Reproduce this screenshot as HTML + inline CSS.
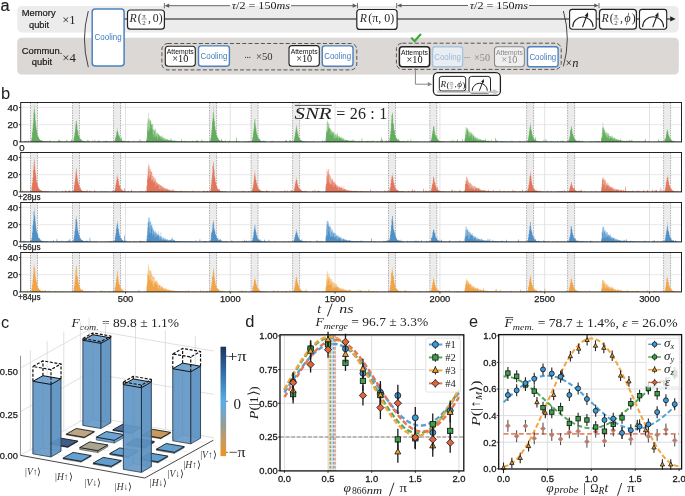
<!DOCTYPE html>
<html><head><meta charset="utf-8"><title>Figure</title>
<style>html,body{margin:0;padding:0;background:#fff;}svg{display:block;will-change:transform;}</style>
</head><body>
<svg width="685" height="496" viewBox="0 0 685 496">
<rect width="685" height="496" fill="#fff"/>
<text x="0.4" y="10.5" font-family="Liberation Sans" font-size="16.3" fill="#222" stroke="#1a1a1a" stroke-width="0.2">a</text>
<rect x="17.2" y="6" width="661.6" height="26.4" rx="4.5" fill="#ececec"/>
<rect x="17.2" y="37.7" width="661.6" height="36.8" rx="4.5" fill="#dbd8d6"/>
<text x="21.8" y="16.4" font-family="Liberation Sans" font-size="9.2" textLength="33.8" lengthAdjust="spacingAndGlyphs" fill="#1a1a1a" stroke="#1a1a1a" stroke-width="0.2">Memory</text>
<text x="29.0" y="27.6" font-family="Liberation Sans" font-size="9.2" textLength="20.2" lengthAdjust="spacingAndGlyphs" fill="#1a1a1a" stroke="#1a1a1a" stroke-width="0.2">qubit</text>
<text x="62.2" y="23.6" font-family="Liberation Serif" font-size="12.5" textLength="13.4" lengthAdjust="spacingAndGlyphs" fill="#222">×1</text>
<text x="21.8" y="53.7" font-family="Liberation Sans" font-size="9.3" textLength="40.6" lengthAdjust="spacingAndGlyphs" fill="#1a1a1a" stroke="#1a1a1a" stroke-width="0.2">Commun.</text>
<text x="31.8" y="64.8" font-family="Liberation Sans" font-size="9.2" textLength="20.3" lengthAdjust="spacingAndGlyphs" fill="#1a1a1a" stroke="#1a1a1a" stroke-width="0.2">qubit</text>
<text x="62.2" y="61.6" font-family="Liberation Serif" font-size="12.5" textLength="13.6" lengthAdjust="spacingAndGlyphs" fill="#222">×4</text>
<path d="M88.3 11 Q80.6 39 88.3 67.2" fill="none" stroke="#333" stroke-width="0.9"/>
<path d="M563.4 11 Q571.2 38.6 563.4 66.4" fill="none" stroke="#333" stroke-width="0.9"/>
<text x="565.6" y="66.6" font-family="Liberation Serif" font-size="11.5" fill="#222">×</text>
<text x="572.2" y="66.6" font-family="Liberation Serif" font-size="12.5" font-style="italic" fill="#222">n</text>
<line x1="124" y1="19.0" x2="670.5" y2="19.0" stroke="#151515" stroke-width="1.15"/>
<path d="M675.6 18.9 l-5.4 -2.6 v5.2z" fill="#222"/>
<rect x="92.2" y="9.1" width="31.90" height="56.80" rx="2.8" fill="#fff" stroke="#4c82bd" stroke-width="1.5"/>
<text x="108.1" y="40.2" font-family="Liberation Sans" font-size="9.3" text-anchor="middle" textLength="27.0" lengthAdjust="spacingAndGlyphs" fill="#3f7bbd">Cooling</text>
<rect x="127.5" y="10.0" width="36.90" height="19.20" rx="3" fill="#fff" stroke="#222" stroke-width="1.2"/><text x="129.40" y="21.80" font-family="Liberation Serif" font-size="11.8" font-style="italic" fill="#2a2a2a">R</text><text x="137.80" y="22.20" font-family="Liberation Serif" font-size="11.8" fill="#2a2a2a">(</text><text x="144.10" y="17.95" font-family="Liberation Serif" font-size="7.0" text-anchor="middle" fill="#3a3a3a">π</text><line x1="141.44" y1="19.00" x2="146.76" y2="19.00" stroke="#3a3a3a" stroke-width="0.5"/><text x="144.10" y="24.60" font-family="Liberation Serif" font-size="7.0" text-anchor="middle" fill="#3a3a3a">2</text><text x="148.10" y="21.80" font-family="Liberation Serif" font-size="11.8" fill="#2a2a2a">,</text><text x="152.70" y="21.80" font-family="Liberation Serif" font-size="11.8" fill="#2a2a2a">0</text><text x="158.70" y="22.20" font-family="Liberation Serif" font-size="11.8" fill="#2a2a2a">)</text>
<rect x="356.8" y="9.5" width="40.30" height="19.90" rx="3" fill="#fff" stroke="#222" stroke-width="1.2"/><text x="359.80" y="22.00" font-family="Liberation Serif" font-size="11.8" font-style="italic" fill="#2a2a2a">R</text><text x="368.20" y="22.40" font-family="Liberation Serif" font-size="11.8" textLength="26.0" lengthAdjust="spacingAndGlyphs" fill="#2a2a2a">(π, 0)</text>
<rect x="569.6" y="9.4" width="26.60" height="19.80" rx="2.6" fill="#fff" stroke="#222" stroke-width="1.1"/><path d="M572.80 26.60 A10.10 9.60 0 0 1 593.00 26.60" fill="none" stroke="#222" stroke-width="1.15" stroke-linecap="round"/><line x1="582.70" y1="26.60" x2="586.45" y2="16.46" stroke="#222" stroke-width="1.15" stroke-linecap="round"/><path d="M587.95 12.37 L588.21 17.11 L584.68 15.80Z" fill="#222"/>
<rect x="599.5" y="9.4" width="36.90" height="19.80" rx="3" fill="#fff" stroke="#222" stroke-width="1.2"/><text x="601.40" y="21.80" font-family="Liberation Serif" font-size="11.8" font-style="italic" fill="#2a2a2a">R</text><text x="609.80" y="22.20" font-family="Liberation Serif" font-size="11.8" fill="#2a2a2a">(</text><text x="616.10" y="17.95" font-family="Liberation Serif" font-size="7.0" text-anchor="middle" fill="#3a3a3a">π</text><line x1="613.44" y1="19.00" x2="618.76" y2="19.00" stroke="#3a3a3a" stroke-width="0.5"/><text x="616.10" y="24.60" font-family="Liberation Serif" font-size="7.0" text-anchor="middle" fill="#3a3a3a">2</text><text x="620.10" y="21.80" font-family="Liberation Serif" font-size="11.8" fill="#2a2a2a">,</text><text x="624.50" y="21.80" font-family="Liberation Serif" font-size="11.8" font-style="italic" fill="#2a2a2a">ϕ</text><text x="631.70" y="22.20" font-family="Liberation Serif" font-size="11.8" fill="#2a2a2a">)</text>
<rect x="639.5" y="9.4" width="27.20" height="19.80" rx="2.6" fill="#fff" stroke="#222" stroke-width="1.1"/><path d="M642.70 26.60 A10.40 9.88 0 0 1 663.50 26.60" fill="none" stroke="#222" stroke-width="1.15" stroke-linecap="round"/><line x1="652.90" y1="26.60" x2="656.73" y2="16.45" stroke="#222" stroke-width="1.15" stroke-linecap="round"/><path d="M658.27 12.37 L658.49 17.11 L654.97 15.78Z" fill="#222"/>
<line x1="164.4" y1="3.1" x2="164.4" y2="8.4" stroke="#5a5a5a" stroke-width="0.9"/><line x1="357.5" y1="3.1" x2="357.5" y2="8.4" stroke="#5a5a5a" stroke-width="0.9"/><line x1="166.4" y1="5.7" x2="230.0" y2="5.7" stroke="#555" stroke-width="0.9"/><line x1="291.0" y1="5.7" x2="355.5" y2="5.7" stroke="#555" stroke-width="0.9"/><path d="M164.8 5.7 l4.4 -2.1 v4.2z" fill="#5a5a5a"/><path d="M357.1 5.7 l-4.4 -2.1 v4.2z" fill="#5a5a5a"/><text x="231.7" y="8.9" font-family="Liberation Serif" font-size="10.6" fill="#222" textLength="58.3" lengthAdjust="spacingAndGlyphs"><tspan font-style="italic">τ</tspan>/2 = 150<tspan font-style="italic">ms</tspan></text>
<line x1="396.7" y1="2.9" x2="396.7" y2="8.2" stroke="#5a5a5a" stroke-width="0.9"/><line x1="599.0" y1="2.9" x2="599.0" y2="8.2" stroke="#5a5a5a" stroke-width="0.9"/><line x1="398.7" y1="5.5" x2="468.0" y2="5.5" stroke="#555" stroke-width="0.9"/><line x1="529.0" y1="5.5" x2="597.0" y2="5.5" stroke="#555" stroke-width="0.9"/><path d="M397.09999999999997 5.5 l4.4 -2.1 v4.2z" fill="#5a5a5a"/><path d="M598.6 5.5 l-4.4 -2.1 v4.2z" fill="#5a5a5a"/><text x="469.7" y="8.7" font-family="Liberation Serif" font-size="10.6" fill="#222" textLength="58.3" lengthAdjust="spacingAndGlyphs"><tspan font-style="italic">τ</tspan>/2 = 150<tspan font-style="italic">ms</tspan></text>
<rect x="161.9" y="43.5" width="194.9" height="26.4" rx="6" fill="none" stroke="#555" stroke-width="1" stroke-dasharray="4 2.2"/>
<rect x="396.4" y="43.2" width="164.8" height="26.2" rx="6" fill="none" stroke="#555" stroke-width="1" stroke-dasharray="4 2.2"/>
<rect x="165.3" y="46.3" width="30.00" height="19.90" rx="3" fill="#fff" stroke="#222" stroke-width="1.1"/><text x="180.30" y="54.30" font-family="Liberation Sans" font-size="6.6" text-anchor="middle" textLength="27.0" lengthAdjust="spacingAndGlyphs" fill="#111">Attempts</text><text x="180.30" y="62.40" font-family="Liberation Serif" font-size="10" text-anchor="middle" textLength="16" lengthAdjust="spacingAndGlyphs" fill="#111">×10</text>
<rect x="198.5" y="45.9" width="30.90" height="20.30" rx="2.6" fill="#fff" stroke="#4c82bd" stroke-width="1.4"/><text x="213.95" y="59.15" font-family="Liberation Sans" font-size="9.1" text-anchor="middle" textLength="26.8" lengthAdjust="spacingAndGlyphs" fill="#3f7bbd">Cooling</text>
<circle cx="245.6" cy="57.3" r="0.65" fill="#333"/><circle cx="247.7" cy="57.3" r="0.65" fill="#333"/><circle cx="249.8" cy="57.3" r="0.65" fill="#333"/>
<text x="256.0" y="60.2" font-family="Liberation Serif" font-size="10" textLength="16.6" lengthAdjust="spacingAndGlyphs" fill="#333">×50</text>
<rect x="289.0" y="45.6" width="30.30" height="20.60" rx="3" fill="#fff" stroke="#222" stroke-width="1.1"/><text x="304.15" y="53.60" font-family="Liberation Sans" font-size="6.6" text-anchor="middle" textLength="27.0" lengthAdjust="spacingAndGlyphs" fill="#111">Attempts</text><text x="304.15" y="61.70" font-family="Liberation Serif" font-size="10" text-anchor="middle" textLength="16" lengthAdjust="spacingAndGlyphs" fill="#111">×10</text>
<rect x="322.3" y="45.9" width="30.70" height="20.30" rx="2.6" fill="#fff" stroke="#4c82bd" stroke-width="1.4"/><text x="337.65" y="59.15" font-family="Liberation Sans" font-size="9.1" text-anchor="middle" textLength="26.8" lengthAdjust="spacingAndGlyphs" fill="#3f7bbd">Cooling</text>
<rect x="399.4" y="46.7" width="30.20" height="20.10" rx="3" fill="#fff" stroke="#222" stroke-width="1.5"/><text x="414.50" y="54.70" font-family="Liberation Sans" font-size="6.6" text-anchor="middle" textLength="27.0" lengthAdjust="spacingAndGlyphs" fill="#111">Attempts</text><text x="414.50" y="62.80" font-family="Liberation Serif" font-size="10" text-anchor="middle" textLength="16" lengthAdjust="spacingAndGlyphs" fill="#111">×10</text>
<rect x="432.6" y="46.7" width="30.00" height="20.10" rx="2.6" fill="#e9eef3" stroke="#a9c3dc" stroke-width="1.4"/><text x="447.60" y="59.85" font-family="Liberation Sans" font-size="9.1" text-anchor="middle" textLength="26.8" lengthAdjust="spacingAndGlyphs" fill="#9db9d6">Cooling</text>
<circle cx="465.0" cy="57.6" r="0.65" fill="#888"/><circle cx="467.1" cy="57.6" r="0.65" fill="#888"/><circle cx="469.2" cy="57.6" r="0.65" fill="#888"/>
<text x="474.0" y="60.6" font-family="Liberation Serif" font-size="10" textLength="16.0" lengthAdjust="spacingAndGlyphs" fill="#888">×50</text>
<rect x="494.5" y="46.7" width="29.90" height="20.10" rx="3" fill="#efefef" stroke="#8a8a8a" stroke-width="1.1"/><text x="509.45" y="54.70" font-family="Liberation Sans" font-size="6.6" text-anchor="middle" textLength="27.0" lengthAdjust="spacingAndGlyphs" fill="#8a8a8a">Attempts</text><text x="509.45" y="62.80" font-family="Liberation Serif" font-size="10" text-anchor="middle" textLength="16" lengthAdjust="spacingAndGlyphs" fill="#8a8a8a">×10</text>
<rect x="527.5" y="46.7" width="30.60" height="20.10" rx="2.6" fill="#fff" stroke="#4c82bd" stroke-width="1.4"/><text x="542.80" y="59.85" font-family="Liberation Sans" font-size="9.1" text-anchor="middle" textLength="26.8" lengthAdjust="spacingAndGlyphs" fill="#3f7bbd">Cooling</text>
<path d="M411.2 37.6 L414.6 41.2 L420.9 34.0" fill="none" stroke="#3aaa35" stroke-width="2.1"/>
<path d="M415.4 67 V84.2 H429.4" fill="none" stroke="#888" stroke-width="1"/>
<path d="M432.2 84.2 l-4.4 -2.3 v4.6z" fill="#888"/>
<rect x="433.4" y="72.7" width="67.00" height="22.70" rx="4.5" fill="#fff" stroke="#222" stroke-width="1.3"/>
<line x1="437.4" y1="91.6" x2="494" y2="91.6" stroke="#c9c9c9" stroke-width="2.6"/>
<path d="M499.4 91.9 l-6 -2.9 v5.8z" fill="#c9c9c9"/>
<rect x="439.3" y="76.4" width="26.40" height="14.60" rx="2.4" fill="#fff" stroke="#222" stroke-width="1.0"/><text x="440.5" y="87.4" font-family="Liberation Serif" font-size="9.2" font-style="italic" fill="#222">R</text><text x="446.6" y="87.6" font-family="Liberation Serif" font-size="9.2" fill="#222">(</text><text x="451.60" y="84.05" font-family="Liberation Serif" font-size="5.0" text-anchor="middle" fill="#555">π</text><line x1="449.70" y1="84.80" x2="453.50" y2="84.80" stroke="#555" stroke-width="0.5"/><text x="451.60" y="88.80" font-family="Liberation Serif" font-size="5.0" text-anchor="middle" fill="#555">2</text><text x="454.4" y="87.4" font-family="Liberation Serif" font-size="9.2" fill="#222">,</text><text x="457.2" y="87.4" font-family="Liberation Serif" font-size="9.2" font-style="italic" fill="#222">ϕ</text><text x="462.2" y="87.6" font-family="Liberation Serif" font-size="9.2" fill="#222">)</text>
<rect x="469.0" y="76.4" width="21.50" height="16.60" rx="2.6" fill="#fff" stroke="#222" stroke-width="1.0"/><path d="M472.20 90.40 A7.55 7.17 0 0 1 487.30 90.40" fill="none" stroke="#222" stroke-width="1.0" stroke-linecap="round"/><line x1="479.55" y1="90.40" x2="482.56" y2="82.31" stroke="#222" stroke-width="1.0" stroke-linecap="round"/><path d="M483.83 78.89 L484.04 82.86 L481.08 81.76Z" fill="#222"/>
<line x1="437.4" y1="92.2" x2="494" y2="92.2" stroke="#c9c9c9" stroke-width="1.6"/>
<text x="1.0" y="99.0" font-family="Liberation Sans" font-size="16.5" fill="#222">b</text>
<rect x="30.50" y="102.50" width="7" height="39.40" fill="#ececec"/>
<rect x="72.50" y="102.50" width="7" height="39.40" fill="#ececec"/>
<rect x="113.55" y="102.50" width="7" height="39.40" fill="#ececec"/>
<rect x="209.55" y="102.50" width="7" height="39.40" fill="#ececec"/>
<rect x="251.05" y="102.50" width="7" height="39.40" fill="#ececec"/>
<rect x="292.60" y="102.50" width="7" height="39.40" fill="#ececec"/>
<rect x="388.50" y="102.50" width="7" height="39.40" fill="#ececec"/>
<rect x="429.85" y="102.50" width="7" height="39.40" fill="#ececec"/>
<rect x="526.60" y="102.50" width="7" height="39.40" fill="#ececec"/>
<rect x="567.60" y="102.50" width="7" height="39.40" fill="#ececec"/>
<rect x="663.60" y="102.50" width="7" height="39.40" fill="#ececec"/>
<line x1="20.70" y1="124.66" x2="681.50" y2="124.66" stroke="#e3e3e3" stroke-width="0.8"/>
<line x1="20.70" y1="107.42" x2="681.50" y2="107.42" stroke="#e3e3e3" stroke-width="0.8"/>
<line x1="125.50" y1="102.50" x2="125.50" y2="141.90" stroke="#dcdcdc" stroke-width="0.8"/>
<line x1="230.30" y1="102.50" x2="230.30" y2="141.90" stroke="#dcdcdc" stroke-width="0.8"/>
<line x1="335.10" y1="102.50" x2="335.10" y2="141.90" stroke="#dcdcdc" stroke-width="0.8"/>
<line x1="439.90" y1="102.50" x2="439.90" y2="141.90" stroke="#dcdcdc" stroke-width="0.8"/>
<line x1="544.70" y1="102.50" x2="544.70" y2="141.90" stroke="#dcdcdc" stroke-width="0.8"/>
<line x1="649.50" y1="102.50" x2="649.50" y2="141.90" stroke="#dcdcdc" stroke-width="0.8"/>
<line x1="30.50" y1="102.50" x2="30.50" y2="141.90" stroke="#7a7a7a" stroke-width="0.6" stroke-dasharray="1.4 1.1"/>
<line x1="37.50" y1="102.50" x2="37.50" y2="141.90" stroke="#7a7a7a" stroke-width="0.6" stroke-dasharray="1.4 1.1"/>
<line x1="72.50" y1="102.50" x2="72.50" y2="141.90" stroke="#7a7a7a" stroke-width="0.6" stroke-dasharray="1.4 1.1"/>
<line x1="79.50" y1="102.50" x2="79.50" y2="141.90" stroke="#7a7a7a" stroke-width="0.6" stroke-dasharray="1.4 1.1"/>
<line x1="113.55" y1="102.50" x2="113.55" y2="141.90" stroke="#7a7a7a" stroke-width="0.6" stroke-dasharray="1.4 1.1"/>
<line x1="120.55" y1="102.50" x2="120.55" y2="141.90" stroke="#7a7a7a" stroke-width="0.6" stroke-dasharray="1.4 1.1"/>
<line x1="209.55" y1="102.50" x2="209.55" y2="141.90" stroke="#7a7a7a" stroke-width="0.6" stroke-dasharray="1.4 1.1"/>
<line x1="216.55" y1="102.50" x2="216.55" y2="141.90" stroke="#7a7a7a" stroke-width="0.6" stroke-dasharray="1.4 1.1"/>
<line x1="251.05" y1="102.50" x2="251.05" y2="141.90" stroke="#7a7a7a" stroke-width="0.6" stroke-dasharray="1.4 1.1"/>
<line x1="258.05" y1="102.50" x2="258.05" y2="141.90" stroke="#7a7a7a" stroke-width="0.6" stroke-dasharray="1.4 1.1"/>
<line x1="292.60" y1="102.50" x2="292.60" y2="141.90" stroke="#7a7a7a" stroke-width="0.6" stroke-dasharray="1.4 1.1"/>
<line x1="299.60" y1="102.50" x2="299.60" y2="141.90" stroke="#7a7a7a" stroke-width="0.6" stroke-dasharray="1.4 1.1"/>
<line x1="388.50" y1="102.50" x2="388.50" y2="141.90" stroke="#7a7a7a" stroke-width="0.6" stroke-dasharray="1.4 1.1"/>
<line x1="395.50" y1="102.50" x2="395.50" y2="141.90" stroke="#7a7a7a" stroke-width="0.6" stroke-dasharray="1.4 1.1"/>
<line x1="429.85" y1="102.50" x2="429.85" y2="141.90" stroke="#7a7a7a" stroke-width="0.6" stroke-dasharray="1.4 1.1"/>
<line x1="436.85" y1="102.50" x2="436.85" y2="141.90" stroke="#7a7a7a" stroke-width="0.6" stroke-dasharray="1.4 1.1"/>
<line x1="526.60" y1="102.50" x2="526.60" y2="141.90" stroke="#7a7a7a" stroke-width="0.6" stroke-dasharray="1.4 1.1"/>
<line x1="533.60" y1="102.50" x2="533.60" y2="141.90" stroke="#7a7a7a" stroke-width="0.6" stroke-dasharray="1.4 1.1"/>
<line x1="567.60" y1="102.50" x2="567.60" y2="141.90" stroke="#7a7a7a" stroke-width="0.6" stroke-dasharray="1.4 1.1"/>
<line x1="574.60" y1="102.50" x2="574.60" y2="141.90" stroke="#7a7a7a" stroke-width="0.6" stroke-dasharray="1.4 1.1"/>
<line x1="663.60" y1="102.50" x2="663.60" y2="141.90" stroke="#7a7a7a" stroke-width="0.6" stroke-dasharray="1.4 1.1"/>
<line x1="670.60" y1="102.50" x2="670.60" y2="141.90" stroke="#7a7a7a" stroke-width="0.6" stroke-dasharray="1.4 1.1"/>
<path d="M21.20 141.90V141.9H21.70V141.9H22.20V141.9H22.70V141.9H23.20V141.9H23.70V141.9H24.20V141.9H24.70V140.8H25.20V141.1H25.70V141.9H26.20V141.9H26.70V141.4H27.20V141.9H27.70V141.9H28.20V140.2H28.70V141.9H29.20V141.9H29.70V141.9H30.20V141.9H30.70V141.9H31.20V140.5H31.70V137.2H32.20V132.1H32.70V124.8H33.20V118.0H33.70V109.3H34.20V105.3H34.70V113.7H35.20V119.9H35.70V124.7H36.20V128.6H36.70V131.5H37.20V133.8H37.70V135.4H38.20V137.0H38.70V138.1H39.20V138.9H39.70V139.6H40.20V140.1H40.70V140.5H41.20V140.8H41.70V140.1H42.20V140.8H42.70V141.0H43.20V141.5H43.70V141.2H44.20V141.6H44.70V141.7H45.20V141.8H45.70V141.8H46.20V141.1H46.70V140.7H47.20V141.7H47.70V141.9H48.20V141.4H48.70V141.9H49.20V141.9H49.70V140.1H50.20V141.9H50.70V141.1H51.20V141.9H51.70V141.9H52.20V141.9H52.70V141.9H53.20V141.9H53.70V141.5H54.20V141.5H54.70V141.9H55.20V141.9H55.70V141.9H56.20V141.9H56.70V141.2H57.20V141.9H57.70V141.7H58.20V141.9H58.70V139.3H59.20V140.5H59.70V140.4H60.20V141.5H60.70V141.9H61.20V141.7H61.70V141.3H62.20V141.9H62.70V141.9H63.20V141.6H63.70V141.9H64.20V141.7H64.70V141.2H65.20V141.9H65.70V141.3H66.20V141.9H66.70V139.6H67.20V141.9H67.70V141.9H68.20V141.9H68.70V141.9H69.20V141.7H69.70V141.5H70.20V141.4H70.70V141.9H71.20V139.2H71.70V140.8H72.20V141.9H72.70V141.9H73.20V141.2H73.70V138.3H74.20V135.9H74.70V132.3H75.20V127.1H75.70V121.8H76.20V120.5H76.70V124.6H77.20V128.9H77.70V130.3H78.20V134.0H78.70V135.8H79.20V137.1H79.70V138.2H80.20V138.4H80.70V139.6H81.20V140.1H81.70V139.7H82.20V140.8H82.70V141.1H83.20V141.3H83.70V141.4H84.20V141.5H84.70V141.6H85.20V141.7H85.70V141.7H86.20V141.8H86.70V141.8H87.20V141.6H87.70V139.2H88.20V141.8H88.70V141.7H89.20V140.8H89.70V141.9H90.20V141.9H90.70V141.9H91.20V141.9H91.70V141.9H92.20V140.3H92.70V141.9H93.20V141.8H93.70V141.8H94.20V141.9H94.70V139.7H95.20V141.9H95.70V141.9H96.20V141.9H96.70V141.6H97.20V141.2H97.70V141.9H98.20V140.6H98.70V140.3H99.20V141.9H99.70V141.2H100.20V141.9H100.70V141.9H101.20V141.9H101.70V141.9H102.20V141.9H102.70V141.6H103.20V141.9H103.70V140.9H104.20V141.7H104.70V141.3H105.20V141.7H105.70V141.8H106.20V140.3H106.70V141.9H107.20V141.6H107.70V141.5H108.20V141.9H108.70V141.7H109.20V141.9H109.70V141.8H110.20V141.9H110.70V140.9H111.20V141.9H111.70V141.9H112.20V141.8H112.70V141.9H113.20V141.9H113.70V141.8H114.20V141.1H114.70V140.4H115.20V137.6H115.70V136.2H116.20V133.5H116.70V130.4H117.20V127.9H117.70V131.4H118.20V133.7H118.70V135.5H119.20V135.2H119.70V138.0H120.20V138.9H120.70V139.6H121.20V136.7H121.70V140.5H122.20V140.8H122.70V141.0H123.20V140.4H123.70V141.4H124.20V141.2H124.70V141.6H125.20V141.7H125.70V141.7H126.20V141.3H126.70V141.8H127.20V141.6H127.70V141.5H128.20V140.7H128.70V140.9H129.20V141.9H129.70V141.9H130.20V141.9H130.70V141.9H131.20V141.8H131.70V141.9H132.20V141.9H132.70V141.6H133.20V141.9H133.70V140.5H134.20V141.9H134.70V141.9H135.20V141.9H135.70V141.9H136.20V141.9H136.70V141.9H137.20V141.4H137.70V141.9H138.20V141.8H138.70V141.9H139.20V141.9H139.70V138.8H140.20V141.9H140.70V141.9H141.20V140.7H141.70V141.9H142.20V141.9H142.70V141.4H143.20V141.9H143.70V141.9H144.20V141.9H144.70V141.9H145.20V141.9H145.70V141.7H146.20V140.1H146.70V136.2H147.20V126.7H147.70V119.0H148.20V112.7H148.70V119.8H149.20V117.9H149.70V120.5H150.20V120.6H150.70V120.4H151.20V124.8H151.70V122.9H152.20V124.0H152.70V124.7H153.20V128.9H153.70V129.4H154.20V130.6H154.70V129.8H155.20V128.2H155.70V130.6H156.20V132.9H156.70V133.5H157.20V132.6H157.70V133.4H158.20V134.2H158.70V134.5H159.20V134.9H159.70V135.9H160.20V135.9H160.70V135.6H161.20V136.7H161.70V136.8H162.20V135.3H162.70V137.7H163.20V137.6H163.70V137.8H164.20V137.9H164.70V137.9H165.20V138.9H165.70V139.0H166.20V139.2H166.70V139.0H167.20V139.1H167.70V139.4H168.20V139.7H168.70V139.8H169.20V140.0H169.70V140.3H170.20V140.1H170.70V137.9H171.20V140.2H171.70V140.6H172.20V140.6H172.70V140.6H173.20V140.6H173.70V140.5H174.20V140.9H174.70V139.7H175.20V141.1H175.70V141.1H176.20V140.8H176.70V141.1H177.20V141.2H177.70V140.7H178.20V141.3H178.70V141.3H179.20V141.4H179.70V141.4H180.20V141.4H180.70V141.4H181.20V139.1H181.70V141.4H182.20V140.8H182.70V141.6H183.20V141.5H183.70V141.6H184.20V140.6H184.70V141.6H185.20V141.6H185.70V141.4H186.20V141.4H186.70V141.7H187.20V141.7H187.70V141.7H188.20V141.1H188.70V141.7H189.20V141.6H189.70V141.7H190.20V141.8H190.70V141.3H191.20V141.8H191.70V141.8H192.20V140.5H192.70V141.2H193.20V141.8H193.70V141.2H194.20V141.8H194.70V141.8H195.20V141.8H195.70V141.8H196.20V140.6H196.70V139.9H197.20V140.7H197.70V141.7H198.20V141.5H198.70V141.9H199.20V141.9H199.70V141.9H200.20V141.5H200.70V141.9H201.20V141.9H201.70V139.3H202.20V141.7H202.70V141.5H203.20V141.9H203.70V141.9H204.20V140.7H204.70V141.9H205.20V141.9H205.70V141.9H206.20V141.5H206.70V141.9H207.20V141.1H207.70V141.9H208.20V141.9H208.70V141.9H209.20V141.9H209.70V141.8H210.20V140.3H210.70V137.9H211.20V132.9H211.70V127.7H212.20V121.0H212.70V112.4H213.20V106.5H213.70V115.6H214.20V121.4H214.70V125.9H215.20V129.5H215.70V131.8H216.20V134.4H216.70V135.5H217.20V137.3H217.70V137.7H218.20V138.8H218.70V139.7H219.20V140.2H219.70V140.6H220.20V140.9H220.70V141.1H221.20V138.7H221.70V139.9H222.20V141.1H222.70V141.6H223.20V141.2H223.70V141.0H224.20V141.8H224.70V141.8H225.20V139.8H225.70V141.8H226.20V141.8H226.70V141.7H227.20V141.9H227.70V140.8H228.20V141.8H228.70V141.8H229.20V140.4H229.70V141.6H230.20V141.8H230.70V141.9H231.20V141.7H231.70V141.9H232.20V141.9H232.70V141.1H233.20V141.9H233.70V141.9H234.20V141.1H234.70V141.9H235.20V141.9H235.70V141.7H236.20V137.1H236.70V141.1H237.20V141.9H237.70V140.7H238.20V141.9H238.70V141.9H239.20V141.0H239.70V141.8H240.20V141.9H240.70V141.9H241.20V141.9H241.70V141.9H242.20V141.9H242.70V141.9H243.20V141.9H243.70V141.9H244.20V141.5H244.70V141.9H245.20V141.9H245.70V141.9H246.20V141.8H246.70V140.9H247.20V141.8H247.70V141.9H248.20V140.7H248.70V141.8H249.20V141.6H249.70V141.7H250.20V141.9H250.70V141.9H251.20V141.9H251.70V140.9H252.20V139.0H252.70V136.2H253.20V132.1H253.70V127.6H254.20V122.5H254.70V118.5H255.20V123.7H255.70V128.1H256.20V131.1H256.70V133.0H257.20V135.4H257.70V136.8H258.20V137.9H258.70V138.7H259.20V138.5H259.70V140.0H260.20V140.4H260.70V140.8H261.20V141.0H261.70V141.2H262.20V141.4H262.70V140.9H263.20V141.6H263.70V139.9H264.20V141.6H264.70V141.3H265.20V141.8H265.70V141.7H266.20V141.8H266.70V141.8H267.20V141.9H267.70V141.9H268.20V141.9H268.70V141.9H269.20V141.9H269.70V141.9H270.20V141.7H270.70V141.6H271.20V141.0H271.70V141.9H272.20V140.7H272.70V141.9H273.20V141.4H273.70V141.9H274.20V141.2H274.70V141.9H275.20V141.9H275.70V141.8H276.20V141.9H276.70V141.4H277.20V141.7H277.70V141.9H278.20V141.6H278.70V141.9H279.20V141.7H279.70V141.8H280.20V141.9H280.70V141.9H281.20V141.9H281.70V141.6H282.20V141.9H282.70V141.9H283.20V141.9H283.70V141.4H284.20V141.9H284.70V141.9H285.20V140.7H285.70V140.0H286.20V140.0H286.70V141.9H287.20V141.9H287.70V141.9H288.20V141.9H288.70V141.9H289.20V141.9H289.70V139.5H290.20V140.2H290.70V140.9H291.20V141.9H291.70V141.9H292.20V141.9H292.70V141.9H293.20V141.6H293.70V140.2H294.20V138.0H294.70V135.1H295.20V131.8H295.70V128.0H296.20V124.6H296.70V128.4H297.20V131.4H297.70V131.7H298.20V135.5H298.70V136.9H299.20V138.0H299.70V138.9H300.20V139.6H300.70V140.1H301.20V140.5H301.70V140.8H302.20V141.0H302.70V141.2H303.20V141.4H303.70V141.5H304.20V141.6H304.70V141.7H305.20V141.7H305.70V141.8H306.20V141.8H306.70V141.8H307.20V141.8H307.70V141.8H308.20V141.9H308.70V141.9H309.20V141.9H309.70V141.0H310.20V141.9H310.70V141.9H311.20V141.7H311.70V141.9H312.20V141.9H312.70V141.9H313.20V140.5H313.70V141.9H314.20V141.9H314.70V141.9H315.20V141.9H315.70V141.9H316.20V141.9H316.70V141.9H317.20V141.9H317.70V141.9H318.20V141.9H318.70V141.6H319.20V141.9H319.70V141.9H320.20V141.9H320.70V141.9H321.20V141.9H321.70V141.9H322.20V140.0H322.70V141.9H323.20V141.9H323.70V141.7H324.20V141.9H324.70V140.5H325.20V141.9H325.70V136.6H326.20V130.4H326.70V122.7H327.20V120.6H327.70V121.5H328.20V123.4H328.70V123.6H329.20V127.8H329.70V128.2H330.20V128.7H330.70V129.7H331.20V130.1H331.70V130.7H332.20V131.6H332.70V133.1H333.20V131.5H333.70V131.9H334.20V133.3H334.70V134.5H335.20V134.6H335.70V134.2H336.20V135.2H336.70V133.6H337.20V133.1H337.70V135.8H338.20V136.6H338.70V136.6H339.20V135.6H339.70V136.9H340.20V137.5H340.70V137.6H341.20V136.5H341.70V138.8H342.20V138.6H342.70V137.3H343.20V138.6H343.70V138.4H344.20V139.5H344.70V139.7H345.20V139.6H345.70V140.1H346.20V140.0H346.70V139.8H347.20V140.2H347.70V140.2H348.20V140.4H348.70V140.5H349.20V140.7H349.70V140.7H350.20V140.4H350.70V140.4H351.20V140.5H351.70V141.0H352.20V141.0H352.70V139.0H353.20V140.6H353.70V141.2H354.20V140.6H354.70V140.9H355.20V141.3H355.70V141.3H356.20V141.4H356.70V141.4H357.20V141.5H357.70V141.4H358.20V141.3H358.70V140.5H359.20V141.6H359.70V141.5H360.20V140.9H360.70V141.6H361.20V141.6H361.70V138.1H362.20V141.6H362.70V141.6H363.20V141.5H363.70V141.7H364.20V141.4H364.70V141.7H365.20V141.3H365.70V141.7H366.20V140.9H366.70V141.4H367.20V140.8H367.70V141.8H368.20V141.8H368.70V140.5H369.20V141.8H369.70V141.8H370.20V141.8H370.70V141.0H371.20V141.8H371.70V141.8H372.20V141.8H372.70V140.1H373.20V141.8H373.70V141.8H374.20V141.8H374.70V141.8H375.20V141.9H375.70V141.7H376.20V141.4H376.70V141.9H377.20V140.4H377.70V141.9H378.20V141.5H378.70V141.9H379.20V141.9H379.70V141.9H380.20V140.2H380.70V141.3H381.20V137.3H381.70V141.2H382.20V139.4H382.70V141.8H383.20V141.9H383.70V141.5H384.20V141.9H384.70V141.0H385.20V140.5H385.70V141.9H386.20V140.2H386.70V141.8H387.20V141.9H387.70V140.8H388.20V141.0H388.70V141.9H389.20V140.8H389.70V138.1H390.20V133.8H390.70V128.6H391.20V120.1H391.70V115.2H392.20V112.2H392.70V118.8H393.20V123.3H393.70V127.9H394.20V130.2H394.70V133.3H395.20V135.2H395.70V136.7H396.20V137.9H396.70V138.8H397.20V139.5H397.70V140.0H398.20V139.3H398.70V138.9H399.20V141.0H399.70V141.2H400.20V141.4H400.70V141.5H401.20V141.6H401.70V141.6H402.20V141.7H402.70V141.7H403.20V140.6H403.70V141.8H404.20V141.8H404.70V141.8H405.20V141.8H405.70V141.9H406.20V141.2H406.70V141.9H407.20V141.9H407.70V140.1H408.20V141.9H408.70V141.9H409.20V141.9H409.70V141.9H410.20V141.5H410.70V139.6H411.20V141.9H411.70V141.9H412.20V141.9H412.70V141.9H413.20V141.5H413.70V141.5H414.20V141.9H414.70V141.9H415.20V141.7H415.70V141.9H416.20V141.5H416.70V141.9H417.20V141.3H417.70V141.9H418.20V141.9H418.70V141.7H419.20V141.9H419.70V141.9H420.20V141.9H420.70V141.9H421.20V141.9H421.70V141.9H422.20V141.9H422.70V141.9H423.20V141.9H423.70V141.9H424.20V141.7H424.70V141.9H425.20V141.9H425.70V141.9H426.20V141.9H426.70V141.9H427.20V141.9H427.70V141.9H428.20V141.9H428.70V141.9H429.20V141.9H429.70V141.9H430.20V141.9H430.70V140.4H431.20V139.0H431.70V136.2H432.20V133.5H432.70V129.9H433.20V125.9H433.70V126.5H434.20V129.2H434.70V132.6H435.20V134.7H435.70V135.4H436.20V137.5H436.70V135.0H437.20V139.2H437.70V138.8H438.20V140.3H438.70V140.6H439.20V140.9H439.70V141.1H440.20V141.3H440.70V141.2H441.20V141.5H441.70V141.6H442.20V141.7H442.70V141.7H443.20V141.8H443.70V141.6H444.20V141.0H444.70V141.8H445.20V141.9H445.70V141.9H446.20V141.9H446.70V141.9H447.20V141.3H447.70V141.9H448.20V141.6H448.70V141.9H449.20V141.9H449.70V141.2H450.20V141.9H450.70V140.5H451.20V141.3H451.70V141.9H452.20V141.9H452.70V139.5H453.20V141.9H453.70V141.4H454.20V141.9H454.70V141.7H455.20V141.9H455.70V140.7H456.20V141.4H456.70V141.4H457.20V139.0H457.70V141.9H458.20V141.9H458.70V141.9H459.20V141.9H459.70V140.8H460.20V141.9H460.70V141.8H461.20V141.9H461.70V141.9H462.20V138.7H462.70V141.7H463.20V141.9H463.70V141.9H464.20V141.9H464.70V138.2H465.20V132.0H465.70V127.1H466.20V128.4H466.70V127.8H467.20V127.9H467.70V131.0H468.20V129.3H468.70V132.0H469.20V130.8H469.70V132.9H470.20V131.7H470.70V132.2H471.20V132.6H471.70V134.6H472.20V135.6H472.70V132.8H473.20V135.2H473.70V136.4H474.20V136.7H474.70V135.6H475.20V137.1H475.70V137.8H476.20V137.6H476.70V138.0H477.20V137.6H477.70V138.5H478.20V139.1H478.70V139.1H479.20V139.3H479.70V138.7H480.20V139.5H480.70V139.6H481.20V139.4H481.70V140.0H482.20V139.9H482.70V139.8H483.20V140.0H483.70V140.4H484.20V140.1H484.70V140.5H485.20V138.3H485.70V140.7H486.20V140.8H486.70V140.8H487.20V141.0H487.70V140.5H488.20V140.7H488.70V140.7H489.20V141.1H489.70V141.2H490.20V141.2H490.70V141.2H491.20V139.7H491.70V141.4H492.20V141.3H492.70V141.4H493.20V141.1H493.70V141.5H494.20V141.4H494.70V141.5H495.20V137.6H495.70V141.5H496.20V140.6H496.70V139.8H497.20V141.2H497.70V141.6H498.20V141.7H498.70V141.6H499.20V141.7H499.70V141.4H500.20V141.7H500.70V141.7H501.20V140.8H501.70V141.7H502.20V141.7H502.70V141.6H503.20V141.8H503.70V141.4H504.20V141.6H504.70V141.8H505.20V141.8H505.70V141.8H506.20V141.8H506.70V141.8H507.20V141.8H507.70V141.8H508.20V141.8H508.70V141.7H509.20V141.8H509.70V141.8H510.20V141.8H510.70V141.9H511.20V141.8H511.70V140.2H512.20V141.6H512.70V141.6H513.20V141.9H513.70V141.9H514.20V141.9H514.70V141.9H515.20V141.5H515.70V141.9H516.20V141.9H516.70V141.9H517.20V141.9H517.70V141.9H518.20V141.1H518.70V141.9H519.20V141.1H519.70V141.9H520.20V140.9H520.70V141.9H521.20V141.9H521.70V141.9H522.20V141.9H522.70V141.9H523.20V141.9H523.70V140.6H524.20V141.9H524.70V141.9H525.20V141.9H525.70V141.9H526.20V141.8H526.70V141.9H527.20V141.6H527.70V140.0H528.20V137.6H528.70V134.5H529.20V130.8H529.70V126.6H530.20V122.8H530.70V127.1H531.20V130.0H531.70V132.5H532.20V134.9H532.70V136.4H533.20V137.6H533.70V138.6H534.20V139.3H534.70V139.9H535.20V136.9H535.70V140.2H536.20V141.0H536.70V141.2H537.20V140.8H537.70V141.5H538.20V141.2H538.70V141.6H539.20V141.7H539.70V141.2H540.20V141.8H540.70V141.8H541.20V141.8H541.70V141.8H542.20V141.5H542.70V141.9H543.20V141.9H543.70V139.4H544.20V141.9H544.70V141.9H545.20V141.8H545.70V138.7H546.20V141.7H546.70V141.9H547.20V140.8H547.70V141.9H548.20V141.9H548.70V141.9H549.20V141.9H549.70V141.9H550.20V141.9H550.70V140.5H551.20V141.9H551.70V141.3H552.20V141.9H552.70V141.9H553.20V140.9H553.70V141.9H554.20V141.9H554.70V141.9H555.20V141.5H555.70V141.9H556.20V141.9H556.70V141.9H557.20V140.6H557.70V141.9H558.20V141.9H558.70V141.9H559.20V141.9H559.70V141.9H560.20V141.9H560.70V140.6H561.20V141.9H561.70V141.7H562.20V141.0H562.70V140.2H563.20V141.8H563.70V141.9H564.20V141.9H564.70V141.9H565.20V141.9H565.70V141.9H566.20V141.9H566.70V141.9H567.20V141.9H567.70V140.5H568.20V141.6H568.70V139.6H569.20V137.8H569.70V135.8H570.20V129.5H570.70V129.2H571.20V126.3H571.70V128.1H572.20V132.4H572.70V134.5H573.20V135.8H573.70V137.4H574.20V138.4H574.70V138.6H575.20V139.8H575.70V140.3H576.20V140.5H576.70V140.9H577.20V141.1H577.70V141.0H578.20V140.4H578.70V140.4H579.20V140.9H579.70V141.4H580.20V141.3H580.70V141.5H581.20V141.8H581.70V140.6H582.20V141.8H582.70V141.1H583.20V141.8H583.70V141.7H584.20V141.9H584.70V141.9H585.20V141.9H585.70V141.9H586.20V141.9H586.70V141.9H587.20V141.9H587.70V141.9H588.20V141.9H588.70V141.9H589.20V141.9H589.70V141.9H590.20V141.9H590.70V140.9H591.20V141.9H591.70V141.2H592.20V141.9H592.70V141.9H593.20V141.9H593.70V141.6H594.20V141.9H594.70V141.5H595.20V141.6H595.70V141.5H596.20V141.9H596.70V141.6H597.20V141.9H597.70V141.4H598.20V141.4H598.70V141.1H599.20V141.5H599.70V141.9H600.20V141.9H600.70V141.9H601.20V137.6H601.70V132.6H602.20V128.2H602.70V122.4H603.20V127.9H603.70V127.5H604.20V130.0H604.70V130.0H605.20V132.1H605.70V133.0H606.20V132.7H606.70V131.6H607.20V133.5H607.70V133.4H608.20V133.2H608.70V134.0H609.20V135.9H609.70V136.1H610.20V135.6H610.70V136.3H611.20V136.6H611.70V136.7H612.20V135.5H612.70V138.0H613.20V137.5H613.70V138.2H614.20V137.4H614.70V137.7H615.20V139.0H615.70V138.7H616.20V139.5H616.70V139.2H617.20V139.6H617.70V139.6H618.20V139.7H618.70V139.4H619.20V140.1H619.70V140.1H620.20V138.6H620.70V139.8H621.20V140.4H621.70V140.6H622.20V140.6H622.70V140.8H623.20V140.7H623.70V140.7H624.20V140.8H624.70V140.9H625.20V140.9H625.70V141.0H626.20V140.5H626.70V141.1H627.20V141.2H627.70V140.8H628.20V141.3H628.70V140.2H629.20V141.4H629.70V140.0H630.20V141.4H630.70V141.5H631.20V140.6H631.70V139.4H632.20V141.5H632.70V141.5H633.20V141.6H633.70V141.6H634.20V141.6H634.70V141.7H635.20V141.6H635.70V141.4H636.20V141.4H636.70V141.7H637.20V141.7H637.70V141.7H638.20V141.7H638.70V141.7H639.20V140.9H639.70V141.6H640.20V141.8H640.70V141.8H641.20V141.8H641.70V141.8H642.20V141.5H642.70V141.4H643.20V141.7H643.70V141.8H644.20V140.6H644.70V141.8H645.20V138.8H645.70V141.8H646.20V141.8H646.70V141.8H647.20V141.8H647.70V141.8H648.20V141.7H648.70V141.1H649.20V141.9H649.70V141.9H650.20V141.9H650.70V141.9H651.20V141.9H651.70V141.8H652.20V141.9H652.70V141.9H653.20V141.9H653.70V141.9H654.20V141.8H654.70V141.9H655.20V141.9H655.70V141.9H656.20V141.7H656.70V141.9H657.20V141.9H657.70V141.9H658.20V139.0H658.70V141.9H659.20V141.2H659.70V141.2H660.20V141.9H660.70V141.9H661.20V140.8H661.70V141.9H662.20V141.9H662.70V141.3H663.20V141.6H663.70V141.9H664.20V141.7H664.70V138.5H665.20V138.9H665.70V136.8H666.20V133.8H666.70V130.8H667.20V128.9H667.70V131.8H668.20V134.0H668.70V135.7H669.20V137.1H669.70V138.2H670.20V138.6H670.70V139.3H671.20V139.8H671.70V140.5H672.20V140.8H672.70V141.0H673.20V141.3H673.70V141.4H674.20V141.5H674.70V141.6H675.20V141.7H675.70V141.7H676.20V141.8H676.70V141.8H677.20V141.8H677.70V141.8H678.20V141.8H678.70V141.9H679.20V141.5H679.70V141.9H680.20V141.6H680.70V141.9H681.20V141.90Z" fill="#9fcd98" opacity="1.0"/>
<path d="M21.20 141.90V141.9H21.70V141.9H22.20V141.9H22.70V141.9H23.20V141.9H23.70V141.9H24.20V141.9H24.70V141.1H25.20V141.3H25.70V141.9H26.20V141.9H26.70V141.6H27.20V141.9H27.70V141.9H28.20V140.7H28.70V141.9H29.20V141.9H29.70V141.9H30.20V141.9H30.70V141.9H31.20V140.8H31.70V138.1H32.20V132.8H32.70V128.5H33.20V123.1H33.70V112.6H34.20V109.4H34.70V113.7H35.20V121.5H35.70V126.4H36.20V129.9H36.70V133.2H37.20V135.6H37.70V136.6H38.20V137.3H38.70V138.7H39.20V139.3H39.70V140.1H40.20V140.1H40.70V140.8H41.20V141.0H41.70V140.3H42.20V141.0H42.70V141.1H43.20V141.5H43.70V141.3H44.20V141.7H44.70V141.7H45.20V141.8H45.70V141.8H46.20V141.3H46.70V141.0H47.20V141.8H47.70V141.9H48.20V141.5H48.70V141.9H49.20V141.9H49.70V140.6H50.20V141.9H50.70V141.3H51.20V141.9H51.70V141.9H52.20V141.9H52.70V141.9H53.20V141.9H53.70V141.6H54.20V141.6H54.70V141.9H55.20V141.9H55.70V141.9H56.20V141.9H56.70V141.4H57.20V141.9H57.70V141.7H58.20V141.9H58.70V140.1H59.20V140.9H59.70V140.9H60.20V141.6H60.70V141.9H61.20V141.8H61.70V141.5H62.20V141.9H62.70V141.9H63.20V141.7H63.70V141.9H64.20V141.7H64.70V141.4H65.20V141.9H65.70V141.5H66.20V141.9H66.70V140.3H67.20V141.9H67.70V141.9H68.20V141.9H68.70V141.9H69.20V141.8H69.70V141.6H70.20V141.6H70.70V141.9H71.20V139.9H71.70V141.1H72.20V141.9H72.70V141.9H73.20V141.2H73.70V138.9H74.20V136.4H74.70V132.8H75.20V129.3H75.70V124.0H76.20V121.3H76.70V124.8H77.20V131.3H77.70V130.7H78.20V135.8H78.70V136.0H79.20V137.2H79.70V138.9H80.20V139.0H80.70V139.7H81.20V140.5H81.70V140.1H82.20V140.9H82.70V141.2H83.20V141.3H83.70V141.5H84.20V141.6H84.70V141.6H85.20V141.7H85.70V141.7H86.20V141.8H86.70V141.8H87.20V141.7H87.70V139.9H88.20V141.8H88.70V141.8H89.20V141.1H89.70V141.9H90.20V141.9H90.70V141.9H91.20V141.9H91.70V141.9H92.20V140.8H92.70V141.9H93.20V141.8H93.70V141.8H94.20V141.9H94.70V140.3H95.20V141.9H95.70V141.9H96.20V141.9H96.70V141.7H97.20V141.4H97.70V141.9H98.20V141.0H98.70V140.8H99.20V141.9H99.70V141.4H100.20V141.9H100.70V141.9H101.20V141.9H101.70V141.9H102.20V141.9H102.70V141.7H103.20V141.9H103.70V141.2H104.20V141.7H104.70V141.5H105.20V141.7H105.70V141.8H106.20V140.7H106.70V141.9H107.20V141.7H107.70V141.6H108.20V141.9H108.70V141.8H109.20V141.9H109.70V141.8H110.20V141.9H110.70V141.2H111.20V141.9H111.70V141.9H112.20V141.9H112.70V141.9H113.20V141.9H113.70V141.8H114.20V141.3H114.70V140.7H115.20V138.4H115.70V137.2H116.20V135.0H116.70V131.4H117.20V130.9H117.70V132.2H118.20V135.2H118.70V135.9H119.20V136.8H119.70V138.6H120.20V138.9H120.70V139.8H121.20V137.7H121.70V140.6H122.20V140.9H122.70V141.2H123.20V140.7H123.70V141.5H124.20V141.3H124.70V141.6H125.20V141.7H125.70V141.7H126.20V141.4H126.70V141.8H127.20V141.7H127.70V141.6H128.20V141.1H128.70V141.1H129.20V141.9H129.70V141.9H130.20V141.9H130.70V141.9H131.20V141.9H131.70V141.9H132.20V141.9H132.70V141.7H133.20V141.9H133.70V140.9H134.20V141.9H134.70V141.9H135.20V141.9H135.70V141.9H136.20V141.9H136.70V141.9H137.20V141.5H137.70V141.9H138.20V141.8H138.70V141.9H139.20V141.9H139.70V139.7H140.20V141.9H140.70V141.9H141.20V141.1H141.70V141.9H142.20V141.9H142.70V141.6H143.20V141.9H143.70V141.9H144.20V141.9H144.70V141.9H145.20V141.9H145.70V141.7H146.20V140.6H146.70V138.7H147.20V130.2H147.70V122.3H148.20V131.2H148.70V131.5H149.20V128.8H149.70V128.5H150.20V121.4H150.70V124.1H151.20V124.9H151.70V128.3H152.20V129.8H152.70V134.6H153.20V134.1H153.70V137.6H154.20V131.3H154.70V135.6H155.20V137.0H155.70V136.3H156.20V136.8H156.70V134.8H157.20V139.2H157.70V138.2H158.20V134.4H158.70V135.7H159.20V136.6H159.70V137.7H160.20V138.7H160.70V137.0H161.20V137.7H161.70V138.7H162.20V138.4H162.70V139.9H163.20V139.6H163.70V139.9H164.20V140.6H164.70V139.4H165.20V140.0H165.70V140.4H166.20V140.3H166.70V140.5H167.20V140.2H167.70V140.1H168.20V140.5H168.70V141.0H169.20V140.3H169.70V140.7H170.20V140.9H170.70V138.9H171.20V140.7H171.70V140.7H172.20V140.8H172.70V141.0H173.20V141.0H173.70V141.2H174.20V141.1H174.70V140.6H175.20V141.5H175.70V141.6H176.20V141.3H176.70V141.7H177.20V141.3H177.70V141.1H178.20V141.4H178.70V141.7H179.20V141.5H179.70V141.5H180.20V141.7H180.70V141.7H181.20V140.0H181.70V141.6H182.20V141.2H182.70V141.7H183.20V141.7H183.70V141.7H184.20V141.0H184.70V141.7H185.20V141.8H185.70V141.5H186.20V141.5H186.70V141.7H187.20V141.8H187.70V141.7H188.20V141.4H188.70V141.8H189.20V141.7H189.70V141.8H190.20V141.8H190.70V141.5H191.20V141.8H191.70V141.8H192.20V140.9H192.70V141.4H193.20V141.9H193.70V141.4H194.20V141.9H194.70V141.9H195.20V141.8H195.70V141.9H196.20V141.0H196.70V140.5H197.20V141.1H197.70V141.8H198.20V141.6H198.70V141.9H199.20V141.9H199.70V141.9H200.20V141.6H200.70V141.9H201.20V141.9H201.70V140.0H202.20V141.8H202.70V141.6H203.20V141.9H203.70V141.9H204.20V141.0H204.70V141.9H205.20V141.9H205.70V141.9H206.20V141.6H206.70V141.9H207.20V141.3H207.70V141.9H208.20V141.9H208.70V141.9H209.20V141.9H209.70V141.8H210.20V140.6H210.70V137.9H211.20V134.9H211.70V129.8H212.20V122.6H212.70V118.6H213.20V112.6H213.70V118.5H214.20V121.6H214.70V126.6H215.20V129.7H215.70V132.3H216.20V134.8H216.70V135.7H217.20V137.6H217.70V138.0H218.20V139.3H218.70V140.1H219.20V140.3H219.70V140.8H220.20V140.9H220.70V141.2H221.20V139.5H221.70V140.3H222.20V141.3H222.70V141.6H223.20V141.4H223.70V141.2H224.20V141.8H224.70V141.8H225.20V140.4H225.70V141.8H226.20V141.9H226.70V141.8H227.20V141.9H227.70V141.1H228.20V141.8H228.70V141.8H229.20V140.8H229.70V141.7H230.20V141.8H230.70V141.9H231.20V141.7H231.70V141.9H232.20V141.9H232.70V141.3H233.20V141.9H233.70V141.9H234.20V141.3H234.70V141.9H235.20V141.9H235.70V141.7H236.20V138.5H236.70V141.3H237.20V141.9H237.70V141.1H238.20V141.9H238.70V141.9H239.20V141.3H239.70V141.9H240.20V141.9H240.70V141.9H241.20V141.9H241.70V141.9H242.20V141.9H242.70V141.9H243.20V141.9H243.70V141.9H244.20V141.6H244.70V141.9H245.20V141.9H245.70V141.9H246.20V141.8H246.70V141.2H247.20V141.9H247.70V141.9H248.20V141.1H248.70V141.9H249.20V141.7H249.70V141.8H250.20V141.9H250.70V141.9H251.20V141.9H251.70V141.1H252.20V139.4H252.70V137.0H253.20V132.4H253.70V129.5H254.20V122.9H254.70V119.4H255.20V125.9H255.70V128.8H256.20V133.4H256.70V134.2H257.20V135.5H257.70V137.2H258.20V138.3H258.70V138.9H259.20V138.9H259.70V140.2H260.20V140.6H260.70V141.0H261.20V141.2H261.70V141.3H262.20V141.4H262.70V141.1H263.20V141.6H263.70V140.4H264.20V141.6H264.70V141.4H265.20V141.8H265.70V141.7H266.20V141.8H266.70V141.9H267.20V141.9H267.70V141.9H268.20V141.9H268.70V141.9H269.20V141.9H269.70V141.9H270.20V141.7H270.70V141.7H271.20V141.3H271.70V141.9H272.20V141.0H272.70V141.9H273.20V141.6H273.70V141.9H274.20V141.4H274.70V141.9H275.20V141.9H275.70V141.9H276.20V141.9H276.70V141.5H277.20V141.7H277.70V141.9H278.20V141.7H278.70V141.9H279.20V141.7H279.70V141.8H280.20V141.9H280.70V141.9H281.20V141.9H281.70V141.7H282.20V141.9H282.70V141.9H283.20V141.9H283.70V141.6H284.20V141.9H284.70V141.9H285.20V141.0H285.70V140.5H286.20V140.5H286.70V141.9H287.20V141.9H287.70V141.9H288.20V141.9H288.70V141.9H289.20V141.9H289.70V140.2H290.20V140.7H290.70V141.2H291.20V141.9H291.70V141.9H292.20V141.9H292.70V141.9H293.20V141.6H293.70V140.4H294.20V138.6H294.70V135.9H295.20V132.8H295.70V130.6H296.20V126.6H296.70V129.3H297.20V133.4H297.70V133.8H298.20V136.7H298.70V137.7H299.20V138.0H299.70V139.5H300.20V140.0H300.70V140.4H301.20V140.6H301.70V141.0H302.20V141.1H302.70V141.4H303.20V141.5H303.70V141.5H304.20V141.6H304.70V141.7H305.20V141.7H305.70V141.8H306.20V141.8H306.70V141.8H307.20V141.8H307.70V141.8H308.20V141.9H308.70V141.9H309.20V141.9H309.70V141.2H310.20V141.9H310.70V141.9H311.20V141.8H311.70V141.9H312.20V141.9H312.70V141.9H313.20V140.9H313.70V141.9H314.20V141.9H314.70V141.9H315.20V141.9H315.70V141.9H316.20V141.9H316.70V141.9H317.20V141.9H317.70V141.9H318.20V141.9H318.70V141.7H319.20V141.9H319.70V141.9H320.20V141.9H320.70V141.9H321.20V141.9H321.70V141.9H322.20V140.6H322.70V141.9H323.20V141.9H323.70V141.7H324.20V141.9H324.70V140.9H325.20V141.9H325.70V139.1H326.20V131.5H326.70V133.1H327.20V131.8H327.70V129.1H328.20V129.1H328.70V126.8H329.20V128.0H329.70V135.0H330.20V131.1H330.70V132.7H331.20V135.2H331.70V132.7H332.20V132.4H332.70V135.7H333.20V133.4H333.70V138.4H334.20V138.4H334.70V135.6H335.20V138.2H335.70V137.2H336.20V137.8H336.70V138.1H337.20V135.4H337.70V137.7H338.20V139.9H338.70V139.0H339.20V137.0H339.70V137.9H340.20V137.9H340.70V138.8H341.20V138.4H341.70V139.8H342.20V140.2H342.70V139.0H343.20V140.3H343.70V140.3H344.20V140.6H344.70V141.1H345.20V140.6H345.70V140.4H346.20V140.5H346.70V140.0H347.20V140.5H347.70V140.8H348.20V140.6H348.70V141.1H349.20V140.9H349.70V141.3H350.20V141.0H350.70V140.6H351.20V141.0H351.70V141.3H352.20V141.2H352.70V140.0H353.20V140.8H353.70V141.7H354.20V141.1H354.70V141.4H355.20V141.6H355.70V141.4H356.20V141.7H356.70V141.6H357.20V141.6H357.70V141.6H358.20V141.4H358.70V141.0H359.20V141.7H359.70V141.6H360.20V141.3H360.70V141.8H361.20V141.8H361.70V139.2H362.20V141.7H362.70V141.7H363.20V141.6H363.70V141.8H364.20V141.5H364.70V141.8H365.20V141.5H365.70V141.8H366.20V141.2H366.70V141.5H367.20V141.1H367.70V141.8H368.20V141.9H368.70V140.9H369.20V141.8H369.70V141.8H370.20V141.8H370.70V141.2H371.20V141.8H371.70V141.8H372.20V141.8H372.70V140.6H373.20V141.9H373.70V141.9H374.20V141.9H374.70V141.9H375.20V141.9H375.70V141.8H376.20V141.6H376.70V141.9H377.20V140.9H377.70V141.9H378.20V141.6H378.70V141.9H379.20V141.9H379.70V141.9H380.20V140.7H380.70V141.5H381.20V138.6H381.70V141.4H382.20V140.1H382.70V141.8H383.20V141.9H383.70V141.6H384.20V141.9H384.70V141.2H385.20V140.9H385.70V141.9H386.20V140.7H386.70V141.8H387.20V141.9H387.70V141.1H388.20V141.3H388.70V141.9H389.20V140.9H389.70V138.2H390.20V134.8H390.70V131.1H391.20V123.4H391.70V114.9H392.20V113.5H392.70V123.3H393.20V124.0H393.70V130.0H394.20V130.8H394.70V135.2H395.20V135.3H395.70V137.7H396.20V138.3H396.70V139.0H397.20V139.7H397.70V140.4H398.20V139.9H398.70V139.6H399.20V141.2H399.70V141.3H400.20V141.5H400.70V141.5H401.20V141.6H401.70V141.7H402.20V141.7H402.70V141.8H403.20V141.0H403.70V141.8H404.20V141.8H404.70V141.8H405.20V141.8H405.70V141.9H406.20V141.4H406.70V141.9H407.20V141.9H407.70V140.6H408.20V141.9H408.70V141.9H409.20V141.9H409.70V141.9H410.20V141.6H410.70V140.2H411.20V141.9H411.70V141.9H412.20V141.9H412.70V141.9H413.20V141.6H413.70V141.6H414.20V141.9H414.70V141.9H415.20V141.8H415.70V141.9H416.20V141.6H416.70V141.9H417.20V141.5H417.70V141.9H418.20V141.9H418.70V141.7H419.20V141.9H419.70V141.9H420.20V141.9H420.70V141.9H421.20V141.9H421.70V141.9H422.20V141.9H422.70V141.9H423.20V141.9H423.70V141.9H424.20V141.8H424.70V141.9H425.20V141.9H425.70V141.9H426.20V141.9H426.70V141.9H427.20V141.9H427.70V141.9H428.20V141.9H428.70V141.9H429.20V141.9H429.70V141.9H430.20V141.9H430.70V140.7H431.20V139.6H431.70V137.4H432.20V133.9H432.70V131.0H433.20V126.8H433.70V127.0H434.20V131.4H434.70V134.2H435.20V135.8H435.70V136.5H436.20V137.7H436.70V136.4H437.20V139.6H437.70V139.2H438.20V140.6H438.70V140.9H439.20V141.0H439.70V141.1H440.20V141.4H440.70V141.3H441.20V141.6H441.70V141.7H442.20V141.7H442.70V141.8H443.20V141.8H443.70V141.7H444.20V141.2H444.70V141.8H445.20V141.9H445.70V141.9H446.20V141.9H446.70V141.9H447.20V141.4H447.70V141.9H448.20V141.7H448.70V141.9H449.20V141.9H449.70V141.4H450.20V141.9H450.70V140.9H451.20V141.5H451.70V141.9H452.20V141.9H452.70V140.2H453.20V141.9H453.70V141.5H454.20V141.9H454.70V141.7H455.20V141.9H455.70V141.1H456.20V141.6H456.70V141.5H457.20V139.8H457.70V141.9H458.20V141.9H458.70V141.9H459.20V141.9H459.70V141.1H460.20V141.9H460.70V141.8H461.20V141.9H461.70V141.9H462.20V139.6H462.70V141.7H463.20V141.9H463.70V141.9H464.20V141.9H464.70V139.3H465.20V134.9H465.70V137.2H466.20V134.7H466.70V129.9H467.20V129.5H467.70V131.7H468.20V137.0H468.70V133.5H469.20V136.0H469.70V138.0H470.20V135.7H470.70V134.2H471.20V134.6H471.70V137.8H472.20V139.5H472.70V134.4H473.20V135.9H473.70V138.0H474.20V139.5H474.70V138.1H475.20V138.3H475.70V139.2H476.20V139.7H476.70V140.1H477.20V139.9H477.70V140.7H478.20V140.4H478.70V139.1H479.20V141.0H479.70V139.7H480.20V139.9H480.70V140.6H481.20V140.4H481.70V141.0H482.20V140.5H482.70V140.5H483.20V140.6H483.70V140.9H484.20V140.3H484.70V140.6H485.20V139.4H485.70V141.0H486.20V141.3H486.70V140.9H487.20V141.1H487.70V140.8H488.20V141.2H488.70V140.8H489.20V141.6H489.70V141.4H490.20V141.6H490.70V141.6H491.20V140.3H491.70V141.7H492.20V141.6H492.70V141.7H493.20V141.2H493.70V141.7H494.20V141.7H494.70V141.5H495.20V138.8H495.70V141.6H496.20V140.9H496.70V140.5H497.20V141.4H497.70V141.7H498.20V141.7H498.70V141.7H499.20V141.8H499.70V141.7H500.20V141.7H500.70V141.8H501.20V141.2H501.70V141.8H502.20V141.8H502.70V141.7H503.20V141.8H503.70V141.6H504.20V141.7H504.70V141.9H505.20V141.8H505.70V141.8H506.20V141.8H506.70V141.8H507.20V141.9H507.70V141.8H508.20V141.8H508.70V141.8H509.20V141.8H509.70V141.9H510.20V141.8H510.70V141.9H511.20V141.9H511.70V140.7H512.20V141.7H512.70V141.7H513.20V141.9H513.70V141.9H514.20V141.9H514.70V141.9H515.20V141.7H515.70V141.9H516.20V141.9H516.70V141.9H517.20V141.9H517.70V141.9H518.20V141.4H518.70V141.9H519.20V141.4H519.70V141.9H520.20V141.2H520.70V141.9H521.20V141.9H521.70V141.9H522.20V141.9H522.70V141.9H523.20V141.9H523.70V140.9H524.20V141.9H524.70V141.9H525.20V141.9H525.70V141.9H526.20V141.8H526.70V141.9H527.20V141.6H527.70V140.3H528.20V138.4H528.70V135.8H529.20V131.7H529.70V128.4H530.20V125.1H530.70V129.6H531.20V130.8H531.70V134.0H532.20V135.8H532.70V137.0H533.20V137.7H533.70V139.1H534.20V139.4H534.70V140.2H535.20V137.9H535.70V140.5H536.20V141.0H536.70V141.2H537.20V141.0H537.70V141.5H538.20V141.4H538.70V141.6H539.20V141.7H539.70V141.4H540.20V141.8H540.70V141.8H541.20V141.8H541.70V141.8H542.20V141.6H542.70V141.9H543.20V141.9H543.70V140.1H544.20V141.9H544.70V141.9H545.20V141.8H545.70V139.6H546.20V141.8H546.70V141.9H547.20V141.1H547.70V141.9H548.20V141.9H548.70V141.9H549.20V141.9H549.70V141.9H550.20V141.9H550.70V140.9H551.20V141.9H551.70V141.5H552.20V141.9H552.70V141.9H553.20V141.2H553.70V141.9H554.20V141.9H554.70V141.9H555.20V141.6H555.70V141.9H556.20V141.9H556.70V141.9H557.20V141.0H557.70V141.9H558.20V141.9H558.70V141.9H559.20V141.9H559.70V141.9H560.20V141.9H560.70V141.0H561.20V141.9H561.70V141.7H562.20V141.3H562.70V140.7H563.20V141.8H563.70V141.9H564.20V141.9H564.70V141.9H565.20V141.9H565.70V141.9H566.20V141.9H566.70V141.9H567.20V141.9H567.70V140.9H568.20V141.7H568.70V140.0H569.20V138.7H569.70V136.6H570.20V130.3H570.70V131.7H571.20V126.5H571.70V129.4H572.20V133.9H572.70V134.8H573.20V136.8H573.70V137.5H574.20V139.1H574.70V139.3H575.20V139.9H575.70V140.4H576.20V140.8H576.70V141.0H577.20V141.2H577.70V141.2H578.20V140.7H578.70V140.8H579.20V141.1H579.70V141.5H580.20V141.4H580.70V141.6H581.20V141.8H581.70V141.0H582.20V141.8H582.70V141.3H583.20V141.8H583.70V141.8H584.20V141.9H584.70V141.9H585.20V141.9H585.70V141.9H586.20V141.9H586.70V141.9H587.20V141.9H587.70V141.9H588.20V141.9H588.70V141.9H589.20V141.9H589.70V141.9H590.20V141.9H590.70V141.2H591.20V141.9H591.70V141.4H592.20V141.9H592.70V141.9H593.20V141.9H593.70V141.7H594.20V141.9H594.70V141.6H595.20V141.7H595.70V141.6H596.20V141.9H596.70V141.7H597.20V141.9H597.70V141.6H598.20V141.6H598.70V141.3H599.20V141.6H599.70V141.9H600.20V141.9H600.70V141.9H601.20V138.5H601.70V137.7H602.20V136.2H602.70V127.0H603.20V129.6H603.70V132.7H604.20V130.5H604.70V133.4H605.20V134.6H605.70V136.2H606.20V136.9H606.70V135.3H607.20V138.2H607.70V136.8H608.20V135.9H608.70V139.1H609.20V138.3H609.70V138.9H610.20V137.7H610.70V137.5H611.20V138.4H611.70V138.5H612.20V137.7H612.70V139.9H613.20V139.8H613.70V138.8H614.20V138.1H614.70V139.7H615.20V140.9H615.70V139.1H616.20V139.6H616.70V140.2H617.20V139.9H617.70V140.4H618.20V140.1H618.70V140.7H619.20V140.7H619.70V140.6H620.20V139.9H620.70V140.4H621.20V141.2H621.70V140.9H622.20V140.9H622.70V141.2H623.20V140.9H623.70V141.2H624.20V141.1H624.70V141.6H625.20V141.4H625.70V141.3H626.20V140.8H626.70V141.3H627.20V141.3H627.70V141.4H628.20V141.4H628.70V140.6H629.20V141.5H629.70V140.6H630.20V141.5H630.70V141.7H631.20V141.0H631.70V140.1H632.20V141.7H632.70V141.7H633.20V141.8H633.70V141.8H634.20V141.7H634.70V141.8H635.20V141.8H635.70V141.6H636.20V141.5H636.70V141.8H637.20V141.7H637.70V141.7H638.20V141.7H638.70V141.8H639.20V141.2H639.70V141.7H640.20V141.8H640.70V141.8H641.20V141.8H641.70V141.8H642.20V141.6H642.70V141.5H643.20V141.8H643.70V141.9H644.20V141.0H644.70V141.8H645.20V139.7H645.70V141.9H646.20V141.9H646.70V141.8H647.20V141.9H647.70V141.9H648.20V141.8H648.70V141.3H649.20V141.9H649.70V141.9H650.20V141.9H650.70V141.9H651.20V141.9H651.70V141.8H652.20V141.9H652.70V141.9H653.20V141.9H653.70V141.9H654.20V141.8H654.70V141.9H655.20V141.9H655.70V141.9H656.20V141.8H656.70V141.9H657.20V141.9H657.70V141.9H658.20V139.8H658.70V141.9H659.20V141.4H659.70V141.4H660.20V141.9H660.70V141.9H661.20V141.1H661.70V141.9H662.20V141.9H662.70V141.5H663.20V141.7H663.70V141.9H664.20V141.7H664.70V139.2H665.20V139.0H665.70V137.5H666.20V134.6H666.70V132.2H667.20V129.8H667.70V131.7H668.20V135.5H668.70V135.7H669.20V137.4H669.70V138.3H670.20V138.9H670.70V139.4H671.20V140.2H671.70V140.6H672.20V141.0H672.70V141.1H673.20V141.3H673.70V141.5H674.20V141.6H674.70V141.6H675.20V141.7H675.70V141.7H676.20V141.8H676.70V141.8H677.20V141.8H677.70V141.8H678.20V141.9H678.70V141.9H679.20V141.6H679.70V141.9H680.20V141.7H680.70V141.9H681.20V141.90Z" fill="#63ad5f" opacity="1.0"/>
<rect x="20.70" y="102.50" width="660.80" height="39.40" fill="none" stroke="#222" stroke-width="1"/>
<line x1="18.90" y1="141.90" x2="20.70" y2="141.90" stroke="#222" stroke-width="0.8"/>
<text x="18.20" y="145.50" font-family="Liberation Sans" font-size="9.6" text-anchor="end" fill="#1a1a1a" stroke="#1a1a1a" stroke-width="0.25">0</text>
<line x1="18.90" y1="124.66" x2="20.70" y2="124.66" stroke="#222" stroke-width="0.8"/>
<text x="18.20" y="128.26" font-family="Liberation Sans" font-size="9.6" text-anchor="end" fill="#1a1a1a" stroke="#1a1a1a" stroke-width="0.25">20</text>
<line x1="18.90" y1="107.42" x2="20.70" y2="107.42" stroke="#222" stroke-width="0.8"/>
<text x="18.20" y="111.02" font-family="Liberation Sans" font-size="9.6" text-anchor="end" fill="#1a1a1a" stroke="#1a1a1a" stroke-width="0.25">40</text>
<text x="19.2" y="151.0" font-family="Liberation Sans" font-size="9.6" fill="#1a1a1a" stroke="#1a1a1a" stroke-width="0.25">0</text>
<rect x="30.50" y="152.50" width="7" height="39.40" fill="#ececec"/>
<rect x="72.50" y="152.50" width="7" height="39.40" fill="#ececec"/>
<rect x="113.55" y="152.50" width="7" height="39.40" fill="#ececec"/>
<rect x="209.55" y="152.50" width="7" height="39.40" fill="#ececec"/>
<rect x="251.05" y="152.50" width="7" height="39.40" fill="#ececec"/>
<rect x="292.60" y="152.50" width="7" height="39.40" fill="#ececec"/>
<rect x="388.50" y="152.50" width="7" height="39.40" fill="#ececec"/>
<rect x="429.85" y="152.50" width="7" height="39.40" fill="#ececec"/>
<rect x="526.60" y="152.50" width="7" height="39.40" fill="#ececec"/>
<rect x="567.60" y="152.50" width="7" height="39.40" fill="#ececec"/>
<rect x="663.60" y="152.50" width="7" height="39.40" fill="#ececec"/>
<line x1="20.70" y1="174.66" x2="681.50" y2="174.66" stroke="#e3e3e3" stroke-width="0.8"/>
<line x1="20.70" y1="157.42" x2="681.50" y2="157.42" stroke="#e3e3e3" stroke-width="0.8"/>
<line x1="125.50" y1="152.50" x2="125.50" y2="191.90" stroke="#dcdcdc" stroke-width="0.8"/>
<line x1="230.30" y1="152.50" x2="230.30" y2="191.90" stroke="#dcdcdc" stroke-width="0.8"/>
<line x1="335.10" y1="152.50" x2="335.10" y2="191.90" stroke="#dcdcdc" stroke-width="0.8"/>
<line x1="439.90" y1="152.50" x2="439.90" y2="191.90" stroke="#dcdcdc" stroke-width="0.8"/>
<line x1="544.70" y1="152.50" x2="544.70" y2="191.90" stroke="#dcdcdc" stroke-width="0.8"/>
<line x1="649.50" y1="152.50" x2="649.50" y2="191.90" stroke="#dcdcdc" stroke-width="0.8"/>
<line x1="30.50" y1="152.50" x2="30.50" y2="191.90" stroke="#7a7a7a" stroke-width="0.6" stroke-dasharray="1.4 1.1"/>
<line x1="37.50" y1="152.50" x2="37.50" y2="191.90" stroke="#7a7a7a" stroke-width="0.6" stroke-dasharray="1.4 1.1"/>
<line x1="72.50" y1="152.50" x2="72.50" y2="191.90" stroke="#7a7a7a" stroke-width="0.6" stroke-dasharray="1.4 1.1"/>
<line x1="79.50" y1="152.50" x2="79.50" y2="191.90" stroke="#7a7a7a" stroke-width="0.6" stroke-dasharray="1.4 1.1"/>
<line x1="113.55" y1="152.50" x2="113.55" y2="191.90" stroke="#7a7a7a" stroke-width="0.6" stroke-dasharray="1.4 1.1"/>
<line x1="120.55" y1="152.50" x2="120.55" y2="191.90" stroke="#7a7a7a" stroke-width="0.6" stroke-dasharray="1.4 1.1"/>
<line x1="209.55" y1="152.50" x2="209.55" y2="191.90" stroke="#7a7a7a" stroke-width="0.6" stroke-dasharray="1.4 1.1"/>
<line x1="216.55" y1="152.50" x2="216.55" y2="191.90" stroke="#7a7a7a" stroke-width="0.6" stroke-dasharray="1.4 1.1"/>
<line x1="251.05" y1="152.50" x2="251.05" y2="191.90" stroke="#7a7a7a" stroke-width="0.6" stroke-dasharray="1.4 1.1"/>
<line x1="258.05" y1="152.50" x2="258.05" y2="191.90" stroke="#7a7a7a" stroke-width="0.6" stroke-dasharray="1.4 1.1"/>
<line x1="292.60" y1="152.50" x2="292.60" y2="191.90" stroke="#7a7a7a" stroke-width="0.6" stroke-dasharray="1.4 1.1"/>
<line x1="299.60" y1="152.50" x2="299.60" y2="191.90" stroke="#7a7a7a" stroke-width="0.6" stroke-dasharray="1.4 1.1"/>
<line x1="388.50" y1="152.50" x2="388.50" y2="191.90" stroke="#7a7a7a" stroke-width="0.6" stroke-dasharray="1.4 1.1"/>
<line x1="395.50" y1="152.50" x2="395.50" y2="191.90" stroke="#7a7a7a" stroke-width="0.6" stroke-dasharray="1.4 1.1"/>
<line x1="429.85" y1="152.50" x2="429.85" y2="191.90" stroke="#7a7a7a" stroke-width="0.6" stroke-dasharray="1.4 1.1"/>
<line x1="436.85" y1="152.50" x2="436.85" y2="191.90" stroke="#7a7a7a" stroke-width="0.6" stroke-dasharray="1.4 1.1"/>
<line x1="526.60" y1="152.50" x2="526.60" y2="191.90" stroke="#7a7a7a" stroke-width="0.6" stroke-dasharray="1.4 1.1"/>
<line x1="533.60" y1="152.50" x2="533.60" y2="191.90" stroke="#7a7a7a" stroke-width="0.6" stroke-dasharray="1.4 1.1"/>
<line x1="567.60" y1="152.50" x2="567.60" y2="191.90" stroke="#7a7a7a" stroke-width="0.6" stroke-dasharray="1.4 1.1"/>
<line x1="574.60" y1="152.50" x2="574.60" y2="191.90" stroke="#7a7a7a" stroke-width="0.6" stroke-dasharray="1.4 1.1"/>
<line x1="663.60" y1="152.50" x2="663.60" y2="191.90" stroke="#7a7a7a" stroke-width="0.6" stroke-dasharray="1.4 1.1"/>
<line x1="670.60" y1="152.50" x2="670.60" y2="191.90" stroke="#7a7a7a" stroke-width="0.6" stroke-dasharray="1.4 1.1"/>
<path d="M21.20 191.90V191.9H21.70V191.9H22.20V190.3H22.70V191.9H23.20V191.9H23.70V191.9H24.20V191.9H24.70V191.8H25.20V191.9H25.70V191.9H26.20V191.6H26.70V191.9H27.20V191.9H27.70V191.9H28.20V191.9H28.70V191.9H29.20V191.8H29.70V191.6H30.20V191.9H30.70V191.1H31.20V190.9H31.70V186.1H32.20V182.9H32.70V176.9H33.20V170.0H33.70V162.0H34.20V158.3H34.70V165.7H35.20V171.4H35.70V174.8H36.20V179.6H36.70V182.3H37.20V184.5H37.70V186.0H38.20V187.4H38.70V188.4H39.20V189.2H39.70V189.8H40.20V190.0H40.70V189.7H41.20V190.9H41.70V190.6H42.20V190.9H42.70V191.4H43.20V191.5H43.70V191.6H44.20V191.1H44.70V191.7H45.20V191.8H45.70V190.5H46.20V191.6H46.70V191.8H47.20V191.8H47.70V191.0H48.20V191.3H48.70V191.7H49.20V191.9H49.70V191.9H50.20V191.9H50.70V191.3H51.20V191.9H51.70V191.9H52.20V191.8H52.70V191.3H53.20V191.9H53.70V191.9H54.20V191.9H54.70V191.9H55.20V191.4H55.70V191.9H56.20V190.7H56.70V191.9H57.20V191.9H57.70V191.9H58.20V191.9H58.70V191.9H59.20V191.9H59.70V191.9H60.20V191.9H60.70V191.9H61.20V191.9H61.70V191.9H62.20V190.8H62.70V191.9H63.20V191.9H63.70V191.9H64.20V191.9H64.70V191.9H65.20V190.1H65.70V191.3H66.20V191.2H66.70V191.9H67.20V191.9H67.70V191.9H68.20V191.7H68.70V190.5H69.20V191.4H69.70V189.8H70.20V191.6H70.70V191.9H71.20V191.9H71.70V191.9H72.20V191.9H72.70V191.9H73.20V190.9H73.70V188.9H74.20V184.9H74.70V181.6H75.20V176.7H75.70V171.2H76.20V168.1H76.70V173.9H77.20V177.9H77.70V181.0H78.20V183.4H78.70V185.3H79.20V186.0H79.70V187.9H80.20V187.3H80.70V189.5H81.20V190.0H81.70V190.4H82.20V190.8H82.70V191.0H83.20V191.2H83.70V191.4H84.20V190.9H84.70V191.6H85.20V191.4H85.70V191.6H86.20V191.2H86.70V189.6H87.20V191.8H87.70V191.5H88.20V191.8H88.70V191.9H89.20V191.9H89.70V190.2H90.20V191.5H90.70V191.8H91.20V191.8H91.70V191.8H92.20V191.9H92.70V191.9H93.20V191.9H93.70V191.9H94.20V189.9H94.70V191.9H95.20V191.9H95.70V190.8H96.20V191.9H96.70V191.9H97.20V191.9H97.70V191.9H98.20V191.9H98.70V191.8H99.20V191.9H99.70V191.9H100.20V191.9H100.70V191.9H101.20V190.8H101.70V191.9H102.20V191.9H102.70V191.9H103.20V191.9H103.70V191.1H104.20V191.9H104.70V191.6H105.20V191.9H105.70V191.8H106.20V191.7H106.70V191.9H107.20V191.3H107.70V191.9H108.20V191.9H108.70V191.9H109.20V191.9H109.70V191.9H110.20V191.9H110.70V191.9H111.20V191.9H111.70V191.9H112.20V190.6H112.70V191.8H113.20V191.4H113.70V191.9H114.20V191.5H114.70V189.8H115.20V187.4H115.70V183.9H116.20V180.6H116.70V176.2H117.20V173.7H117.70V177.8H118.20V180.9H118.70V183.3H119.20V185.2H119.70V184.8H120.20V187.6H120.70V188.7H121.20V189.4H121.70V189.8H122.20V190.4H122.70V190.7H123.20V191.0H123.70V191.1H124.20V187.9H124.70V191.5H125.20V191.6H125.70V191.5H126.20V191.7H126.70V191.7H127.20V191.8H127.70V191.8H128.20V190.6H128.70V191.8H129.20V191.9H129.70V191.9H130.20V191.8H130.70V191.3H131.20V189.3H131.70V191.0H132.20V191.9H132.70V191.9H133.20V191.9H133.70V191.9H134.20V191.9H134.70V191.4H135.20V191.9H135.70V191.7H136.20V191.9H136.70V191.9H137.20V191.9H137.70V191.9H138.20V191.9H138.70V191.7H139.20V191.9H139.70V191.9H140.20V191.5H140.70V191.4H141.20V191.9H141.70V191.9H142.20V191.2H142.70V191.8H143.20V191.9H143.70V191.9H144.20V191.9H144.70V191.9H145.20V190.4H145.70V191.9H146.20V191.9H146.70V184.9H147.20V175.2H147.70V167.6H148.20V163.7H148.70V166.5H149.20V165.6H149.70V169.2H150.20V168.8H150.70V170.9H151.20V171.8H151.70V171.9H152.20V175.5H152.70V175.8H153.20V176.4H153.70V177.9H154.20V177.5H154.70V180.2H155.20V178.5H155.70V179.2H156.20V182.0H156.70V181.7H157.20V182.8H157.70V183.4H158.20V184.2H158.70V184.0H159.20V184.0H159.70V184.7H160.20V184.9H160.70V185.2H161.20V186.0H161.70V186.0H162.20V186.3H162.70V186.8H163.20V186.9H163.70V187.3H164.20V187.9H164.70V188.4H165.20V187.9H165.70V188.3H166.20V188.7H166.70V189.1H167.20V188.6H167.70V189.5H168.20V189.4H168.70V189.4H169.20V189.6H169.70V190.0H170.20V190.0H170.70V190.4H171.20V190.1H171.70V190.4H172.20V190.4H172.70V188.9H173.20V190.7H173.70V190.7H174.20V190.6H174.70V190.7H175.20V190.9H175.70V190.9H176.20V191.0H176.70V191.1H177.20V191.2H177.70V191.1H178.20V191.3H178.70V191.3H179.20V191.3H179.70V191.4H180.20V191.4H180.70V190.2H181.20V191.4H181.70V191.5H182.20V191.5H182.70V191.1H183.20V191.6H183.70V191.6H184.20V191.6H184.70V191.6H185.20V191.6H185.70V191.6H186.20V191.6H186.70V191.1H187.20V191.7H187.70V191.7H188.20V191.7H188.70V191.7H189.20V191.7H189.70V191.8H190.20V191.7H190.70V191.5H191.20V191.8H191.70V191.8H192.20V191.7H192.70V190.3H193.20V191.8H193.70V191.8H194.20V191.8H194.70V191.6H195.20V191.8H195.70V191.8H196.20V191.8H196.70V191.8H197.20V191.7H197.70V191.8H198.20V191.3H198.70V191.2H199.20V191.8H199.70V191.9H200.20V191.9H200.70V191.9H201.20V191.9H201.70V191.9H202.20V191.9H202.70V191.5H203.20V190.5H203.70V191.5H204.20V190.8H204.70V191.9H205.20V191.9H205.70V191.7H206.20V191.4H206.70V191.3H207.20V190.8H207.70V190.9H208.20V191.9H208.70V191.9H209.20V191.9H209.70V191.4H210.20V191.2H210.70V188.4H211.20V183.5H211.70V177.7H212.20V173.1H212.70V166.1H213.20V161.3H213.70V168.2H214.20V171.8H214.70V177.5H215.20V180.7H215.70V182.4H216.20V185.0H216.70V186.6H217.20V187.8H217.70V188.7H218.20V189.4H218.70V189.3H219.20V189.1H219.70V190.7H220.20V190.7H220.70V191.2H221.20V191.3H221.70V191.2H222.20V191.6H222.70V191.6H223.20V191.7H223.70V191.6H224.20V191.8H224.70V191.8H225.20V191.2H225.70V191.4H226.20V191.9H226.70V191.9H227.20V191.9H227.70V191.9H228.20V191.9H228.70V191.9H229.20V191.9H229.70V191.9H230.20V191.9H230.70V191.9H231.20V191.9H231.70V191.9H232.20V191.8H232.70V191.1H233.20V191.7H233.70V191.9H234.20V191.8H234.70V191.9H235.20V191.9H235.70V191.9H236.20V191.9H236.70V191.1H237.20V191.9H237.70V191.9H238.20V191.9H238.70V191.9H239.20V191.8H239.70V191.8H240.20V191.9H240.70V191.9H241.20V191.9H241.70V190.7H242.20V191.9H242.70V191.8H243.20V191.9H243.70V190.6H244.20V191.9H244.70V191.6H245.20V191.9H245.70V191.9H246.20V191.9H246.70V191.9H247.20V191.9H247.70V191.7H248.20V190.9H248.70V191.3H249.20V191.9H249.70V191.6H250.20V191.9H250.70V191.9H251.20V191.9H251.70V191.4H252.20V189.1H252.70V186.9H253.20V183.4H253.70V179.3H254.20V174.7H254.70V170.6H255.20V176.1H255.70V179.6H256.20V182.3H256.70V183.9H257.20V186.1H257.70V186.3H258.20V188.2H258.70V189.2H259.20V189.8H259.70V189.1H260.20V190.6H260.70V190.9H261.20V191.1H261.70V190.4H262.20V191.4H262.70V191.5H263.20V191.6H263.70V191.4H264.20V191.5H264.70V191.8H265.20V191.6H265.70V191.8H266.20V190.1H266.70V190.9H267.20V190.6H267.70V191.9H268.20V191.2H268.70V191.9H269.20V190.9H269.70V191.9H270.20V191.9H270.70V191.9H271.20V191.9H271.70V191.3H272.20V191.9H272.70V190.6H273.20V191.9H273.70V191.9H274.20V191.9H274.70V191.3H275.20V191.9H275.70V191.9H276.20V191.9H276.70V191.9H277.20V191.8H277.70V191.9H278.20V191.4H278.70V191.9H279.20V191.9H279.70V191.7H280.20V191.3H280.70V191.9H281.20V191.5H281.70V191.9H282.20V191.9H282.70V191.6H283.20V191.4H283.70V191.9H284.20V191.9H284.70V189.9H285.20V191.6H285.70V191.5H286.20V191.9H286.70V191.9H287.20V190.4H287.70V191.9H288.20V191.9H288.70V191.6H289.20V191.7H289.70V191.9H290.20V191.9H290.70V189.8H291.20V190.2H291.70V191.9H292.20V190.5H292.70V191.9H293.20V191.6H293.70V190.4H294.20V188.5H294.70V186.2H295.20V183.3H295.70V179.8H296.20V177.0H296.70V180.4H297.20V183.0H297.70V184.9H298.20V186.5H298.70V187.7H299.20V188.6H299.70V189.3H300.20V189.1H300.70V189.8H301.20V190.3H301.70V191.0H302.20V190.9H302.70V191.3H303.20V191.5H303.70V191.6H304.20V191.6H304.70V191.7H305.20V190.4H305.70V191.8H306.20V191.8H306.70V191.8H307.20V191.8H307.70V191.9H308.20V191.9H308.70V191.8H309.20V191.9H309.70V191.9H310.20V191.9H310.70V191.9H311.20V191.9H311.70V191.9H312.20V191.2H312.70V190.4H313.20V191.9H313.70V191.9H314.20V191.9H314.70V189.6H315.20V191.9H315.70V191.9H316.20V191.9H316.70V191.3H317.20V191.5H317.70V191.9H318.20V190.4H318.70V190.8H319.20V191.4H319.70V191.9H320.20V191.9H320.70V191.9H321.20V191.9H321.70V191.9H322.20V191.9H322.70V191.9H323.20V191.9H323.70V191.9H324.20V191.9H324.70V191.6H325.20V191.5H325.70V184.6H326.20V176.5H326.70V168.7H327.20V171.1H327.70V172.6H328.20V169.0H328.70V169.4H329.20V174.3H329.70V174.9H330.20V175.9H330.70V177.5H331.20V179.3H331.70V178.9H332.20V177.9H332.70V180.3H333.20V181.7H333.70V182.7H334.20V181.2H334.70V182.0H335.20V183.9H335.70V183.3H336.20V185.1H336.70V185.4H337.20V185.0H337.70V186.3H338.20V186.1H338.70V186.4H339.20V187.3H339.70V186.6H340.20V187.0H340.70V187.3H341.20V187.7H341.70V185.8H342.20V188.1H342.70V188.5H343.20V188.6H343.70V186.2H344.20V189.1H344.70V189.0H345.20V189.3H345.70V189.7H346.20V189.7H346.70V189.6H347.20V189.9H347.70V190.3H348.20V190.3H348.70V190.2H349.20V190.2H349.70V190.5H350.20V190.6H350.70V190.8H351.20V190.5H351.70V190.7H352.20V190.9H352.70V190.8H353.20V191.0H353.70V191.0H354.20V190.9H354.70V190.3H355.20V191.2H355.70V191.2H356.20V190.7H356.70V190.7H357.20V191.3H357.70V191.3H358.20V191.4H358.70V191.4H359.20V191.5H359.70V191.5H360.20V190.8H360.70V191.6H361.20V191.5H361.70V191.5H362.20V191.5H362.70V191.2H363.20V191.6H363.70V191.6H364.20V191.7H364.70V191.5H365.20V191.7H365.70V191.4H366.20V191.7H366.70V191.7H367.20V191.7H367.70V191.4H368.20V191.8H368.70V191.8H369.20V191.8H369.70V191.8H370.20V189.1H370.70V191.8H371.20V191.8H371.70V191.8H372.20V191.8H372.70V191.3H373.20V191.7H373.70V191.8H374.20V191.8H374.70V191.8H375.20V191.8H375.70V191.8H376.20V191.4H376.70V191.9H377.20V191.8H377.70V191.3H378.20V191.9H378.70V191.9H379.20V191.9H379.70V191.5H380.20V191.9H380.70V191.8H381.20V191.9H381.70V191.4H382.20V191.9H382.70V191.9H383.20V191.9H383.70V191.9H384.20V191.9H384.70V190.0H385.20V191.9H385.70V191.2H386.20V191.9H386.70V191.9H387.20V190.5H387.70V191.9H388.20V191.3H388.70V191.9H389.20V191.3H389.70V187.6H390.20V186.8H390.70V183.4H391.20V179.4H391.70V174.9H392.20V173.0H392.70V177.1H393.20V180.4H393.70V183.0H394.20V184.9H394.70V186.2H395.20V187.7H395.70V188.6H396.20V189.3H396.70V189.9H397.20V190.3H397.70V189.8H398.20V190.8H398.70V191.2H399.20V191.3H399.70V191.5H400.20V191.6H400.70V191.6H401.20V190.8H401.70V191.7H402.20V191.0H402.70V191.8H403.20V191.5H403.70V191.8H404.20V191.8H404.70V191.9H405.20V191.9H405.70V191.7H406.20V191.9H406.70V191.9H407.20V191.9H407.70V191.4H408.20V190.4H408.70V191.9H409.20V191.9H409.70V191.9H410.20V191.6H410.70V191.9H411.20V190.6H411.70V191.9H412.20V188.8H412.70V191.9H413.20V191.9H413.70V191.1H414.20V189.7H414.70V191.5H415.20V191.8H415.70V191.9H416.20V191.9H416.70V191.9H417.20V191.5H417.70V191.5H418.20V191.9H418.70V191.9H419.20V191.3H419.70V191.9H420.20V191.9H420.70V191.9H421.20V191.9H421.70V191.7H422.20V191.9H422.70V191.9H423.20V188.3H423.70V191.9H424.20V191.9H424.70V191.9H425.20V191.9H425.70V190.0H426.20V190.9H426.70V191.9H427.20V191.9H427.70V191.8H428.20V191.9H428.70V190.3H429.20V191.9H429.70V191.9H430.20V191.9H430.70V190.9H431.20V189.3H431.70V186.3H432.20V184.1H432.70V180.8H433.20V176.9H433.70V177.7H434.20V180.8H434.70V182.5H435.20V185.2H435.70V186.0H436.20V187.2H436.70V188.7H437.20V186.5H437.70V190.0H438.20V190.4H438.70V189.9H439.20V191.0H439.70V191.2H440.20V191.3H440.70V191.5H441.20V191.6H441.70V191.6H442.20V191.7H442.70V191.7H443.20V191.8H443.70V190.7H444.20V191.8H444.70V191.8H445.20V191.9H445.70V191.9H446.20V191.3H446.70V191.8H447.20V191.9H447.70V191.9H448.20V191.9H448.70V191.5H449.20V191.5H449.70V191.9H450.20V191.9H450.70V191.9H451.20V191.9H451.70V189.2H452.20V189.9H452.70V191.9H453.20V191.9H453.70V191.9H454.20V191.9H454.70V190.2H455.20V191.9H455.70V191.9H456.20V191.2H456.70V191.9H457.20V191.9H457.70V191.8H458.20V191.5H458.70V191.9H459.20V191.0H459.70V189.5H460.20V191.7H460.70V191.9H461.20V191.9H461.70V191.9H462.20V191.9H462.70V191.7H463.20V191.9H463.70V191.9H464.20V191.0H464.70V188.2H465.20V184.0H465.70V179.7H466.20V176.6H466.70V176.9H467.20V178.6H467.70V179.2H468.20V181.5H468.70V182.5H469.20V183.3H469.70V182.3H470.20V183.3H470.70V183.2H471.20V184.1H471.70V185.4H472.20V185.3H472.70V185.8H473.20V186.0H473.70V186.9H474.20V186.4H474.70V186.1H475.20V186.1H475.70V187.7H476.20V188.1H476.70V187.0H477.20V188.1H477.70V188.6H478.20V188.6H478.70V187.2H479.20V189.1H479.70V189.1H480.20V189.5H480.70V189.6H481.20V190.0H481.70V190.1H482.20V189.9H482.70V190.3H483.20V190.4H483.70V190.3H484.20V190.3H484.70V190.2H485.20V190.5H485.70V190.7H486.20V190.8H486.70V190.8H487.20V191.0H487.70V190.6H488.20V189.6H488.70V191.0H489.20V190.9H489.70V191.2H490.20V191.2H490.70V191.2H491.20V191.3H491.70V191.4H492.20V190.7H492.70V191.3H493.20V189.7H493.70V191.5H494.20V191.4H494.70V191.5H495.20V191.5H495.70V191.5H496.20V191.5H496.70V190.9H497.20V191.0H497.70V191.6H498.20V191.2H498.70V191.7H499.20V190.9H499.70V189.6H500.20V191.7H500.70V191.7H501.20V191.7H501.70V191.7H502.20V191.8H502.70V191.8H503.20V191.8H503.70V190.6H504.20V191.8H504.70V191.8H505.20V191.3H505.70V191.8H506.20V191.8H506.70V191.8H507.20V191.8H507.70V191.1H508.20V191.6H508.70V191.7H509.20V191.2H509.70V191.8H510.20V191.8H510.70V191.9H511.20V191.5H511.70V191.3H512.20V191.9H512.70V189.5H513.20V191.5H513.70V191.9H514.20V190.8H514.70V191.3H515.20V191.7H515.70V191.9H516.20V190.9H516.70V191.9H517.20V191.9H517.70V191.9H518.20V191.9H518.70V191.9H519.20V191.7H519.70V190.9H520.20V191.8H520.70V191.9H521.20V191.8H521.70V191.9H522.20V189.2H522.70V191.9H523.20V191.9H523.70V191.9H524.20V191.9H524.70V191.9H525.20V191.0H525.70V190.2H526.20V191.9H526.70V191.9H527.20V191.1H527.70V188.9H528.20V187.6H528.70V183.8H529.20V180.3H529.70V176.6H530.20V171.6H530.70V175.8H531.20V178.9H531.70V182.8H532.20V184.9H532.70V186.4H533.20V187.6H533.70V188.5H534.20V189.3H534.70V189.9H535.20V190.3H535.70V190.7H536.20V190.5H536.70V190.6H537.20V190.8H537.70V191.5H538.20V191.6H538.70V191.5H539.20V191.3H539.70V190.3H540.20V191.8H540.70V191.8H541.20V191.8H541.70V191.2H542.20V191.9H542.70V191.9H543.20V191.4H543.70V191.9H544.20V191.9H544.70V191.9H545.20V191.9H545.70V191.9H546.20V191.6H546.70V191.9H547.20V191.9H547.70V190.4H548.20V191.9H548.70V191.9H549.20V191.9H549.70V191.9H550.20V191.9H550.70V191.7H551.20V190.9H551.70V191.9H552.20V191.9H552.70V191.9H553.20V191.9H553.70V191.9H554.20V191.9H554.70V191.9H555.20V191.9H555.70V191.3H556.20V191.9H556.70V191.9H557.20V191.8H557.70V191.2H558.20V191.3H558.70V191.9H559.20V191.9H559.70V191.0H560.20V191.9H560.70V191.8H561.20V191.0H561.70V190.7H562.20V191.9H562.70V190.9H563.20V191.9H563.70V191.9H564.20V189.9H564.70V191.9H565.20V191.6H565.70V191.9H566.20V191.9H566.70V191.9H567.20V191.9H567.70V191.9H568.20V191.7H568.70V190.9H569.20V189.7H569.70V187.8H570.20V186.3H570.70V184.2H571.20V182.0H571.70V184.5H572.20V186.1H572.70V187.4H573.20V188.3H573.70V188.4H574.20V186.4H574.70V190.2H575.20V190.6H575.70V190.1H576.20V191.0H576.70V191.2H577.20V191.4H577.70V191.5H578.20V190.6H578.70V191.7H579.20V191.0H579.70V189.9H580.20V190.7H580.70V190.8H581.20V189.6H581.70V191.9H582.20V191.9H582.70V191.9H583.20V191.7H583.70V191.9H584.20V191.2H584.70V191.8H585.20V191.9H585.70V191.9H586.20V191.9H586.70V191.9H587.20V191.9H587.70V191.9H588.20V191.9H588.70V191.9H589.20V191.9H589.70V191.9H590.20V191.9H590.70V191.9H591.20V191.6H591.70V191.3H592.20V191.9H592.70V191.9H593.20V191.9H593.70V191.9H594.20V191.9H594.70V191.9H595.20V190.6H595.70V191.9H596.20V191.9H596.70V191.9H597.20V191.6H597.70V191.9H598.20V191.9H598.70V191.8H599.20V191.9H599.70V191.9H600.20V191.9H600.70V191.9H601.20V187.2H601.70V183.7H602.20V177.6H602.70V178.7H603.20V177.3H603.70V179.4H604.20V179.0H604.70V179.9H605.20V180.6H605.70V181.2H606.20V183.7H606.70V183.3H607.20V182.9H607.70V185.1H608.20V183.2H608.70V185.2H609.20V185.8H609.70V185.5H610.20V186.7H610.70V187.1H611.20V187.3H611.70V187.9H612.20V187.3H612.70V186.9H613.20V188.4H613.70V188.7H614.20V188.7H614.70V189.1H615.20V188.6H615.70V189.3H616.20V189.2H616.70V189.3H617.20V189.3H617.70V189.6H618.20V189.3H618.70V189.8H619.20V190.2H619.70V190.4H620.20V189.2H620.70V190.4H621.20V189.4H621.70V190.5H622.20V190.8H622.70V190.7H623.20V189.5H623.70V190.9H624.20V190.9H624.70V190.7H625.20V186.1H625.70V191.0H626.20V190.8H626.70V191.3H627.20V191.2H627.70V191.3H628.20V191.3H628.70V191.4H629.20V191.3H629.70V190.8H630.20V191.3H630.70V191.4H631.20V191.5H631.70V191.5H632.20V191.5H632.70V190.1H633.20V191.6H633.70V191.6H634.20V191.6H634.70V191.7H635.20V191.6H635.70V191.7H636.20V191.7H636.70V191.2H637.20V191.7H637.70V190.0H638.20V191.8H638.70V191.7H639.20V190.8H639.70V191.7H640.20V191.8H640.70V191.8H641.20V191.8H641.70V191.8H642.20V191.8H642.70V191.8H643.20V190.4H643.70V189.8H644.20V191.8H644.70V191.8H645.20V191.8H645.70V191.8H646.20V191.8H646.70V191.8H647.20V190.0H647.70V190.1H648.20V191.9H648.70V191.9H649.20V191.9H649.70V191.9H650.20V191.9H650.70V191.9H651.20V191.5H651.70V191.9H652.20V189.3H652.70V191.9H653.20V191.7H653.70V191.9H654.20V191.6H654.70V190.0H655.20V191.9H655.70V189.9H656.20V189.7H656.70V191.1H657.20V191.9H657.70V191.9H658.20V191.9H658.70V191.9H659.20V190.4H659.70V191.7H660.20V191.9H660.70V187.5H661.20V191.9H661.70V191.9H662.20V190.3H662.70V191.9H663.20V191.9H663.70V191.9H664.20V191.6H664.70V190.1H665.20V188.0H665.70V185.1H666.20V181.8H666.70V178.0H667.20V174.6H667.70V176.9H668.20V181.4H668.70V183.5H669.20V185.5H669.70V186.9H670.20V188.0H670.70V187.5H671.20V189.1H671.70V190.1H672.20V190.2H672.70V190.6H673.20V191.0H673.70V191.1H674.20V191.4H674.70V191.5H675.20V191.6H675.70V191.4H676.20V191.7H676.70V191.8H677.20V191.8H677.70V190.6H678.20V191.8H678.70V191.7H679.20V191.9H679.70V191.7H680.20V191.9H680.70V190.7H681.20V191.90Z" fill="#eeaa98" opacity="1.0"/>
<path d="M21.20 191.90V191.9H21.70V191.9H22.20V190.8H22.70V191.9H23.20V191.9H23.70V191.9H24.20V191.9H24.70V191.8H25.20V191.9H25.70V191.9H26.20V191.7H26.70V191.9H27.20V191.9H27.70V191.9H28.20V191.9H28.70V191.9H29.20V191.8H29.70V191.7H30.20V191.9H30.70V191.3H31.20V190.9H31.70V187.0H32.20V182.9H32.70V178.3H33.20V170.3H33.70V165.5H34.20V160.4H34.70V169.8H35.20V173.1H35.70V176.2H36.20V181.8H36.70V183.2H37.20V184.5H37.70V187.1H38.20V187.9H38.70V188.5H39.20V189.5H39.70V190.2H40.20V190.2H40.70V190.1H41.20V190.9H41.70V190.8H42.20V191.1H42.70V191.5H43.20V191.5H43.70V191.6H44.20V191.3H44.70V191.7H45.20V191.8H45.70V190.9H46.20V191.7H46.70V191.8H47.20V191.8H47.70V191.2H48.20V191.5H48.70V191.7H49.20V191.9H49.70V191.9H50.20V191.9H50.70V191.5H51.20V191.9H51.70V191.9H52.20V191.9H52.70V191.5H53.20V191.9H53.70V191.9H54.20V191.9H54.70V191.9H55.20V191.5H55.70V191.9H56.20V191.1H56.70V191.9H57.20V191.9H57.70V191.9H58.20V191.9H58.70V191.9H59.20V191.9H59.70V191.9H60.20V191.9H60.70V191.9H61.20V191.9H61.70V191.9H62.20V191.1H62.70V191.9H63.20V191.9H63.70V191.9H64.20V191.9H64.70V191.9H65.20V190.6H65.70V191.5H66.20V191.4H66.70V191.9H67.20V191.9H67.70V191.9H68.20V191.8H68.70V190.9H69.20V191.6H69.70V190.4H70.20V191.7H70.70V191.9H71.20V191.9H71.70V191.9H72.20V191.9H72.70V191.9H73.20V191.1H73.70V189.4H74.20V185.5H74.70V181.7H75.20V178.7H75.70V173.2H76.20V169.5H76.70V175.4H77.20V179.5H77.70V181.8H78.20V183.8H78.70V185.5H79.20V186.7H79.70V188.1H80.20V188.3H80.70V189.9H81.20V190.1H81.70V190.7H82.20V190.9H82.70V191.0H83.20V191.3H83.70V191.4H84.20V191.2H84.70V191.6H85.20V191.5H85.70V191.7H86.20V191.4H86.70V190.2H87.20V191.8H87.70V191.6H88.20V191.8H88.70V191.9H89.20V191.9H89.70V190.7H90.20V191.6H90.70V191.9H91.20V191.8H91.70V191.8H92.20V191.9H92.70V191.9H93.20V191.9H93.70V191.9H94.20V190.4H94.70V191.9H95.20V191.9H95.70V191.1H96.20V191.9H96.70V191.9H97.20V191.9H97.70V191.9H98.20V191.9H98.70V191.8H99.20V191.9H99.70V191.9H100.20V191.9H100.70V191.9H101.20V191.1H101.70V191.9H102.20V191.9H102.70V191.9H103.20V191.9H103.70V191.3H104.20V191.9H104.70V191.7H105.20V191.9H105.70V191.8H106.20V191.7H106.70V191.9H107.20V191.5H107.70V191.9H108.20V191.9H108.70V191.9H109.20V191.9H109.70V191.9H110.20V191.9H110.70V191.9H111.20V191.9H111.70V191.9H112.20V191.0H112.70V191.8H113.20V191.6H113.70V191.9H114.20V191.5H114.70V189.8H115.20V187.9H115.70V184.9H116.20V182.8H116.70V179.7H117.20V177.2H117.70V178.9H118.20V180.8H118.70V185.0H119.20V186.5H119.70V185.6H120.20V188.3H120.70V189.4H121.20V189.5H121.70V190.2H122.20V190.6H122.70V190.8H123.20V191.0H123.70V191.2H124.20V188.9H124.70V191.6H125.20V191.6H125.70V191.5H126.20V191.7H126.70V191.7H127.20V191.8H127.70V191.8H128.20V190.9H128.70V191.9H129.20V191.9H129.70V191.9H130.20V191.8H130.70V191.4H131.20V190.0H131.70V191.3H132.20V191.9H132.70V191.9H133.20V191.9H133.70V191.9H134.20V191.9H134.70V191.5H135.20V191.9H135.70V191.7H136.20V191.9H136.70V191.9H137.20V191.9H137.70V191.9H138.20V191.9H138.70V191.8H139.20V191.9H139.70V191.9H140.20V191.6H140.70V191.6H141.20V191.9H141.70V191.9H142.20V191.4H142.70V191.8H143.20V191.9H143.70V191.9H144.20V191.9H144.70V191.9H145.20V190.8H145.70V191.9H146.20V191.9H146.70V186.2H147.20V178.7H147.70V179.9H148.20V171.0H148.70V175.4H149.20V177.6H149.70V177.6H150.20V175.1H150.70V171.7H151.20V179.7H151.70V181.7H152.20V179.4H152.70V179.9H153.20V183.1H153.70V181.4H154.20V181.9H154.70V181.8H155.20V186.9H155.70V183.7H156.20V185.6H156.70V183.0H157.20V185.3H157.70V184.6H158.20V185.0H158.70V188.4H159.20V189.3H159.70V185.9H160.20V189.7H160.70V186.2H161.20V187.6H161.70V188.8H162.20V187.9H162.70V190.0H163.20V188.7H163.70V188.2H164.20V190.7H164.70V188.6H165.20V189.8H165.70V190.0H166.20V189.1H166.70V189.6H167.20V190.1H167.70V189.5H168.20V190.9H168.70V190.3H169.20V190.6H169.70V190.2H170.20V191.3H170.70V191.0H171.20V190.9H171.70V191.4H172.20V190.9H172.70V189.5H173.20V190.7H173.70V191.4H174.20V191.1H174.70V190.9H175.20V191.5H175.70V191.2H176.20V191.5H176.70V191.2H177.20V191.4H177.70V191.2H178.20V191.7H178.70V191.5H179.20V191.6H179.70V191.7H180.20V191.6H180.70V190.6H181.20V191.6H181.70V191.6H182.20V191.7H182.70V191.4H183.20V191.7H183.70V191.6H184.20V191.6H184.70V191.7H185.20V191.7H185.70V191.8H186.20V191.7H186.70V191.4H187.20V191.7H187.70V191.8H188.20V191.8H188.70V191.8H189.20V191.7H189.70V191.8H190.20V191.8H190.70V191.6H191.20V191.8H191.70V191.8H192.20V191.8H192.70V190.8H193.20V191.8H193.70V191.8H194.20V191.8H194.70V191.7H195.20V191.8H195.70V191.8H196.20V191.9H196.70V191.9H197.20V191.8H197.70V191.9H198.20V191.5H198.70V191.4H199.20V191.9H199.70V191.9H200.20V191.9H200.70V191.9H201.20V191.9H201.70V191.9H202.20V191.9H202.70V191.6H203.20V190.9H203.70V191.6H204.20V191.1H204.70V191.9H205.20V191.9H205.70V191.8H206.20V191.6H206.70V191.5H207.20V191.1H207.70V191.2H208.20V191.9H208.70V191.9H209.20V191.9H209.70V191.5H210.20V191.3H210.70V188.5H211.20V184.7H211.70V179.9H212.20V174.8H212.70V165.7H213.20V162.7H213.70V169.6H214.20V175.8H214.70V177.9H215.20V182.1H215.70V183.3H216.20V185.6H216.70V186.8H217.20V188.7H217.70V189.3H218.20V189.8H218.70V189.9H219.20V189.5H219.70V191.0H220.20V191.0H220.70V191.3H221.20V191.5H221.70V191.3H222.20V191.6H222.70V191.7H223.20V191.7H223.70V191.6H224.20V191.8H224.70V191.8H225.20V191.4H225.70V191.5H226.20V191.9H226.70V191.9H227.20V191.9H227.70V191.9H228.20V191.9H228.70V191.9H229.20V191.9H229.70V191.9H230.20V191.9H230.70V191.9H231.20V191.9H231.70V191.9H232.20V191.8H232.70V191.4H233.20V191.8H233.70V191.9H234.20V191.8H234.70V191.9H235.20V191.9H235.70V191.9H236.20V191.9H236.70V191.3H237.20V191.9H237.70V191.9H238.20V191.9H238.70V191.9H239.20V191.8H239.70V191.8H240.20V191.9H240.70V191.9H241.20V191.9H241.70V191.1H242.20V191.9H242.70V191.8H243.20V191.9H243.70V191.0H244.20V191.9H244.70V191.7H245.20V191.9H245.70V191.9H246.20V191.9H246.70V191.9H247.20V191.9H247.70V191.7H248.20V191.2H248.70V191.5H249.20V191.9H249.70V191.7H250.20V191.9H250.70V191.9H251.20V191.9H251.70V191.5H252.20V189.5H252.70V187.9H253.20V185.1H253.70V181.8H254.20V176.4H254.70V173.8H255.20V179.0H255.70V180.1H256.20V183.0H256.70V184.2H257.20V187.2H257.70V187.0H258.20V188.8H258.70V189.4H259.20V190.0H259.70V189.5H260.20V190.7H260.70V190.9H261.20V191.2H261.70V190.8H262.20V191.4H262.70V191.6H263.20V191.6H263.70V191.5H264.20V191.6H264.70V191.8H265.20V191.7H265.70V191.8H266.20V190.6H266.70V191.2H267.20V191.0H267.70V191.9H268.20V191.4H268.70V191.9H269.20V191.2H269.70V191.9H270.20V191.9H270.70V191.9H271.20V191.9H271.70V191.5H272.20V191.9H272.70V191.0H273.20V191.9H273.70V191.9H274.20V191.9H274.70V191.5H275.20V191.9H275.70V191.9H276.20V191.9H276.70V191.9H277.20V191.8H277.70V191.9H278.20V191.6H278.70V191.9H279.20V191.9H279.70V191.8H280.20V191.5H280.70V191.9H281.20V191.6H281.70V191.9H282.20V191.9H282.70V191.7H283.20V191.5H283.70V191.9H284.20V191.9H284.70V190.5H285.20V191.7H285.70V191.6H286.20V191.9H286.70V191.9H287.20V190.8H287.70V191.9H288.20V191.9H288.70V191.7H289.20V191.8H289.70V191.9H290.20V191.9H290.70V190.4H291.20V190.7H291.70V191.9H292.20V190.9H292.70V191.9H293.20V191.7H293.70V190.7H294.20V189.3H294.70V186.5H295.20V183.7H295.70V181.6H296.20V179.8H296.70V180.3H297.20V184.4H297.70V186.1H298.20V187.2H298.70V188.4H299.20V189.2H299.70V189.3H300.20V189.8H300.70V190.0H301.20V190.5H301.70V191.2H302.20V191.1H302.70V191.4H303.20V191.5H303.70V191.6H304.20V191.7H304.70V191.7H305.20V190.8H305.70V191.8H306.20V191.8H306.70V191.8H307.20V191.8H307.70V191.9H308.20V191.9H308.70V191.8H309.20V191.9H309.70V191.9H310.20V191.9H310.70V191.9H311.20V191.9H311.70V191.9H312.20V191.4H312.70V190.8H313.20V191.9H313.70V191.9H314.20V191.9H314.70V190.2H315.20V191.9H315.70V191.9H316.20V191.9H316.70V191.5H317.20V191.6H317.70V191.9H318.20V190.8H318.70V191.1H319.20V191.5H319.70V191.9H320.20V191.9H320.70V191.9H321.20V191.9H321.70V191.9H322.20V191.9H322.70V191.9H323.20V191.9H323.70V191.9H324.20V191.9H324.70V191.7H325.20V191.6H325.70V186.8H326.20V184.1H326.70V183.1H327.20V175.2H327.70V179.6H328.20V174.1H328.70V181.4H329.20V183.2H329.70V184.6H330.20V184.3H330.70V184.9H331.20V182.9H331.70V184.3H332.20V180.4H332.70V186.8H333.20V181.9H333.70V186.5H334.20V185.5H334.70V183.5H335.20V185.0H335.70V184.6H336.20V186.9H336.70V188.2H337.20V187.0H337.70V187.2H338.20V189.9H338.70V189.8H339.20V187.2H339.70V188.2H340.20V188.1H340.70V190.1H341.20V188.1H341.70V188.2H342.20V190.5H342.70V190.1H343.20V190.2H343.70V189.0H344.20V189.4H344.70V189.6H345.20V190.7H345.70V190.4H346.20V190.0H346.70V190.8H347.20V190.7H347.70V191.0H348.20V190.9H348.70V191.1H349.20V190.7H349.70V191.3H350.20V191.5H350.70V190.8H351.20V191.2H351.70V191.2H352.20V191.1H352.70V191.3H353.20V191.1H353.70V191.5H354.20V191.4H354.70V191.1H355.20V191.3H355.70V191.6H356.20V190.9H356.70V191.1H357.20V191.4H357.70V191.7H358.20V191.5H358.70V191.5H359.20V191.6H359.70V191.7H360.20V191.1H360.70V191.6H361.20V191.8H361.70V191.6H362.20V191.8H362.70V191.5H363.20V191.8H363.70V191.7H364.20V191.8H364.70V191.6H365.20V191.8H365.70V191.5H366.20V191.8H366.70V191.8H367.20V191.8H367.70V191.5H368.20V191.8H368.70V191.8H369.20V191.9H369.70V191.8H370.20V189.9H370.70V191.8H371.20V191.9H371.70V191.8H372.20V191.9H372.70V191.5H373.20V191.8H373.70V191.9H374.20V191.9H374.70V191.9H375.20V191.9H375.70V191.9H376.20V191.6H376.70V191.9H377.20V191.9H377.70V191.4H378.20V191.9H378.70V191.9H379.20V191.9H379.70V191.6H380.20V191.9H380.70V191.8H381.20V191.9H381.70V191.6H382.20V191.9H382.70V191.9H383.20V191.9H383.70V191.9H384.20V191.9H384.70V190.6H385.20V191.9H385.70V191.4H386.20V191.9H386.70V191.9H387.20V190.9H387.70V191.9H388.20V191.5H388.70V191.9H389.20V191.4H389.70V188.6H390.20V187.7H390.70V183.3H391.20V179.4H391.70V176.8H392.20V175.9H392.70V177.9H393.20V182.8H393.70V183.1H394.20V186.5H394.70V187.4H395.20V188.3H395.70V189.0H396.20V189.9H396.70V190.2H397.20V190.3H397.70V190.1H398.20V191.0H398.70V191.2H399.20V191.4H399.70V191.4H400.20V191.6H400.70V191.7H401.20V191.1H401.70V191.8H402.20V191.2H402.70V191.8H403.20V191.6H403.70V191.8H404.20V191.8H404.70V191.9H405.20V191.9H405.70V191.7H406.20V191.9H406.70V191.9H407.20V191.9H407.70V191.5H408.20V190.9H408.70V191.9H409.20V191.9H409.70V191.9H410.20V191.7H410.70V191.9H411.20V191.0H411.70V191.9H412.20V189.7H412.70V191.9H413.20V191.9H413.70V191.4H414.20V190.3H414.70V191.6H415.20V191.8H415.70V191.9H416.20V191.9H416.70V191.9H417.20V191.6H417.70V191.6H418.20V191.9H418.70V191.9H419.20V191.5H419.70V191.9H420.20V191.9H420.70V191.9H421.20V191.9H421.70V191.8H422.20V191.9H422.70V191.9H423.20V189.4H423.70V191.9H424.20V191.9H424.70V191.9H425.20V191.9H425.70V190.6H426.20V191.2H426.70V191.9H427.20V191.9H427.70V191.8H428.20V191.9H428.70V190.8H429.20V191.9H429.70V191.9H430.20V191.9H430.70V191.0H431.20V189.6H431.70V187.5H432.20V184.8H432.70V183.2H433.20V176.7H433.70V178.6H434.20V182.3H434.70V183.0H435.20V185.4H435.70V186.5H436.20V188.1H436.70V189.4H437.20V187.4H437.70V190.0H438.20V190.6H438.70V190.3H439.20V191.1H439.70V191.3H440.20V191.3H440.70V191.5H441.20V191.6H441.70V191.7H442.20V191.7H442.70V191.8H443.20V191.8H443.70V191.0H444.20V191.8H444.70V191.8H445.20V191.9H445.70V191.9H446.20V191.4H446.70V191.8H447.20V191.9H447.70V191.9H448.20V191.9H448.70V191.6H449.20V191.6H449.70V191.9H450.20V191.9H450.70V191.9H451.20V191.9H451.70V190.0H452.20V190.5H452.70V191.9H453.20V191.9H453.70V191.9H454.20V191.9H454.70V190.7H455.20V191.9H455.70V191.9H456.20V191.4H456.70V191.9H457.20V191.9H457.70V191.8H458.20V191.6H458.70V191.9H459.20V191.3H459.70V190.2H460.20V191.8H460.70V191.9H461.20V191.9H461.70V191.9H462.20V191.9H462.70V191.8H463.20V191.9H463.70V191.9H464.20V191.3H464.70V189.9H465.20V184.3H465.70V181.2H466.20V184.2H466.70V181.7H467.20V184.4H467.70V181.3H468.20V184.7H468.70V188.2H469.20V185.6H469.70V189.0H470.20V188.5H470.70V186.9H471.20V187.4H471.70V189.4H472.20V188.4H472.70V188.8H473.20V188.6H473.70V188.7H474.20V190.2H474.70V189.8H475.20V188.8H475.70V188.4H476.20V188.3H476.70V188.1H477.20V190.6H477.70V189.1H478.20V189.3H478.70V188.1H479.20V189.8H479.70V190.7H480.20V190.4H480.70V190.5H481.20V191.2H481.70V190.6H482.20V191.0H482.70V190.3H483.20V190.7H483.70V190.6H484.20V191.4H484.70V190.7H485.20V190.8H485.70V191.2H486.20V191.4H486.70V191.2H487.20V191.2H487.70V191.1H488.20V190.5H488.70V191.3H489.20V191.1H489.70V191.5H490.20V191.3H490.70V191.7H491.20V191.4H491.70V191.6H492.20V191.1H492.70V191.5H493.20V190.6H493.70V191.7H494.20V191.5H494.70V191.7H495.20V191.6H495.70V191.6H496.20V191.6H496.70V191.2H497.20V191.2H497.70V191.7H498.20V191.4H498.70V191.8H499.20V191.3H499.70V190.4H500.20V191.8H500.70V191.8H501.20V191.7H501.70V191.8H502.20V191.8H502.70V191.8H503.20V191.8H503.70V191.0H504.20V191.8H504.70V191.8H505.20V191.5H505.70V191.9H506.20V191.9H506.70V191.9H507.20V191.8H507.70V191.3H508.20V191.7H508.70V191.7H509.20V191.4H509.70V191.9H510.20V191.9H510.70V191.9H511.20V191.7H511.70V191.5H512.20V191.9H512.70V190.2H513.20V191.6H513.70V191.9H514.20V191.1H514.70V191.5H515.20V191.8H515.70V191.9H516.20V191.2H516.70V191.9H517.20V191.9H517.70V191.9H518.20V191.9H518.70V191.9H519.20V191.8H519.70V191.2H520.20V191.8H520.70V191.9H521.20V191.8H521.70V191.9H522.20V190.0H522.70V191.9H523.20V191.9H523.70V191.9H524.20V191.9H524.70V191.9H525.20V191.2H525.70V190.7H526.20V191.9H526.70V191.9H527.20V191.3H527.70V189.4H528.20V187.9H528.70V185.1H529.20V182.1H529.70V176.7H530.20V173.5H530.70V176.0H531.20V181.3H531.70V183.5H532.20V185.4H532.70V187.6H533.20V188.0H533.70V188.9H534.20V189.6H534.70V190.3H535.20V190.5H535.70V190.8H536.20V190.6H536.70V190.8H537.20V191.0H537.70V191.4H538.20V191.6H538.70V191.6H539.20V191.4H539.70V190.7H540.20V191.8H540.70V191.8H541.20V191.8H541.70V191.4H542.20V191.9H542.70V191.9H543.20V191.6H543.70V191.9H544.20V191.9H544.70V191.9H545.20V191.9H545.70V191.9H546.20V191.7H546.70V191.9H547.20V191.9H547.70V190.8H548.20V191.9H548.70V191.9H549.20V191.9H549.70V191.9H550.20V191.9H550.70V191.8H551.20V191.2H551.70V191.9H552.20V191.9H552.70V191.9H553.20V191.9H553.70V191.9H554.20V191.9H554.70V191.9H555.20V191.9H555.70V191.5H556.20V191.9H556.70V191.9H557.20V191.8H557.70V191.4H558.20V191.5H558.70V191.9H559.20V191.9H559.70V191.2H560.20V191.9H560.70V191.8H561.20V191.3H561.70V191.0H562.20V191.9H562.70V191.2H563.20V191.9H563.70V191.9H564.20V190.5H564.70V191.9H565.20V191.7H565.70V191.9H566.20V191.9H566.70V191.9H567.20V191.9H567.70V191.9H568.20V191.8H568.70V191.1H569.20V189.9H569.70V188.1H570.20V186.6H570.70V184.8H571.20V182.2H571.70V185.1H572.20V187.0H572.70V188.4H573.20V188.5H573.70V188.9H574.20V187.8H574.70V190.4H575.20V190.6H575.70V190.4H576.20V191.1H576.70V191.2H577.20V191.5H577.70V191.6H578.20V191.0H578.70V191.7H579.20V191.2H579.70V190.4H580.20V191.0H580.70V191.1H581.20V190.2H581.70V191.9H582.20V191.9H582.70V191.9H583.20V191.7H583.70V191.9H584.20V191.4H584.70V191.8H585.20V191.9H585.70V191.9H586.20V191.9H586.70V191.9H587.20V191.9H587.70V191.9H588.20V191.9H588.70V191.9H589.20V191.9H589.70V191.9H590.20V191.9H590.70V191.9H591.20V191.7H591.70V191.5H592.20V191.9H592.70V191.9H593.20V191.9H593.70V191.9H594.20V191.9H594.70V191.9H595.20V190.9H595.70V191.9H596.20V191.9H596.70V191.9H597.20V191.7H597.70V191.9H598.20V191.9H598.70V191.8H599.20V191.9H599.70V191.9H600.20V191.9H600.70V191.9H601.20V190.2H601.70V186.9H602.20V179.5H602.70V179.7H603.20V184.5H603.70V184.7H604.20V182.3H604.70V187.6H605.20V188.0H605.70V184.9H606.20V185.8H606.70V186.0H607.20V185.5H607.70V185.4H608.20V186.8H608.70V188.5H609.20V186.6H609.70V188.5H610.20V187.1H610.70V188.0H611.20V187.8H611.70V188.6H612.20V190.3H612.70V188.4H613.20V189.5H613.70V190.4H614.20V190.7H614.70V190.4H615.20V190.4H615.70V190.8H616.20V189.7H616.70V189.7H617.20V189.7H617.70V190.5H618.20V190.3H618.70V191.2H619.20V191.2H619.70V190.6H620.20V189.9H620.70V190.9H621.20V190.1H621.70V190.8H622.20V191.0H622.70V191.5H623.20V190.1H623.70V191.0H624.20V191.1H624.70V190.8H625.20V187.8H625.70V191.3H626.20V191.5H626.70V191.5H627.20V191.5H627.70V191.3H628.20V191.4H628.70V191.7H629.20V191.7H629.70V191.2H630.20V191.4H630.70V191.7H631.20V191.6H631.70V191.6H632.20V191.6H632.70V190.7H633.20V191.7H633.70V191.8H634.20V191.7H634.70V191.7H635.20V191.7H635.70V191.8H636.20V191.7H636.70V191.4H637.20V191.8H637.70V190.5H638.20V191.8H638.70V191.8H639.20V191.2H639.70V191.7H640.20V191.8H640.70V191.8H641.20V191.9H641.70V191.8H642.20V191.8H642.70V191.8H643.20V190.9H643.70V190.4H644.20V191.8H644.70V191.9H645.20V191.9H645.70V191.9H646.20V191.9H646.70V191.9H647.20V190.6H647.70V190.6H648.20V191.9H648.70V191.9H649.20V191.9H649.70V191.9H650.20V191.9H650.70V191.9H651.20V191.6H651.70V191.9H652.20V190.0H652.70V191.9H653.20V191.8H653.70V191.9H654.20V191.7H654.70V190.5H655.20V191.9H655.70V190.5H656.20V190.3H656.70V191.3H657.20V191.9H657.70V191.9H658.20V191.9H658.70V191.9H659.20V190.8H659.70V191.7H660.20V191.9H660.70V188.8H661.20V191.9H661.70V191.9H662.20V190.8H662.70V191.9H663.20V191.9H663.70V191.9H664.20V191.6H664.70V190.4H665.20V188.4H665.70V185.7H666.20V182.3H666.70V180.3H667.20V178.1H667.70V177.2H668.20V181.6H668.70V185.0H669.20V185.7H669.70V187.1H670.20V188.7H670.70V188.0H671.20V189.6H671.70V190.3H672.20V190.5H672.70V190.7H673.20V191.1H673.70V191.2H674.20V191.5H674.70V191.5H675.20V191.6H675.70V191.5H676.20V191.7H676.70V191.8H677.20V191.8H677.70V191.0H678.20V191.8H678.70V191.8H679.20V191.9H679.70V191.8H680.20V191.9H680.70V191.1H681.20V191.90Z" fill="#e2755a" opacity="1.0"/>
<rect x="20.70" y="152.50" width="660.80" height="39.40" fill="none" stroke="#222" stroke-width="1"/>
<line x1="18.90" y1="191.90" x2="20.70" y2="191.90" stroke="#222" stroke-width="0.8"/>
<text x="18.20" y="195.50" font-family="Liberation Sans" font-size="9.6" text-anchor="end" fill="#1a1a1a" stroke="#1a1a1a" stroke-width="0.25">0</text>
<line x1="18.90" y1="174.66" x2="20.70" y2="174.66" stroke="#222" stroke-width="0.8"/>
<text x="18.20" y="178.26" font-family="Liberation Sans" font-size="9.6" text-anchor="end" fill="#1a1a1a" stroke="#1a1a1a" stroke-width="0.25">20</text>
<line x1="18.90" y1="157.42" x2="20.70" y2="157.42" stroke="#222" stroke-width="0.8"/>
<text x="18.20" y="161.02" font-family="Liberation Sans" font-size="9.6" text-anchor="end" fill="#1a1a1a" stroke="#1a1a1a" stroke-width="0.25">40</text>
<text x="18.0" y="199.5" font-family="Liberation Sans" font-size="8.6" textLength="22.5" lengthAdjust="spacingAndGlyphs" fill="#1a1a1a" stroke="#1a1a1a" stroke-width="0.25">+28μs</text>
<rect x="30.50" y="202.50" width="7" height="39.40" fill="#ececec"/>
<rect x="72.50" y="202.50" width="7" height="39.40" fill="#ececec"/>
<rect x="113.55" y="202.50" width="7" height="39.40" fill="#ececec"/>
<rect x="209.55" y="202.50" width="7" height="39.40" fill="#ececec"/>
<rect x="251.05" y="202.50" width="7" height="39.40" fill="#ececec"/>
<rect x="292.60" y="202.50" width="7" height="39.40" fill="#ececec"/>
<rect x="388.50" y="202.50" width="7" height="39.40" fill="#ececec"/>
<rect x="429.85" y="202.50" width="7" height="39.40" fill="#ececec"/>
<rect x="526.60" y="202.50" width="7" height="39.40" fill="#ececec"/>
<rect x="567.60" y="202.50" width="7" height="39.40" fill="#ececec"/>
<rect x="663.60" y="202.50" width="7" height="39.40" fill="#ececec"/>
<line x1="20.70" y1="224.66" x2="681.50" y2="224.66" stroke="#e3e3e3" stroke-width="0.8"/>
<line x1="20.70" y1="207.42" x2="681.50" y2="207.42" stroke="#e3e3e3" stroke-width="0.8"/>
<line x1="125.50" y1="202.50" x2="125.50" y2="241.90" stroke="#dcdcdc" stroke-width="0.8"/>
<line x1="230.30" y1="202.50" x2="230.30" y2="241.90" stroke="#dcdcdc" stroke-width="0.8"/>
<line x1="335.10" y1="202.50" x2="335.10" y2="241.90" stroke="#dcdcdc" stroke-width="0.8"/>
<line x1="439.90" y1="202.50" x2="439.90" y2="241.90" stroke="#dcdcdc" stroke-width="0.8"/>
<line x1="544.70" y1="202.50" x2="544.70" y2="241.90" stroke="#dcdcdc" stroke-width="0.8"/>
<line x1="649.50" y1="202.50" x2="649.50" y2="241.90" stroke="#dcdcdc" stroke-width="0.8"/>
<line x1="30.50" y1="202.50" x2="30.50" y2="241.90" stroke="#7a7a7a" stroke-width="0.6" stroke-dasharray="1.4 1.1"/>
<line x1="37.50" y1="202.50" x2="37.50" y2="241.90" stroke="#7a7a7a" stroke-width="0.6" stroke-dasharray="1.4 1.1"/>
<line x1="72.50" y1="202.50" x2="72.50" y2="241.90" stroke="#7a7a7a" stroke-width="0.6" stroke-dasharray="1.4 1.1"/>
<line x1="79.50" y1="202.50" x2="79.50" y2="241.90" stroke="#7a7a7a" stroke-width="0.6" stroke-dasharray="1.4 1.1"/>
<line x1="113.55" y1="202.50" x2="113.55" y2="241.90" stroke="#7a7a7a" stroke-width="0.6" stroke-dasharray="1.4 1.1"/>
<line x1="120.55" y1="202.50" x2="120.55" y2="241.90" stroke="#7a7a7a" stroke-width="0.6" stroke-dasharray="1.4 1.1"/>
<line x1="209.55" y1="202.50" x2="209.55" y2="241.90" stroke="#7a7a7a" stroke-width="0.6" stroke-dasharray="1.4 1.1"/>
<line x1="216.55" y1="202.50" x2="216.55" y2="241.90" stroke="#7a7a7a" stroke-width="0.6" stroke-dasharray="1.4 1.1"/>
<line x1="251.05" y1="202.50" x2="251.05" y2="241.90" stroke="#7a7a7a" stroke-width="0.6" stroke-dasharray="1.4 1.1"/>
<line x1="258.05" y1="202.50" x2="258.05" y2="241.90" stroke="#7a7a7a" stroke-width="0.6" stroke-dasharray="1.4 1.1"/>
<line x1="292.60" y1="202.50" x2="292.60" y2="241.90" stroke="#7a7a7a" stroke-width="0.6" stroke-dasharray="1.4 1.1"/>
<line x1="299.60" y1="202.50" x2="299.60" y2="241.90" stroke="#7a7a7a" stroke-width="0.6" stroke-dasharray="1.4 1.1"/>
<line x1="388.50" y1="202.50" x2="388.50" y2="241.90" stroke="#7a7a7a" stroke-width="0.6" stroke-dasharray="1.4 1.1"/>
<line x1="395.50" y1="202.50" x2="395.50" y2="241.90" stroke="#7a7a7a" stroke-width="0.6" stroke-dasharray="1.4 1.1"/>
<line x1="429.85" y1="202.50" x2="429.85" y2="241.90" stroke="#7a7a7a" stroke-width="0.6" stroke-dasharray="1.4 1.1"/>
<line x1="436.85" y1="202.50" x2="436.85" y2="241.90" stroke="#7a7a7a" stroke-width="0.6" stroke-dasharray="1.4 1.1"/>
<line x1="526.60" y1="202.50" x2="526.60" y2="241.90" stroke="#7a7a7a" stroke-width="0.6" stroke-dasharray="1.4 1.1"/>
<line x1="533.60" y1="202.50" x2="533.60" y2="241.90" stroke="#7a7a7a" stroke-width="0.6" stroke-dasharray="1.4 1.1"/>
<line x1="567.60" y1="202.50" x2="567.60" y2="241.90" stroke="#7a7a7a" stroke-width="0.6" stroke-dasharray="1.4 1.1"/>
<line x1="574.60" y1="202.50" x2="574.60" y2="241.90" stroke="#7a7a7a" stroke-width="0.6" stroke-dasharray="1.4 1.1"/>
<line x1="663.60" y1="202.50" x2="663.60" y2="241.90" stroke="#7a7a7a" stroke-width="0.6" stroke-dasharray="1.4 1.1"/>
<line x1="670.60" y1="202.50" x2="670.60" y2="241.90" stroke="#7a7a7a" stroke-width="0.6" stroke-dasharray="1.4 1.1"/>
<path d="M21.20 241.90V241.9H21.70V241.7H22.20V241.9H22.70V241.9H23.20V241.5H23.70V240.5H24.20V241.2H24.70V241.9H25.20V241.9H25.70V241.6H26.20V241.9H26.70V241.9H27.20V241.9H27.70V241.9H28.20V241.9H28.70V241.9H29.20V241.9H29.70V241.9H30.20V239.4H30.70V241.9H31.20V240.0H31.70V237.5H32.20V231.5H32.70V224.7H33.20V219.5H33.70V211.4H34.20V207.7H34.70V215.4H35.20V221.3H35.70V225.8H36.20V229.4H36.70V232.2H37.20V233.1H37.70V234.4H38.20V237.3H38.70V238.3H39.20V237.9H39.70V239.3H40.20V240.2H40.70V239.4H41.20V240.9H41.70V241.1H42.20V241.3H42.70V240.5H43.20V241.5H43.70V241.6H44.20V241.7H44.70V241.7H45.20V241.8H45.70V241.6H46.20V241.5H46.70V241.4H47.20V241.3H47.70V241.9H48.20V241.9H48.70V241.9H49.20V241.9H49.70V241.7H50.20V241.5H50.70V241.9H51.20V241.9H51.70V241.0H52.20V241.9H52.70V241.9H53.20V240.1H53.70V241.6H54.20V241.9H54.70V241.9H55.20V241.9H55.70V241.9H56.20V241.9H56.70V238.6H57.20V241.0H57.70V241.9H58.20V241.9H58.70V241.3H59.20V240.9H59.70V241.9H60.20V241.6H60.70V241.9H61.20V241.9H61.70V240.2H62.20V241.9H62.70V241.9H63.20V241.3H63.70V241.9H64.20V241.8H64.70V241.9H65.20V241.7H65.70V241.0H66.20V241.7H66.70V241.9H67.20V240.5H67.70V241.9H68.20V241.9H68.70V240.1H69.20V241.9H69.70V238.6H70.20V241.1H70.70V241.9H71.20V241.9H71.70V241.9H72.20V241.9H72.70V241.9H73.20V241.1H73.70V238.6H74.20V234.9H74.70V230.3H75.20V224.9H75.70V218.7H76.20V216.0H76.70V221.0H77.20V226.2H77.70V229.7H78.20V232.4H78.70V234.5H79.20V236.1H79.70V237.4H80.20V238.4H80.70V238.9H81.20V239.8H81.70V240.0H82.20V240.6H82.70V240.2H83.20V241.1H83.70V241.3H84.20V241.4H84.70V241.5H85.20V241.6H85.70V241.7H86.20V240.3H86.70V240.7H87.20V241.8H87.70V240.8H88.20V241.8H88.70V241.9H89.20V241.9H89.70V237.2H90.20V241.4H90.70V241.9H91.20V241.2H91.70V241.9H92.20V241.9H92.70V241.6H93.20V241.9H93.70V241.1H94.20V241.9H94.70V241.9H95.20V241.9H95.70V240.9H96.20V241.6H96.70V241.9H97.20V241.9H97.70V241.9H98.20V241.9H98.70V241.9H99.20V241.9H99.70V241.9H100.20V241.9H100.70V241.9H101.20V241.6H101.70V241.9H102.20V241.9H102.70V241.9H103.20V241.9H103.70V241.9H104.20V241.6H104.70V241.9H105.20V241.9H105.70V241.9H106.20V241.9H106.70V241.9H107.20V241.2H107.70V241.9H108.20V241.9H108.70V241.9H109.20V241.0H109.70V241.7H110.20V241.1H110.70V241.9H111.20V241.4H111.70V241.6H112.20V241.9H112.70V240.7H113.20V241.6H113.70V241.9H114.20V241.4H114.70V239.5H115.20V236.6H115.70V233.0H116.20V228.0H116.70V223.8H117.20V220.5H117.70V224.5H118.20V228.7H118.70V231.8H119.20V234.0H119.70V235.8H120.20V237.1H120.70V238.0H121.20V238.5H121.70V239.5H122.20V239.9H122.70V240.5H123.20V240.8H123.70V241.1H124.20V234.5H124.70V241.4H125.20V241.5H125.70V240.2H126.20V241.7H126.70V241.7H127.20V241.8H127.70V241.8H128.20V241.8H128.70V241.8H129.20V241.8H129.70V241.2H130.20V241.8H130.70V241.9H131.20V241.9H131.70V241.9H132.20V241.9H132.70V241.9H133.20V241.5H133.70V241.8H134.20V241.9H134.70V241.3H135.20V241.9H135.70V241.9H136.20V241.9H136.70V241.6H137.20V241.9H137.70V241.9H138.20V241.9H138.70V241.8H139.20V241.9H139.70V240.8H140.20V241.0H140.70V240.4H141.20V241.8H141.70V241.9H142.20V241.8H142.70V241.8H143.20V241.3H143.70V241.9H144.20V241.4H144.70V241.9H145.20V241.9H145.70V241.9H146.20V241.9H146.70V235.6H147.20V227.2H147.70V222.1H148.20V218.6H148.70V217.0H149.20V217.5H149.70V221.6H150.20V221.1H150.70V222.2H151.20V225.1H151.70V224.6H152.20V228.0H152.70V228.1H153.20V229.9H153.70V229.4H154.20V231.4H154.70V232.3H155.20V230.3H155.70V233.1H156.20V233.0H156.70V232.5H157.20V234.7H157.70V234.1H158.20V231.1H158.70V234.3H159.20V235.4H159.70V236.0H160.20V235.8H160.70V232.2H161.20V236.5H161.70V237.0H162.20V238.1H162.70V238.1H163.20V236.4H163.70V238.7H164.20V238.6H164.70V238.2H165.20V238.3H165.70V239.4H166.20V239.2H166.70V239.5H167.20V239.1H167.70V240.0H168.20V240.1H168.70V239.8H169.20V240.2H169.70V239.6H170.20V239.9H170.70V239.7H171.20V238.4H171.70V240.5H172.20V237.0H172.70V240.6H173.20V239.3H173.70V240.2H174.20V240.0H174.70V240.9H175.20V241.0H175.70V241.1H176.20V241.1H176.70V241.3H177.20V241.2H177.70V241.3H178.20V241.3H178.70V241.3H179.20V241.4H179.70V241.4H180.20V241.4H180.70V241.5H181.20V241.2H181.70V241.5H182.20V241.5H182.70V241.6H183.20V241.6H183.70V241.6H184.20V241.6H184.70V241.6H185.20V241.6H185.70V241.7H186.20V241.7H186.70V241.2H187.20V241.7H187.70V241.7H188.20V241.7H188.70V241.7H189.20V241.3H189.70V241.8H190.20V241.8H190.70V241.8H191.20V240.9H191.70V241.8H192.20V241.7H192.70V241.8H193.20V241.5H193.70V241.8H194.20V241.8H194.70V241.8H195.20V241.8H195.70V240.2H196.20V241.8H196.70V241.7H197.20V241.8H197.70V241.8H198.20V241.7H198.70V241.9H199.20V241.9H199.70V238.8H200.20V241.9H200.70V241.8H201.20V241.9H201.70V241.9H202.20V241.2H202.70V241.5H203.20V241.9H203.70V241.4H204.20V241.9H204.70V240.8H205.20V241.9H205.70V241.0H206.20V240.9H206.70V241.9H207.20V241.9H207.70V241.9H208.20V241.9H208.70V241.5H209.20V241.9H209.70V241.9H210.20V241.1H210.70V239.4H211.20V231.7H211.70V232.7H212.20V227.8H212.70V223.3H213.20V219.9H213.70V224.8H214.20V228.6H214.70V231.5H215.20V233.8H215.70V235.0H216.20V236.1H216.70V238.1H217.20V238.9H217.70V236.7H218.20V240.1H218.70V240.5H219.20V239.7H219.70V238.8H220.20V239.3H220.70V241.4H221.20V240.1H221.70V241.6H222.20V241.7H222.70V241.7H223.20V241.8H223.70V241.1H224.20V241.7H224.70V241.8H225.20V241.8H225.70V241.9H226.20V240.7H226.70V241.6H227.20V241.9H227.70V241.9H228.20V241.6H228.70V241.9H229.20V241.9H229.70V241.9H230.20V241.9H230.70V241.9H231.20V240.6H231.70V240.4H232.20V241.9H232.70V241.8H233.20V241.2H233.70V241.9H234.20V241.9H234.70V241.9H235.20V241.9H235.70V241.5H236.20V241.9H236.70V241.9H237.20V241.9H237.70V241.9H238.20V240.7H238.70V241.9H239.20V241.9H239.70V241.9H240.20V241.9H240.70V241.8H241.20V241.9H241.70V241.9H242.20V241.1H242.70V241.4H243.20V241.8H243.70V241.6H244.20V239.5H244.70V241.9H245.20V241.5H245.70V241.5H246.20V240.7H246.70V240.4H247.20V241.9H247.70V241.9H248.20V241.9H248.70V240.3H249.20V241.9H249.70V241.9H250.20V241.7H250.70V241.5H251.20V241.9H251.70V241.5H252.20V240.0H252.70V237.8H253.20V235.0H253.70V231.7H254.20V227.9H254.70V224.3H255.20V229.1H255.70V231.9H256.20V233.6H256.70V235.8H257.20V237.2H257.70V238.2H258.20V239.0H258.70V239.7H259.20V240.2H259.70V239.1H260.20V240.6H260.70V241.1H261.20V241.3H261.70V240.4H262.20V241.5H262.70V241.6H263.20V241.7H263.70V241.7H264.20V239.3H264.70V241.8H265.20V241.2H265.70V241.8H266.20V241.7H266.70V241.9H267.20V241.9H267.70V241.7H268.20V241.9H268.70V239.6H269.20V241.5H269.70V241.9H270.20V241.9H270.70V241.3H271.20V241.9H271.70V241.9H272.20V241.9H272.70V241.9H273.20V241.6H273.70V241.9H274.20V240.9H274.70V241.9H275.20V241.9H275.70V241.4H276.20V241.9H276.70V241.9H277.20V241.7H277.70V241.9H278.20V241.9H278.70V241.9H279.20V241.9H279.70V241.9H280.20V241.9H280.70V241.9H281.20V241.9H281.70V241.9H282.20V241.9H282.70V241.9H283.20V241.9H283.70V241.5H284.20V241.9H284.70V241.9H285.20V241.9H285.70V241.9H286.20V241.9H286.70V241.9H287.20V241.9H287.70V241.9H288.20V241.5H288.70V241.9H289.20V241.6H289.70V241.9H290.20V241.9H290.70V241.9H291.20V241.9H291.70V241.9H292.20V241.9H292.70V241.9H293.20V241.7H293.70V240.6H294.20V238.8H294.70V236.8H295.20V234.3H295.70V231.4H296.20V228.9H296.70V231.7H297.20V233.2H297.70V235.8H298.20V237.1H298.70V238.0H299.20V239.0H299.70V239.6H300.20V240.1H300.70V240.5H301.20V240.8H301.70V238.9H302.20V241.1H302.70V241.4H303.20V241.5H303.70V241.6H304.20V241.7H304.70V241.7H305.20V241.4H305.70V241.0H306.20V241.8H306.70V241.8H307.20V241.8H307.70V241.9H308.20V241.6H308.70V241.9H309.20V241.9H309.70V241.6H310.20V240.7H310.70V241.9H311.20V241.9H311.70V241.8H312.20V241.9H312.70V241.9H313.20V241.9H313.70V241.9H314.20V241.9H314.70V241.9H315.20V241.9H315.70V241.9H316.20V241.9H316.70V239.8H317.20V241.9H317.70V240.8H318.20V241.9H318.70V241.8H319.20V241.3H319.70V241.9H320.20V241.9H320.70V240.8H321.20V241.9H321.70V241.6H322.20V241.6H322.70V241.9H323.20V241.9H323.70V241.9H324.20V241.9H324.70V241.9H325.20V241.9H325.70V236.3H326.20V229.0H326.70V220.9H327.20V221.5H327.70V220.4H328.20V222.2H328.70V225.8H329.20V226.0H329.70V224.7H330.20V227.5H330.70V227.1H331.20V229.5H331.70V230.8H332.20V229.3H332.70V231.5H333.20V233.3H333.70V232.1H334.20V233.1H334.70V233.0H335.20V233.3H335.70V234.3H336.20V234.7H336.70V236.2H337.20V235.1H337.70V235.9H338.20V235.7H338.70V236.9H339.20V237.1H339.70V236.8H340.20V237.9H340.70V236.6H341.20V238.3H341.70V238.9H342.20V238.4H342.70V238.6H343.20V238.2H343.70V239.1H344.20V239.4H344.70V238.9H345.20V239.8H345.70V239.3H346.20V239.8H346.70V240.1H347.20V240.2H347.70V240.0H348.20V240.4H348.70V240.3H349.20V240.0H349.70V240.8H350.20V240.8H350.70V240.7H351.20V240.9H351.70V240.3H352.20V240.9H352.70V241.1H353.20V241.1H353.70V241.1H354.20V241.3H354.70V241.0H355.20V241.0H355.70V241.3H356.20V241.4H356.70V241.4H357.20V241.4H357.70V240.6H358.20V241.5H358.70V241.5H359.20V241.6H359.70V241.5H360.20V241.6H360.70V240.2H361.20V241.6H361.70V241.6H362.20V240.6H362.70V241.7H363.20V241.7H363.70V241.2H364.20V241.7H364.70V241.5H365.20V241.7H365.70V241.7H366.20V241.8H366.70V241.7H367.20V241.8H367.70V241.8H368.20V241.8H368.70V241.8H369.20V241.8H369.70V241.8H370.20V241.2H370.70V241.8H371.20V237.9H371.70V241.8H372.20V241.7H372.70V241.8H373.20V241.7H373.70V241.7H374.20V241.8H374.70V241.1H375.20V241.5H375.70V241.9H376.20V241.9H376.70V241.9H377.20V241.5H377.70V241.9H378.20V241.9H378.70V241.7H379.20V241.4H379.70V241.9H380.20V241.9H380.70V241.9H381.20V241.9H381.70V241.9H382.20V241.9H382.70V241.9H383.20V240.8H383.70V241.9H384.20V241.0H384.70V241.9H385.20V241.1H385.70V241.9H386.20V240.4H386.70V241.7H387.20V239.5H387.70V241.9H388.20V240.2H388.70V239.1H389.20V239.9H389.70V238.3H390.20V233.8H390.70V230.0H391.20V224.9H391.70V218.7H392.20V216.0H392.70V221.8H393.20V226.2H393.70V229.7H394.20V232.4H394.70V233.4H395.20V235.7H395.70V237.4H396.20V238.4H396.70V239.2H397.20V239.8H397.70V240.2H398.20V240.6H398.70V239.9H399.20V240.4H399.70V241.3H400.20V241.4H400.70V239.4H401.20V241.6H401.70V241.7H402.20V241.0H402.70V241.2H403.20V241.8H403.70V241.8H404.20V241.8H404.70V241.9H405.20V241.9H405.70V241.9H406.20V241.9H406.70V241.9H407.20V240.5H407.70V241.8H408.20V241.8H408.70V241.6H409.20V241.9H409.70V241.9H410.20V241.9H410.70V240.6H411.20V241.9H411.70V241.9H412.20V241.9H412.70V240.8H413.20V241.9H413.70V241.9H414.20V240.8H414.70V241.9H415.20V241.4H415.70V240.4H416.20V241.5H416.70V241.9H417.20V240.8H417.70V241.9H418.20V240.7H418.70V241.9H419.20V241.9H419.70V241.9H420.20V241.9H420.70V241.7H421.20V240.1H421.70V241.9H422.20V241.9H422.70V241.9H423.20V241.9H423.70V241.9H424.20V241.9H424.70V241.9H425.20V241.9H425.70V241.9H426.20V240.7H426.70V241.6H427.20V241.9H427.70V241.6H428.20V241.9H428.70V241.9H429.20V241.2H429.70V241.3H430.20V241.9H430.70V241.2H431.20V237.2H431.70V237.3H432.20V235.4H432.70V232.0H433.20V229.5H433.70V229.5H434.20V232.7H434.70V232.6H435.20V236.3H435.70V237.1H436.20V238.3H436.70V236.8H437.20V239.8H437.70V240.3H438.20V240.7H438.70V239.6H439.20V241.1H439.70V241.3H440.20V241.4H440.70V240.3H441.20V239.2H441.70V241.7H442.20V241.7H442.70V241.8H443.20V241.8H443.70V241.8H444.20V241.8H444.70V241.9H445.20V241.3H445.70V241.9H446.20V241.9H446.70V241.9H447.20V241.9H447.70V241.9H448.20V241.1H448.70V241.9H449.20V241.5H449.70V240.1H450.20V241.8H450.70V241.9H451.20V241.9H451.70V241.9H452.20V241.9H452.70V241.9H453.20V241.6H453.70V241.9H454.20V241.9H454.70V241.9H455.20V241.9H455.70V240.7H456.20V241.9H456.70V241.9H457.20V241.9H457.70V241.1H458.20V241.9H458.70V241.8H459.20V241.9H459.70V240.3H460.20V241.9H460.70V241.9H461.20V241.9H461.70V241.9H462.20V241.9H462.70V241.2H463.20V241.4H463.70V241.9H464.20V241.9H464.70V235.8H465.20V233.3H465.70V226.2H466.20V226.9H466.70V229.9H467.20V229.6H467.70V228.7H468.20V232.1H468.70V230.3H469.20V232.0H469.70V232.8H470.20V232.4H470.70V233.6H471.20V234.3H471.70V235.3H472.20V233.0H472.70V234.9H473.20V236.0H473.70V236.4H474.20V236.8H474.70V235.5H475.20V236.5H475.70V237.3H476.20V238.2H476.70V237.5H477.20V238.3H477.70V237.3H478.20V239.0H478.70V238.9H479.20V238.9H479.70V239.0H480.20V239.7H480.70V239.5H481.20V238.5H481.70V238.9H482.20V239.9H482.70V239.9H483.20V240.4H483.70V240.3H484.20V240.4H484.70V240.5H485.20V240.7H485.70V240.7H486.20V239.9H486.70V240.6H487.20V240.8H487.70V238.8H488.20V241.0H488.70V240.0H489.20V241.2H489.70V238.7H490.20V241.2H490.70V241.2H491.20V241.4H491.70V241.3H492.20V241.4H492.70V239.6H493.20V241.4H493.70V241.4H494.20V241.5H494.70V241.5H495.20V241.5H495.70V240.7H496.20V241.6H496.70V241.6H497.20V241.3H497.70V241.6H498.20V241.6H498.70V240.9H499.20V241.7H499.70V241.7H500.20V241.7H500.70V241.7H501.20V241.7H501.70V240.3H502.20V241.7H502.70V241.1H503.20V241.8H503.70V241.8H504.20V241.3H504.70V241.8H505.20V241.7H505.70V241.8H506.20V239.6H506.70V241.8H507.20V241.8H507.70V241.8H508.20V241.8H508.70V241.8H509.20V241.8H509.70V241.8H510.20V241.7H510.70V241.8H511.20V241.8H511.70V241.8H512.20V241.8H512.70V241.9H513.20V241.8H513.70V241.9H514.20V241.9H514.70V241.9H515.20V241.9H515.70V241.8H516.20V241.9H516.70V241.9H517.20V241.0H517.70V241.9H518.20V239.1H518.70V241.8H519.20V241.6H519.70V241.9H520.20V241.7H520.70V241.8H521.20V241.9H521.70V241.9H522.20V241.6H522.70V241.9H523.20V241.9H523.70V241.9H524.20V241.9H524.70V241.9H525.20V241.3H525.70V241.9H526.20V241.9H526.70V241.9H527.20V241.6H527.70V239.9H528.20V237.4H528.70V234.0H529.20V230.0H529.70V226.2H530.20V222.3H530.70V226.7H531.20V230.0H531.70V231.1H532.20V234.4H532.70V235.3H533.20V237.5H533.70V236.0H534.20V239.3H534.70V239.8H535.20V238.7H535.70V240.6H536.20V240.9H536.70V241.1H537.20V241.3H537.70V241.3H538.20V240.6H538.70V241.6H539.20V241.7H539.70V241.7H540.20V241.8H540.70V241.3H541.20V241.8H541.70V241.8H542.20V241.9H542.70V241.9H543.20V240.3H543.70V241.9H544.20V241.0H544.70V241.5H545.20V241.5H545.70V241.3H546.20V241.9H546.70V241.9H547.20V241.9H547.70V241.9H548.20V240.6H548.70V241.9H549.20V241.9H549.70V241.9H550.20V241.9H550.70V241.9H551.20V241.9H551.70V241.9H552.20V241.1H552.70V241.9H553.20V241.9H553.70V241.9H554.20V241.9H554.70V241.8H555.20V241.9H555.70V241.9H556.20V241.9H556.70V241.1H557.20V241.9H557.70V241.9H558.20V241.2H558.70V241.9H559.20V241.9H559.70V241.9H560.20V241.9H560.70V241.4H561.20V241.9H561.70V241.6H562.20V241.9H562.70V241.8H563.20V241.9H563.70V241.9H564.20V241.9H564.70V241.1H565.20V241.9H565.70V241.9H566.20V241.9H566.70V241.9H567.20V241.9H567.70V240.7H568.20V241.6H568.70V240.3H569.20V238.3H569.70V235.8H570.20V232.8H570.70V226.0H571.20V226.3H571.70V229.4H572.20V232.4H572.70V234.5H573.20V236.2H573.70V237.4H574.20V238.4H574.70V239.2H575.20V237.9H575.70V240.3H576.20V240.6H576.70V240.9H577.20V241.1H577.70V240.1H578.20V241.4H578.70V241.5H579.20V241.6H579.70V240.8H580.20V241.5H580.70V241.8H581.20V241.2H581.70V240.6H582.20V241.8H582.70V241.9H583.20V241.6H583.70V240.8H584.20V241.9H584.70V241.9H585.20V241.2H585.70V241.9H586.20V241.4H586.70V241.9H587.20V241.2H587.70V241.9H588.20V241.9H588.70V241.9H589.20V241.9H589.70V241.6H590.20V240.4H590.70V240.9H591.20V241.0H591.70V241.9H592.20V241.9H592.70V241.0H593.20V241.9H593.70V241.9H594.20V241.9H594.70V241.9H595.20V241.9H595.70V241.9H596.20V241.8H596.70V241.5H597.20V241.9H597.70V241.9H598.20V241.9H598.70V241.9H599.20V241.9H599.70V241.9H600.20V241.9H600.70V241.9H601.20V238.0H601.70V232.1H602.20V228.2H602.70V226.3H603.20V226.7H603.70V227.5H604.20V231.2H604.70V229.5H605.20V230.6H605.70V232.3H606.20V232.2H606.70V232.8H607.20V232.0H607.70V234.9H608.20V234.0H608.70V235.0H609.20V235.2H609.70V235.4H610.20V233.9H610.70V236.0H611.20V236.8H611.70V237.5H612.20V236.9H612.70V238.0H613.20V237.6H613.70V238.1H614.20V238.4H614.70V238.3H615.20V238.8H615.70V239.0H616.20V239.3H616.70V239.1H617.20V239.5H617.70V239.2H618.20V240.0H618.70V240.0H619.20V239.9H619.70V240.3H620.20V240.1H620.70V240.3H621.20V240.6H621.70V240.7H622.20V240.5H622.70V240.7H623.20V240.7H623.70V239.8H624.20V241.0H624.70V239.7H625.20V241.0H625.70V241.1H626.20V238.8H626.70V241.1H627.20V240.8H627.70V241.3H628.20V241.4H628.70V241.3H629.20V241.4H629.70V241.4H630.20V241.5H630.70V240.4H631.20V241.4H631.70V241.5H632.20V241.0H632.70V241.6H633.20V241.5H633.70V241.6H634.20V240.9H634.70V241.6H635.20V241.7H635.70V241.7H636.20V241.7H636.70V241.7H637.20V241.7H637.70V241.7H638.20V241.7H638.70V241.6H639.20V241.7H639.70V241.8H640.20V241.8H640.70V241.8H641.20V241.8H641.70V241.8H642.20V241.3H642.70V241.8H643.20V241.8H643.70V241.8H644.20V241.8H644.70V240.4H645.20V241.8H645.70V241.8H646.20V241.8H646.70V241.8H647.20V241.8H647.70V241.9H648.20V241.0H648.70V241.9H649.20V241.9H649.70V241.9H650.20V241.9H650.70V241.9H651.20V241.9H651.70V241.9H652.20V241.9H652.70V240.8H653.20V240.7H653.70V241.9H654.20V240.1H654.70V241.9H655.20V241.9H655.70V241.9H656.20V241.8H656.70V241.7H657.20V241.9H657.70V240.5H658.20V241.9H658.70V241.9H659.20V241.9H659.70V241.9H660.20V241.8H660.70V241.5H661.20V241.8H661.70V241.9H662.20V241.5H662.70V240.6H663.20V241.9H663.70V241.9H664.20V241.6H664.70V240.1H665.20V237.8H665.70V234.8H666.20V231.0H666.70V227.3H667.20V222.1H667.70V227.0H668.20V230.9H668.70V231.9H669.20V235.0H669.70V236.7H670.20V237.8H670.70V237.3H671.20V239.4H671.70V240.0H672.20V240.4H672.70V240.7H673.20V240.0H673.70V241.2H674.20V241.4H674.70V241.5H675.20V240.2H675.70V241.6H676.20V241.4H676.70V241.7H677.20V241.8H677.70V241.8H678.20V241.6H678.70V241.8H679.20V241.9H679.70V241.9H680.20V241.9H680.70V241.9H681.20V241.90Z" fill="#93bde0" opacity="1.0"/>
<path d="M21.20 241.90V241.9H21.70V241.8H22.20V241.9H22.70V241.9H23.20V241.6H23.70V240.9H24.20V241.4H24.70V241.9H25.20V241.9H25.70V241.7H26.20V241.9H26.70V241.9H27.20V241.9H27.70V241.9H28.20V241.9H28.70V241.9H29.20V241.9H29.70V241.9H30.20V240.1H30.70V241.9H31.20V240.3H31.70V238.1H32.20V232.8H32.70V225.6H33.20V221.1H33.70V211.5H34.20V215.2H34.70V217.3H35.20V223.3H35.70V227.8H36.20V231.3H36.70V233.4H37.20V233.6H37.70V235.5H38.20V238.1H38.70V238.5H39.20V238.3H39.70V239.7H40.20V240.5H40.70V239.8H41.20V240.9H41.70V241.1H42.20V241.4H42.70V240.9H43.20V241.5H43.70V241.6H44.20V241.7H44.70V241.8H45.20V241.8H45.70V241.7H46.20V241.6H46.70V241.5H47.20V241.5H47.70V241.9H48.20V241.9H48.70V241.9H49.20V241.9H49.70V241.8H50.20V241.6H50.70V241.9H51.20V241.9H51.70V241.3H52.20V241.9H52.70V241.9H53.20V240.6H53.70V241.7H54.20V241.9H54.70V241.9H55.20V241.9H55.70V241.9H56.20V241.9H56.70V239.6H57.20V241.3H57.70V241.9H58.20V241.9H58.70V241.5H59.20V241.2H59.70V241.9H60.20V241.7H60.70V241.9H61.20V241.9H61.70V240.7H62.20V241.9H62.70V241.9H63.20V241.5H63.70V241.9H64.20V241.8H64.70V241.9H65.20V241.7H65.70V241.2H66.20V241.7H66.70V241.9H67.20V240.9H67.70V241.9H68.20V241.9H68.70V240.6H69.20V241.9H69.70V239.5H70.20V241.3H70.70V241.9H71.20V241.9H71.70V241.9H72.20V241.9H72.70V241.9H73.20V241.1H73.70V238.9H74.20V235.6H74.70V231.0H75.20V228.6H75.70V219.1H76.20V219.2H76.70V222.0H77.20V229.2H77.70V231.0H78.20V233.2H78.70V234.8H79.20V236.6H79.70V237.7H80.20V238.4H80.70V239.4H81.20V240.0H81.70V240.1H82.20V240.8H82.70V240.4H83.20V241.2H83.70V241.3H84.20V241.5H84.70V241.5H85.20V241.7H85.70V241.7H86.20V240.7H86.70V241.0H87.20V241.8H87.70V241.1H88.20V241.8H88.70V241.9H89.20V241.9H89.70V238.6H90.20V241.5H90.70V241.9H91.20V241.4H91.70V241.9H92.20V241.9H92.70V241.7H93.20V241.9H93.70V241.3H94.20V241.9H94.70V241.9H95.20V241.9H95.70V241.2H96.20V241.7H96.70V241.9H97.20V241.9H97.70V241.9H98.20V241.9H98.70V241.9H99.20V241.9H99.70V241.9H100.20V241.9H100.70V241.9H101.20V241.7H101.70V241.9H102.20V241.9H102.70V241.9H103.20V241.9H103.70V241.9H104.20V241.7H104.70V241.9H105.20V241.9H105.70V241.9H106.20V241.9H106.70V241.9H107.20V241.4H107.70V241.9H108.20V241.9H108.70V241.9H109.20V241.3H109.70V241.8H110.20V241.3H110.70V241.9H111.20V241.5H111.70V241.7H112.20V241.9H112.70V241.0H113.20V241.7H113.70V241.9H114.20V241.4H114.70V239.7H115.20V236.8H115.70V233.2H116.20V228.9H116.70V225.8H117.20V223.3H117.70V228.2H118.20V228.9H118.70V232.4H119.20V235.7H119.70V235.9H120.20V237.8H120.70V238.1H121.20V239.2H121.70V240.0H122.20V240.0H122.70V240.5H123.20V240.9H123.70V241.1H124.20V236.6H124.70V241.5H125.20V241.5H125.70V240.6H126.20V241.7H126.70V241.7H127.20V241.8H127.70V241.8H128.20V241.8H128.70V241.8H129.20V241.9H129.70V241.4H130.20V241.8H130.70V241.9H131.20V241.9H131.70V241.9H132.20V241.9H132.70V241.9H133.20V241.6H133.70V241.8H134.20V241.9H134.70V241.5H135.20V241.9H135.70V241.9H136.20V241.9H136.70V241.7H137.20V241.9H137.70V241.9H138.20V241.9H138.70V241.9H139.20V241.9H139.70V241.1H140.20V241.2H140.70V240.9H141.20V241.8H141.70V241.9H142.20V241.8H142.70V241.9H143.20V241.5H143.70V241.9H144.20V241.6H144.70V241.9H145.20V241.9H145.70V241.9H146.20V241.9H146.70V238.9H147.20V231.2H147.70V235.2H148.20V222.6H148.70V222.7H149.20V227.4H149.70V232.5H150.20V233.2H150.70V225.5H151.20V228.9H151.70V226.1H152.20V235.4H152.70V233.8H153.20V231.2H153.70V233.4H154.20V234.7H154.70V237.6H155.20V232.5H155.70V237.6H156.20V234.8H156.70V236.0H157.20V235.4H157.70V235.8H158.20V235.0H158.70V237.0H159.20V239.7H159.70V237.3H160.20V239.2H160.70V236.9H161.20V239.6H161.70V239.5H162.20V240.2H162.70V240.2H163.20V238.8H163.70V240.0H164.20V240.2H164.70V239.9H165.20V239.6H165.70V240.1H166.20V240.4H166.70V240.8H167.20V239.8H167.70V241.1H168.20V240.8H168.70V241.1H169.20V240.5H169.70V240.4H170.20V240.3H170.70V240.2H171.20V239.3H171.70V241.4H172.20V239.0H172.70V241.1H173.20V240.0H173.70V240.6H174.20V240.3H174.70V241.1H175.20V241.3H175.70V241.3H176.20V241.5H176.70V241.2H177.20V241.3H177.70V241.4H178.20V241.6H178.70V241.5H179.20V241.5H179.70V241.5H180.20V241.6H180.70V241.6H181.20V241.4H181.70V241.6H182.20V241.8H182.70V241.6H183.20V241.7H183.70V241.7H184.20V241.8H184.70V241.7H185.20V241.8H185.70V241.8H186.20V241.7H186.70V241.4H187.20V241.7H187.70V241.8H188.20V241.8H188.70V241.8H189.20V241.4H189.70V241.8H190.20V241.8H190.70V241.8H191.20V241.2H191.70V241.8H192.20V241.7H192.70V241.8H193.20V241.7H193.70V241.9H194.20V241.9H194.70V241.9H195.20V241.8H195.70V240.6H196.20V241.9H196.70V241.8H197.20V241.9H197.70V241.9H198.20V241.8H198.70V241.9H199.20V241.9H199.70V239.7H200.20V241.9H200.70V241.9H201.20V241.9H201.70V241.9H202.20V241.4H202.70V241.6H203.20V241.9H203.70V241.6H204.20V241.9H204.70V241.1H205.20V241.9H205.70V241.3H206.20V241.2H206.70V241.9H207.20V241.9H207.70V241.9H208.20V241.9H208.70V241.6H209.20V241.9H209.70V241.9H210.20V241.3H210.70V239.6H211.20V233.4H211.70V232.6H212.20V230.2H212.70V223.6H213.20V221.7H213.70V228.6H214.20V230.4H214.70V231.4H215.20V234.2H215.70V235.6H216.20V236.6H216.70V238.0H217.20V239.2H217.70V238.0H218.20V240.5H218.70V240.6H219.20V240.2H219.70V239.4H220.20V239.8H220.70V241.4H221.20V240.5H221.70V241.6H222.20V241.7H222.70V241.7H223.20V241.8H223.70V241.3H224.20V241.8H224.70V241.8H225.20V241.8H225.70V241.9H226.20V241.0H226.70V241.7H227.20V241.9H227.70V241.9H228.20V241.7H228.70V241.9H229.20V241.9H229.70V241.9H230.20V241.9H230.70V241.9H231.20V241.0H231.70V240.8H232.20V241.9H232.70V241.8H233.20V241.4H233.70V241.9H234.20V241.9H234.70V241.9H235.20V241.9H235.70V241.6H236.20V241.9H236.70V241.9H237.20V241.9H237.70V241.9H238.20V241.1H238.70V241.9H239.20V241.9H239.70V241.9H240.20V241.9H240.70V241.8H241.20V241.9H241.70V241.9H242.20V241.4H242.70V241.6H243.20V241.8H243.70V241.7H244.20V240.2H244.70V241.9H245.20V241.6H245.70V241.6H246.20V241.1H246.70V240.8H247.20V241.9H247.70V241.9H248.20V241.9H248.70V240.7H249.20V241.9H249.70V241.9H250.20V241.8H250.70V241.6H251.20V241.9H251.70V241.6H252.20V240.2H252.70V238.3H253.20V236.4H253.70V231.5H254.20V228.5H254.70V225.6H255.20V229.9H255.70V232.4H256.20V235.1H256.70V236.1H257.20V237.8H257.70V238.9H258.20V239.5H258.70V239.7H259.20V240.4H259.70V239.6H260.20V240.7H260.70V241.1H261.20V241.3H261.70V240.7H262.20V241.5H262.70V241.7H263.20V241.7H263.70V241.7H264.20V240.0H264.70V241.8H265.20V241.4H265.70V241.8H266.20V241.7H266.70V241.9H267.20V241.9H267.70V241.7H268.20V241.9H268.70V240.3H269.20V241.6H269.70V241.9H270.20V241.9H270.70V241.5H271.20V241.9H271.70V241.9H272.20V241.9H272.70V241.9H273.20V241.7H273.70V241.9H274.20V241.2H274.70V241.9H275.20V241.9H275.70V241.6H276.20V241.9H276.70V241.9H277.20V241.7H277.70V241.9H278.20V241.9H278.70V241.9H279.20V241.9H279.70V241.9H280.20V241.9H280.70V241.9H281.20V241.9H281.70V241.9H282.20V241.9H282.70V241.9H283.20V241.9H283.70V241.6H284.20V241.9H284.70V241.9H285.20V241.9H285.70V241.9H286.20V241.9H286.70V241.9H287.20V241.9H287.70V241.9H288.20V241.6H288.70V241.9H289.20V241.7H289.70V241.9H290.20V241.9H290.70V241.9H291.20V241.9H291.70V241.9H292.20V241.9H292.70V241.9H293.20V241.7H293.70V240.7H294.20V239.2H294.70V236.9H295.20V235.1H295.70V233.7H296.20V231.6H296.70V232.7H297.20V235.0H297.70V236.4H298.20V237.5H298.70V238.4H299.20V239.2H299.70V240.1H300.20V240.2H300.70V240.8H301.20V240.9H301.70V239.7H302.20V241.2H302.70V241.4H303.20V241.5H303.70V241.6H304.20V241.7H304.70V241.7H305.20V241.5H305.70V241.3H306.20V241.8H306.70V241.8H307.20V241.8H307.70V241.9H308.20V241.7H308.70V241.9H309.20V241.9H309.70V241.7H310.20V241.0H310.70V241.9H311.20V241.9H311.70V241.8H312.20V241.9H312.70V241.9H313.20V241.9H313.70V241.9H314.20V241.9H314.70V241.9H315.20V241.9H315.70V241.9H316.20V241.9H316.70V240.4H317.20V241.9H317.70V241.1H318.20V241.9H318.70V241.9H319.20V241.5H319.70V241.9H320.20V241.9H320.70V241.1H321.20V241.9H321.70V241.7H322.20V241.7H322.70V241.9H323.20V241.9H323.70V241.9H324.20V241.9H324.70V241.9H325.20V241.9H325.70V237.4H326.20V235.0H326.70V224.5H327.20V235.3H327.70V224.0H328.20V226.8H328.70V231.4H329.20V227.2H329.70V233.8H330.20V236.2H330.70V236.9H331.20V232.1H331.70V236.0H332.20V236.4H332.70V233.3H333.20V233.4H333.70V236.8H334.20V237.3H334.70V236.7H335.20V237.6H335.70V235.6H336.20V236.8H336.70V238.9H337.20V239.9H337.70V236.8H338.20V238.8H338.70V237.4H339.20V237.8H339.70V238.5H340.20V240.0H340.70V238.0H341.20V240.5H341.70V240.7H342.20V240.8H342.70V239.5H343.20V239.0H343.70V240.0H344.20V239.7H344.70V240.8H345.20V240.2H345.70V240.1H346.20V240.4H346.70V240.7H347.20V241.2H347.70V240.9H348.20V241.2H348.70V240.6H349.20V240.3H349.70V240.8H350.20V241.1H350.70V241.5H351.20V241.1H351.70V240.9H352.20V241.2H352.70V241.4H353.20V241.4H353.70V241.6H354.20V241.3H354.70V241.4H355.20V241.2H355.70V241.4H356.20V241.5H356.70V241.7H357.20V241.6H357.70V241.1H358.20V241.7H358.70V241.8H359.20V241.6H359.70V241.6H360.20V241.7H360.70V240.8H361.20V241.7H361.70V241.7H362.20V241.0H362.70V241.7H363.20V241.8H363.70V241.5H364.20V241.7H364.70V241.7H365.20V241.7H365.70V241.8H366.20V241.8H366.70V241.8H367.20V241.9H367.70V241.9H368.20V241.8H368.70V241.8H369.20V241.8H369.70V241.8H370.20V241.4H370.70V241.8H371.20V239.0H371.70V241.8H372.20V241.8H372.70V241.9H373.20V241.8H373.70V241.7H374.20V241.9H374.70V241.3H375.20V241.6H375.70V241.9H376.20V241.9H376.70V241.9H377.20V241.7H377.70V241.9H378.20V241.9H378.70V241.8H379.20V241.6H379.70V241.9H380.20V241.9H380.70V241.9H381.20V241.9H381.70V241.9H382.20V241.9H382.70V241.9H383.20V241.1H383.70V241.9H384.20V241.3H384.70V241.9H385.20V241.3H385.70V241.9H386.20V240.8H386.70V241.7H387.20V240.2H387.70V241.9H388.20V240.7H388.70V239.9H389.20V240.3H389.70V238.6H390.20V235.0H390.70V231.2H391.20V225.6H391.70V219.5H392.20V215.9H392.70V221.5H393.20V229.6H393.70V229.7H394.20V232.5H394.70V233.6H395.20V236.0H395.70V237.3H396.20V238.3H396.70V239.7H397.20V240.2H397.70V240.4H398.20V240.6H398.70V240.3H399.20V240.7H399.70V241.3H400.20V241.5H400.70V240.0H401.20V241.6H401.70V241.7H402.20V241.2H402.70V241.4H403.20V241.8H403.70V241.8H404.20V241.8H404.70V241.9H405.20V241.9H405.70V241.9H406.20V241.9H406.70V241.9H407.20V240.9H407.70V241.8H408.20V241.8H408.70V241.7H409.20V241.9H409.70V241.9H410.20V241.9H410.70V241.0H411.20V241.9H411.70V241.9H412.20V241.9H412.70V241.1H413.20V241.9H413.70V241.9H414.20V241.1H414.70V241.9H415.20V241.6H415.70V240.8H416.20V241.6H416.70V241.9H417.20V241.1H417.70V241.9H418.20V241.0H418.70V241.9H419.20V241.9H419.70V241.9H420.20V241.9H420.70V241.8H421.20V240.6H421.70V241.9H422.20V241.9H422.70V241.9H423.20V241.9H423.70V241.9H424.20V241.9H424.70V241.9H425.20V241.9H425.70V241.9H426.20V241.0H426.70V241.7H427.20V241.9H427.70V241.7H428.20V241.9H428.70V241.9H429.20V241.4H429.70V241.5H430.20V241.9H430.70V241.2H431.20V238.0H431.70V237.9H432.20V236.4H432.70V232.3H433.20V230.0H433.70V230.3H434.20V233.0H434.70V233.2H435.20V236.8H435.70V238.0H436.20V239.1H436.70V238.0H437.20V240.0H437.70V240.5H438.20V240.9H438.70V240.2H439.20V241.3H439.70V241.4H440.20V241.5H440.70V240.7H441.20V239.9H441.70V241.7H442.20V241.8H442.70V241.8H443.20V241.8H443.70V241.8H444.20V241.8H444.70V241.9H445.20V241.4H445.70V241.9H446.20V241.9H446.70V241.9H447.20V241.9H447.70V241.9H448.20V241.4H448.70V241.9H449.20V241.6H449.70V240.6H450.20V241.8H450.70V241.9H451.20V241.9H451.70V241.9H452.20V241.9H452.70V241.9H453.20V241.7H453.70V241.9H454.20V241.9H454.70V241.9H455.20V241.9H455.70V241.0H456.20V241.9H456.70V241.9H457.20V241.9H457.70V241.3H458.20V241.9H458.70V241.9H459.20V241.9H459.70V240.7H460.20V241.9H460.70V241.9H461.20V241.9H461.70V241.9H462.20V241.9H462.70V241.4H463.20V241.6H463.70V241.9H464.20V241.9H464.70V238.4H465.20V237.0H465.70V229.8H466.20V236.2H466.70V235.6H467.20V230.3H467.70V235.6H468.20V238.4H468.70V232.6H469.20V238.9H469.70V236.4H470.20V235.0H470.70V234.2H471.20V235.3H471.70V235.5H472.20V236.4H472.70V236.1H473.20V239.2H473.70V239.1H474.20V238.1H474.70V237.4H475.20V237.6H475.70V240.2H476.20V239.7H476.70V239.1H477.20V240.3H477.70V239.2H478.20V239.2H478.70V240.9H479.20V239.6H479.70V239.6H480.20V240.5H480.70V240.9H481.20V239.3H481.70V240.1H482.20V240.5H482.70V241.2H483.20V240.6H483.70V240.5H484.20V240.6H484.70V240.6H485.20V241.4H485.70V240.9H486.20V240.8H486.70V241.4H487.20V241.1H487.70V239.5H488.20V241.6H488.70V240.8H489.20V241.4H489.70V239.5H490.20V241.5H490.70V241.7H491.20V241.4H491.70V241.4H492.20V241.7H492.70V240.2H493.20V241.5H493.70V241.6H494.20V241.5H494.70V241.6H495.20V241.5H495.70V241.1H496.20V241.7H496.70V241.7H497.20V241.5H497.70V241.8H498.20V241.8H498.70V241.3H499.20V241.8H499.70V241.7H500.20V241.8H500.70V241.8H501.20V241.7H501.70V240.8H502.20V241.8H502.70V241.3H503.20V241.8H503.70V241.8H504.20V241.5H504.70V241.8H505.20V241.7H505.70V241.8H506.20V240.3H506.70V241.8H507.20V241.9H507.70V241.8H508.20V241.9H508.70V241.9H509.20V241.9H509.70V241.9H510.20V241.7H510.70V241.9H511.20V241.9H511.70V241.9H512.20V241.8H512.70V241.9H513.20V241.9H513.70V241.9H514.20V241.9H514.70V241.9H515.20V241.9H515.70V241.8H516.20V241.9H516.70V241.9H517.20V241.2H517.70V241.9H518.20V239.9H518.70V241.8H519.20V241.7H519.70V241.9H520.20V241.8H520.70V241.8H521.20V241.9H521.70V241.9H522.20V241.7H522.70V241.9H523.20V241.9H523.70V241.9H524.20V241.9H524.70V241.9H525.20V241.5H525.70V241.9H526.20V241.9H526.70V241.9H527.20V241.6H527.70V240.0H528.20V237.5H528.70V233.9H529.20V230.7H529.70V225.9H530.20V222.0H530.70V229.3H531.20V231.6H531.70V232.5H532.20V235.3H532.70V236.7H533.20V238.1H533.70V236.8H534.20V239.5H534.70V240.0H535.20V239.3H535.70V240.7H536.20V241.1H536.70V241.2H537.20V241.3H537.70V241.4H538.20V240.9H538.70V241.6H539.20V241.7H539.70V241.7H540.20V241.8H540.70V241.5H541.20V241.8H541.70V241.9H542.20V241.9H542.70V241.9H543.20V240.7H543.70V241.9H544.20V241.3H544.70V241.6H545.20V241.6H545.70V241.5H546.20V241.9H546.70V241.9H547.20V241.9H547.70V241.9H548.20V241.0H548.70V241.9H549.20V241.9H549.70V241.9H550.20V241.9H550.70V241.9H551.20V241.9H551.70V241.9H552.20V241.3H552.70V241.9H553.20V241.9H553.70V241.9H554.20V241.9H554.70V241.8H555.20V241.9H555.70V241.9H556.20V241.9H556.70V241.3H557.20V241.9H557.70V241.9H558.20V241.4H558.70V241.9H559.20V241.9H559.70V241.9H560.20V241.9H560.70V241.5H561.20V241.9H561.70V241.7H562.20V241.9H562.70V241.8H563.20V241.9H563.70V241.9H564.20V241.9H564.70V241.4H565.20V241.9H565.70V241.9H566.20V241.9H566.70V241.9H567.20V241.9H567.70V241.0H568.20V241.6H568.70V240.5H569.20V238.7H569.70V237.1H570.20V234.5H570.70V229.2H571.20V226.2H571.70V229.3H572.20V233.1H572.70V235.1H573.20V236.4H573.70V238.0H574.20V238.4H574.70V239.6H575.20V238.5H575.70V240.6H576.20V240.7H576.70V241.0H577.20V241.2H577.70V240.5H578.20V241.5H578.70V241.5H579.20V241.7H579.70V241.1H580.20V241.6H580.70V241.8H581.20V241.4H581.70V240.9H582.20V241.8H582.70V241.8H583.20V241.7H583.70V241.1H584.20V241.9H584.70V241.9H585.20V241.4H585.70V241.9H586.20V241.6H586.70V241.9H587.20V241.4H587.70V241.9H588.20V241.9H588.70V241.9H589.20V241.9H589.70V241.7H590.20V240.8H590.70V241.2H591.20V241.2H591.70V241.9H592.20V241.9H592.70V241.2H593.20V241.9H593.70V241.9H594.20V241.9H594.70V241.9H595.20V241.9H595.70V241.9H596.20V241.8H596.70V241.6H597.20V241.9H597.70V241.9H598.20V241.9H598.70V241.9H599.20V241.9H599.70V241.9H600.20V241.9H600.70V241.9H601.20V240.0H601.70V238.9H602.20V233.1H602.70V231.5H603.20V237.7H603.70V233.4H604.20V231.6H604.70V238.1H605.20V234.6H605.70V236.8H606.20V237.4H606.70V234.3H607.20V236.8H607.70V235.3H608.20V235.4H608.70V238.7H609.20V236.4H609.70V236.6H610.20V238.5H610.70V237.3H611.20V238.3H611.70V240.4H612.20V238.5H612.70V238.4H613.20V238.6H613.70V238.7H614.20V239.7H614.70V240.7H615.20V240.3H615.70V240.5H616.20V240.0H616.70V240.7H617.20V240.3H617.70V240.4H618.20V240.6H618.70V240.5H619.20V240.4H619.70V241.3H620.20V240.9H620.70V241.1H621.20V240.9H621.70V240.9H622.20V240.9H622.70V241.4H623.20V241.5H623.70V240.3H624.20V241.4H624.70V240.3H625.20V241.6H625.70V241.3H626.20V239.8H626.70V241.4H627.20V241.4H627.70V241.3H628.20V241.5H628.70V241.4H629.20V241.6H629.70V241.5H630.20V241.6H630.70V240.8H631.20V241.7H631.70V241.8H632.20V241.2H632.70V241.6H633.20V241.7H633.70V241.8H634.20V241.3H634.70V241.8H635.20V241.7H635.70V241.8H636.20V241.8H636.70V241.7H637.20V241.8H637.70V241.7H638.20V241.8H638.70V241.6H639.20V241.8H639.70V241.8H640.20V241.8H640.70V241.8H641.20V241.8H641.70V241.8H642.20V241.5H642.70V241.8H643.20V241.8H643.70V241.8H644.20V241.9H644.70V240.8H645.20V241.9H645.70V241.9H646.20V241.8H646.70V241.8H647.20V241.9H647.70V241.9H648.20V241.3H648.70V241.9H649.20V241.9H649.70V241.9H650.20V241.9H650.70V241.9H651.20V241.9H651.70V241.9H652.20V241.9H652.70V241.2H653.20V241.0H653.70V241.9H654.20V240.6H654.70V241.9H655.20V241.9H655.70V241.9H656.20V241.9H656.70V241.7H657.20V241.9H657.70V240.9H658.20V241.9H658.70V241.9H659.20V241.9H659.70V241.9H660.20V241.8H660.70V241.6H661.20V241.8H661.70V241.9H662.20V241.6H662.70V241.0H663.20V241.9H663.70V241.9H664.20V241.6H664.70V240.3H665.20V238.6H665.70V234.9H666.20V232.4H666.70V229.7H667.20V225.9H667.70V229.8H668.20V231.3H668.70V233.4H669.20V235.6H669.70V237.4H670.20V237.8H670.70V238.0H671.20V239.7H671.70V240.0H672.20V240.4H672.70V240.7H673.20V240.3H673.70V241.3H674.20V241.4H674.70V241.5H675.20V240.6H675.70V241.7H676.20V241.5H676.70V241.8H677.20V241.8H677.70V241.8H678.20V241.6H678.70V241.8H679.20V241.9H679.70V241.9H680.20V241.9H680.70V241.9H681.20V241.90Z" fill="#4f91c6" opacity="1.0"/>
<rect x="20.70" y="202.50" width="660.80" height="39.40" fill="none" stroke="#222" stroke-width="1"/>
<line x1="18.90" y1="241.90" x2="20.70" y2="241.90" stroke="#222" stroke-width="0.8"/>
<text x="18.20" y="245.50" font-family="Liberation Sans" font-size="9.6" text-anchor="end" fill="#1a1a1a" stroke="#1a1a1a" stroke-width="0.25">0</text>
<line x1="18.90" y1="224.66" x2="20.70" y2="224.66" stroke="#222" stroke-width="0.8"/>
<text x="18.20" y="228.26" font-family="Liberation Sans" font-size="9.6" text-anchor="end" fill="#1a1a1a" stroke="#1a1a1a" stroke-width="0.25">20</text>
<line x1="18.90" y1="207.42" x2="20.70" y2="207.42" stroke="#222" stroke-width="0.8"/>
<text x="18.20" y="211.02" font-family="Liberation Sans" font-size="9.6" text-anchor="end" fill="#1a1a1a" stroke="#1a1a1a" stroke-width="0.25">40</text>
<text x="18.0" y="249.5" font-family="Liberation Sans" font-size="8.6" textLength="22.5" lengthAdjust="spacingAndGlyphs" fill="#1a1a1a" stroke="#1a1a1a" stroke-width="0.25">+56μs</text>
<rect x="30.50" y="252.50" width="7" height="39.40" fill="#ececec"/>
<rect x="72.50" y="252.50" width="7" height="39.40" fill="#ececec"/>
<rect x="113.55" y="252.50" width="7" height="39.40" fill="#ececec"/>
<rect x="209.55" y="252.50" width="7" height="39.40" fill="#ececec"/>
<rect x="251.05" y="252.50" width="7" height="39.40" fill="#ececec"/>
<rect x="292.60" y="252.50" width="7" height="39.40" fill="#ececec"/>
<rect x="388.50" y="252.50" width="7" height="39.40" fill="#ececec"/>
<rect x="429.85" y="252.50" width="7" height="39.40" fill="#ececec"/>
<rect x="526.60" y="252.50" width="7" height="39.40" fill="#ececec"/>
<rect x="567.60" y="252.50" width="7" height="39.40" fill="#ececec"/>
<rect x="663.60" y="252.50" width="7" height="39.40" fill="#ececec"/>
<line x1="20.70" y1="274.66" x2="681.50" y2="274.66" stroke="#e3e3e3" stroke-width="0.8"/>
<line x1="20.70" y1="257.42" x2="681.50" y2="257.42" stroke="#e3e3e3" stroke-width="0.8"/>
<line x1="125.50" y1="252.50" x2="125.50" y2="291.90" stroke="#dcdcdc" stroke-width="0.8"/>
<line x1="230.30" y1="252.50" x2="230.30" y2="291.90" stroke="#dcdcdc" stroke-width="0.8"/>
<line x1="335.10" y1="252.50" x2="335.10" y2="291.90" stroke="#dcdcdc" stroke-width="0.8"/>
<line x1="439.90" y1="252.50" x2="439.90" y2="291.90" stroke="#dcdcdc" stroke-width="0.8"/>
<line x1="544.70" y1="252.50" x2="544.70" y2="291.90" stroke="#dcdcdc" stroke-width="0.8"/>
<line x1="649.50" y1="252.50" x2="649.50" y2="291.90" stroke="#dcdcdc" stroke-width="0.8"/>
<line x1="30.50" y1="252.50" x2="30.50" y2="291.90" stroke="#7a7a7a" stroke-width="0.6" stroke-dasharray="1.4 1.1"/>
<line x1="37.50" y1="252.50" x2="37.50" y2="291.90" stroke="#7a7a7a" stroke-width="0.6" stroke-dasharray="1.4 1.1"/>
<line x1="72.50" y1="252.50" x2="72.50" y2="291.90" stroke="#7a7a7a" stroke-width="0.6" stroke-dasharray="1.4 1.1"/>
<line x1="79.50" y1="252.50" x2="79.50" y2="291.90" stroke="#7a7a7a" stroke-width="0.6" stroke-dasharray="1.4 1.1"/>
<line x1="113.55" y1="252.50" x2="113.55" y2="291.90" stroke="#7a7a7a" stroke-width="0.6" stroke-dasharray="1.4 1.1"/>
<line x1="120.55" y1="252.50" x2="120.55" y2="291.90" stroke="#7a7a7a" stroke-width="0.6" stroke-dasharray="1.4 1.1"/>
<line x1="209.55" y1="252.50" x2="209.55" y2="291.90" stroke="#7a7a7a" stroke-width="0.6" stroke-dasharray="1.4 1.1"/>
<line x1="216.55" y1="252.50" x2="216.55" y2="291.90" stroke="#7a7a7a" stroke-width="0.6" stroke-dasharray="1.4 1.1"/>
<line x1="251.05" y1="252.50" x2="251.05" y2="291.90" stroke="#7a7a7a" stroke-width="0.6" stroke-dasharray="1.4 1.1"/>
<line x1="258.05" y1="252.50" x2="258.05" y2="291.90" stroke="#7a7a7a" stroke-width="0.6" stroke-dasharray="1.4 1.1"/>
<line x1="292.60" y1="252.50" x2="292.60" y2="291.90" stroke="#7a7a7a" stroke-width="0.6" stroke-dasharray="1.4 1.1"/>
<line x1="299.60" y1="252.50" x2="299.60" y2="291.90" stroke="#7a7a7a" stroke-width="0.6" stroke-dasharray="1.4 1.1"/>
<line x1="388.50" y1="252.50" x2="388.50" y2="291.90" stroke="#7a7a7a" stroke-width="0.6" stroke-dasharray="1.4 1.1"/>
<line x1="395.50" y1="252.50" x2="395.50" y2="291.90" stroke="#7a7a7a" stroke-width="0.6" stroke-dasharray="1.4 1.1"/>
<line x1="429.85" y1="252.50" x2="429.85" y2="291.90" stroke="#7a7a7a" stroke-width="0.6" stroke-dasharray="1.4 1.1"/>
<line x1="436.85" y1="252.50" x2="436.85" y2="291.90" stroke="#7a7a7a" stroke-width="0.6" stroke-dasharray="1.4 1.1"/>
<line x1="526.60" y1="252.50" x2="526.60" y2="291.90" stroke="#7a7a7a" stroke-width="0.6" stroke-dasharray="1.4 1.1"/>
<line x1="533.60" y1="252.50" x2="533.60" y2="291.90" stroke="#7a7a7a" stroke-width="0.6" stroke-dasharray="1.4 1.1"/>
<line x1="567.60" y1="252.50" x2="567.60" y2="291.90" stroke="#7a7a7a" stroke-width="0.6" stroke-dasharray="1.4 1.1"/>
<line x1="574.60" y1="252.50" x2="574.60" y2="291.90" stroke="#7a7a7a" stroke-width="0.6" stroke-dasharray="1.4 1.1"/>
<line x1="663.60" y1="252.50" x2="663.60" y2="291.90" stroke="#7a7a7a" stroke-width="0.6" stroke-dasharray="1.4 1.1"/>
<line x1="670.60" y1="252.50" x2="670.60" y2="291.90" stroke="#7a7a7a" stroke-width="0.6" stroke-dasharray="1.4 1.1"/>
<path d="M21.20 291.90V291.9H21.70V291.9H22.20V291.9H22.70V291.9H23.20V291.9H23.70V291.9H24.20V291.9H24.70V291.5H25.20V291.9H25.70V291.9H26.20V291.9H26.70V291.9H27.20V290.5H27.70V291.9H28.20V291.9H28.70V291.9H29.20V291.9H29.70V291.9H30.20V291.9H30.70V291.9H31.20V291.0H31.70V288.3H32.20V284.3H32.70V279.3H33.20V273.5H33.70V266.6H34.20V263.4H34.70V270.1H35.20V274.9H35.70V278.7H36.20V281.6H36.70V283.9H37.20V285.7H37.70V286.7H38.20V288.1H38.70V288.9H39.20V289.6H39.70V289.4H40.20V290.5H40.70V290.8H41.20V291.1H41.70V291.0H42.20V290.6H42.70V290.8H43.20V291.6H43.70V291.7H44.20V290.5H44.70V291.8H45.20V289.8H45.70V291.7H46.20V291.8H46.70V290.8H47.20V291.9H47.70V291.9H48.20V291.8H48.70V291.1H49.20V291.9H49.70V290.3H50.20V291.9H50.70V291.9H51.20V291.9H51.70V291.9H52.20V291.9H52.70V291.9H53.20V291.9H53.70V291.8H54.20V291.0H54.70V291.9H55.20V291.0H55.70V291.9H56.20V291.9H56.70V291.9H57.20V291.2H57.70V291.9H58.20V291.9H58.70V291.8H59.20V291.9H59.70V291.8H60.20V291.6H60.70V291.8H61.20V291.9H61.70V291.9H62.20V290.9H62.70V291.9H63.20V291.9H63.70V291.9H64.20V291.9H64.70V291.9H65.20V291.9H65.70V291.9H66.20V291.9H66.70V291.7H67.20V291.9H67.70V291.9H68.20V291.6H68.70V291.9H69.20V291.9H69.70V291.9H70.20V291.9H70.70V291.6H71.20V291.9H71.70V291.9H72.20V291.9H72.70V291.9H73.20V291.1H73.70V288.6H74.20V285.0H74.70V280.5H75.20V274.3H75.70V267.5H76.20V265.9H76.70V271.9H77.20V276.5H77.70V279.3H78.20V282.4H78.70V284.6H79.20V286.2H79.70V286.7H80.20V288.5H80.70V289.1H81.20V289.8H81.70V290.1H82.20V289.1H82.70V290.9H83.20V291.1H83.70V291.3H84.20V291.0H84.70V291.1H85.20V291.6H85.70V291.7H86.20V291.7H86.70V291.8H87.20V291.8H87.70V291.6H88.20V291.3H88.70V291.9H89.20V291.4H89.70V291.9H90.20V291.1H90.70V291.3H91.20V291.6H91.70V291.9H92.20V291.9H92.70V291.9H93.20V291.9H93.70V290.9H94.20V291.9H94.70V291.9H95.20V291.9H95.70V291.9H96.20V291.9H96.70V291.9H97.20V291.9H97.70V291.9H98.20V291.9H98.70V291.9H99.20V291.9H99.70V291.9H100.20V291.5H100.70V290.2H101.20V291.2H101.70V291.9H102.20V291.9H102.70V290.7H103.20V291.9H103.70V291.9H104.20V291.8H104.70V291.7H105.20V291.9H105.70V291.9H106.20V291.9H106.70V291.5H107.20V291.9H107.70V291.9H108.20V291.7H108.70V291.7H109.20V291.5H109.70V291.1H110.20V291.9H110.70V291.9H111.20V291.9H111.70V291.8H112.20V291.4H112.70V291.9H113.20V291.9H113.70V291.9H114.20V291.4H114.70V288.1H115.20V286.8H115.70V283.4H116.20V279.3H116.70V274.6H117.20V271.5H117.70V276.0H118.20V279.6H118.70V282.2H119.20V284.4H119.70V286.1H120.20V287.4H120.70V286.7H121.20V289.2H121.70V289.8H122.20V290.2H122.70V288.2H123.20V290.9H123.70V291.1H124.20V291.3H124.70V291.4H125.20V291.5H125.70V291.6H126.20V290.7H126.70V291.7H127.20V291.5H127.70V291.8H128.20V291.8H128.70V291.8H129.20V291.8H129.70V291.9H130.20V291.9H130.70V291.9H131.20V291.9H131.70V291.9H132.20V291.8H132.70V291.9H133.20V291.9H133.70V291.7H134.20V291.9H134.70V291.9H135.20V291.9H135.70V291.9H136.20V291.9H136.70V291.9H137.20V291.9H137.70V291.9H138.20V290.5H138.70V289.5H139.20V291.9H139.70V291.7H140.20V291.9H140.70V291.9H141.20V291.9H141.70V291.9H142.20V291.9H142.70V291.9H143.20V291.9H143.70V291.9H144.20V291.9H144.70V291.2H145.20V291.9H145.70V291.9H146.20V290.7H146.70V284.8H147.20V276.0H147.70V270.3H148.20V263.8H148.70V266.8H149.20V270.7H149.70V269.7H150.20V270.8H150.70V270.5H151.20V272.4H151.70V273.6H152.20V275.9H152.70V276.0H153.20V276.7H153.70V277.3H154.20V276.8H154.70V281.2H155.20V281.2H155.70V280.5H156.20V280.1H156.70V280.9H157.20V282.6H157.70V282.8H158.20V283.5H158.70V285.3H159.20V284.9H159.70V285.1H160.20V285.3H160.70V286.5H161.20V286.0H161.70V286.7H162.20V286.6H162.70V287.1H163.20V288.0H163.70V288.5H164.20V287.9H164.70V288.7H165.20V288.5H165.70V287.8H166.20V289.2H166.70V289.1H167.20V289.3H167.70V289.7H168.20V289.5H168.70V289.6H169.20V290.2H169.70V289.9H170.20V290.3H170.70V290.3H171.20V290.5H171.70V290.4H172.20V290.5H172.70V290.2H173.20V290.7H173.70V290.8H174.20V290.3H174.70V291.0H175.20V291.0H175.70V291.1H176.20V291.1H176.70V291.1H177.20V291.2H177.70V291.3H178.20V291.3H178.70V291.3H179.20V290.9H179.70V291.3H180.20V291.5H180.70V291.5H181.20V291.4H181.70V291.5H182.20V291.5H182.70V290.9H183.20V291.6H183.70V291.6H184.20V291.6H184.70V291.6H185.20V290.5H185.70V291.7H186.20V291.7H186.70V291.4H187.20V291.7H187.70V291.7H188.20V290.0H188.70V291.7H189.20V291.7H189.70V291.8H190.20V291.8H190.70V291.8H191.20V291.8H191.70V291.8H192.20V291.8H192.70V291.8H193.20V291.8H193.70V291.7H194.20V291.8H194.70V291.8H195.20V291.8H195.70V291.2H196.20V291.8H196.70V291.8H197.20V291.7H197.70V291.8H198.20V291.9H198.70V291.8H199.20V291.9H199.70V291.9H200.20V289.8H200.70V291.9H201.20V291.9H201.70V291.9H202.20V290.8H202.70V291.9H203.20V290.7H203.70V291.9H204.20V291.9H204.70V291.9H205.20V291.9H205.70V291.0H206.20V291.4H206.70V291.9H207.20V290.8H207.70V291.5H208.20V291.9H208.70V291.9H209.20V291.7H209.70V291.4H210.20V289.9H210.70V288.3H211.20V285.9H211.70V281.6H212.20V277.0H212.70V271.4H213.20V267.9H213.70V272.3H214.20V277.4H214.70V280.6H215.20V283.0H215.70V283.9H216.20V286.5H216.70V287.7H217.20V288.2H217.70V289.4H218.20V288.9H218.70V289.7H219.20V290.7H219.70V291.0H220.20V290.3H220.70V291.3H221.20V291.5H221.70V290.6H222.20V290.9H222.70V291.7H223.20V290.9H223.70V291.8H224.20V291.6H224.70V291.8H225.20V291.7H225.70V291.6H226.20V291.9H226.70V291.9H227.20V291.9H227.70V291.9H228.20V291.3H228.70V291.7H229.20V290.4H229.70V291.4H230.20V291.9H230.70V291.9H231.20V291.3H231.70V291.4H232.20V291.9H232.70V291.6H233.20V291.9H233.70V291.9H234.20V291.9H234.70V291.9H235.20V291.9H235.70V291.9H236.20V291.5H236.70V291.9H237.20V291.9H237.70V291.9H238.20V291.9H238.70V290.7H239.20V291.9H239.70V291.4H240.20V291.9H240.70V291.9H241.20V291.8H241.70V289.8H242.20V291.3H242.70V291.2H243.20V291.9H243.70V291.9H244.20V291.9H244.70V290.5H245.20V291.0H245.70V291.9H246.20V291.9H246.70V291.9H247.20V291.9H247.70V291.9H248.20V291.9H248.70V291.9H249.20V291.7H249.70V291.9H250.20V291.9H250.70V291.9H251.20V291.9H251.70V291.5H252.20V290.1H252.70V286.7H253.20V285.4H253.70V282.2H254.20V278.8H254.70V276.4H255.20V279.9H255.70V282.5H256.20V284.6H256.70V286.2H257.20V287.5H257.70V288.5H258.20V289.2H258.70V289.8H259.20V290.3H259.70V290.6H260.20V290.9H260.70V291.1H261.20V291.3H261.70V291.4H262.20V291.4H262.70V291.6H263.20V291.7H263.70V291.3H264.20V290.9H264.70V291.8H265.20V291.8H265.70V291.8H266.20V291.9H266.70V291.9H267.20V291.9H267.70V291.5H268.20V291.9H268.70V291.9H269.20V291.9H269.70V291.9H270.20V291.9H270.70V291.9H271.20V291.9H271.70V291.9H272.20V291.9H272.70V290.9H273.20V290.3H273.70V291.7H274.20V291.7H274.70V291.6H275.20V291.9H275.70V291.9H276.20V291.9H276.70V291.9H277.20V291.7H277.70V290.2H278.20V291.9H278.70V291.9H279.20V291.9H279.70V291.9H280.20V291.9H280.70V291.9H281.20V291.9H281.70V290.8H282.20V291.9H282.70V291.9H283.20V291.9H283.70V291.9H284.20V291.9H284.70V291.9H285.20V291.0H285.70V291.4H286.20V291.9H286.70V291.0H287.20V291.9H287.70V291.9H288.20V291.9H288.70V291.9H289.20V291.4H289.70V290.0H290.20V291.9H290.70V291.9H291.20V291.9H291.70V291.9H292.20V291.0H292.70V290.8H293.20V291.6H293.70V290.1H294.20V287.8H294.70V284.8H295.20V281.3H295.70V277.1H296.20V273.7H296.70V277.7H297.20V280.9H297.70V283.3H298.20V285.2H298.70V285.8H299.20V287.8H299.70V288.7H300.20V289.4H300.70V290.0H301.20V290.4H301.70V290.7H302.20V291.0H302.70V291.2H303.20V291.3H303.70V291.4H304.20V291.3H304.70V291.6H305.20V290.9H305.70V288.4H306.20V291.8H306.70V290.7H307.20V291.0H307.70V291.8H308.20V291.9H308.70V291.9H309.20V291.9H309.70V291.9H310.20V291.6H310.70V291.9H311.20V291.9H311.70V291.9H312.20V291.9H312.70V291.2H313.20V291.7H313.70V291.9H314.20V290.7H314.70V291.9H315.20V291.5H315.70V291.9H316.20V291.9H316.70V290.7H317.20V291.9H317.70V291.8H318.20V291.9H318.70V291.5H319.20V290.9H319.70V291.9H320.20V291.9H320.70V291.9H321.20V291.9H321.70V291.6H322.20V291.4H322.70V291.5H323.20V291.1H323.70V291.2H324.20V291.9H324.70V291.3H325.20V291.9H325.70V286.2H326.20V278.9H326.70V272.4H327.20V270.7H327.70V274.7H328.20V276.9H328.70V273.2H329.20V276.3H329.70V277.3H330.20V279.3H330.70V278.7H331.20V278.9H331.70V281.8H332.20V280.4H332.70V282.5H333.20V281.9H333.70V282.9H334.20V283.5H334.70V283.6H335.20V284.1H335.70V284.4H336.20V284.0H336.70V285.1H337.20V286.6H337.70V287.1H338.20V286.6H338.70V287.7H339.20V287.9H339.70V287.2H340.20V288.5H340.70V288.7H341.20V288.4H341.70V288.8H342.20V288.9H342.70V289.1H343.20V288.1H343.70V289.5H344.20V289.8H344.70V289.2H345.20V289.7H345.70V289.8H346.20V289.9H346.70V290.0H347.20V290.4H347.70V290.5H348.20V289.8H348.70V290.3H349.20V289.6H349.70V289.7H350.20V289.6H350.70V290.8H351.20V291.0H351.70V291.0H352.20V291.0H352.70V291.1H353.20V291.2H353.70V290.4H354.20V290.9H354.70V291.3H355.20V291.4H355.70V290.9H356.20V290.3H356.70V290.9H357.20V291.5H357.70V291.4H358.20V291.5H358.70V289.2H359.20V291.5H359.70V291.5H360.20V290.0H360.70V290.2H361.20V291.7H361.70V291.7H362.20V291.6H362.70V290.9H363.20V291.7H363.70V291.7H364.20V291.7H364.70V291.5H365.20V291.4H365.70V291.4H366.20V291.8H366.70V291.8H367.20V291.7H367.70V291.8H368.20V291.3H368.70V289.1H369.20V291.8H369.70V291.7H370.20V291.7H370.70V291.8H371.20V291.8H371.70V291.8H372.20V291.2H372.70V291.8H373.20V291.8H373.70V291.3H374.20V291.8H374.70V291.9H375.20V291.9H375.70V291.6H376.20V291.4H376.70V291.9H377.20V290.9H377.70V291.9H378.20V291.9H378.70V291.9H379.20V291.9H379.70V291.9H380.20V291.9H380.70V291.9H381.20V291.9H381.70V291.9H382.20V291.8H382.70V291.9H383.20V291.9H383.70V291.9H384.20V291.6H384.70V291.9H385.20V291.9H385.70V291.9H386.20V291.9H386.70V291.8H387.20V291.9H387.70V291.9H388.20V291.9H388.70V291.9H389.20V290.3H389.70V288.7H390.20V285.1H390.70V280.6H391.20V272.7H391.70V269.4H392.20V266.8H392.70V272.3H393.20V275.4H393.70V280.0H394.20V282.7H394.70V283.5H395.20V286.1H395.70V287.5H396.20V288.5H396.70V289.3H397.20V289.8H397.70V290.3H398.20V290.6H398.70V290.9H399.20V291.1H399.70V291.3H400.20V290.6H400.70V291.5H401.20V291.6H401.70V291.7H402.20V291.7H402.70V291.8H403.20V291.7H403.70V291.2H404.20V291.8H404.70V289.6H405.20V291.3H405.70V290.5H406.20V290.8H406.70V291.7H407.20V291.9H407.70V291.6H408.20V291.9H408.70V291.3H409.20V291.7H409.70V291.1H410.20V291.9H410.70V291.1H411.20V291.9H411.70V291.3H412.20V291.9H412.70V291.9H413.20V291.9H413.70V291.9H414.20V291.0H414.70V291.9H415.20V291.9H415.70V291.9H416.20V291.9H416.70V291.9H417.20V291.5H417.70V291.9H418.20V291.9H418.70V291.6H419.20V291.9H419.70V291.8H420.20V291.0H420.70V291.9H421.20V291.4H421.70V291.9H422.20V291.9H422.70V291.3H423.20V291.9H423.70V291.9H424.20V291.9H424.70V291.9H425.20V291.9H425.70V291.1H426.20V290.8H426.70V291.9H427.20V291.9H427.70V291.9H428.20V290.5H428.70V291.9H429.20V291.9H429.70V291.1H430.20V291.7H430.70V291.2H431.20V289.6H431.70V287.6H432.20V285.0H432.70V281.7H433.20V277.0H433.70V279.4H434.20V282.1H434.70V284.3H435.20V286.0H435.70V287.3H436.20V288.3H436.70V289.1H437.20V289.6H437.70V290.2H438.20V289.8H438.70V290.9H439.20V291.1H439.70V291.3H440.20V291.4H440.70V291.5H441.20V291.6H441.70V291.7H442.20V291.7H442.70V291.4H443.20V291.8H443.70V291.8H444.20V291.8H444.70V291.8H445.20V290.4H445.70V291.6H446.20V291.6H446.70V291.4H447.20V291.6H447.70V291.6H448.20V291.7H448.70V291.7H449.20V289.8H449.70V291.9H450.20V291.9H450.70V291.9H451.20V291.9H451.70V291.9H452.20V291.9H452.70V291.9H453.20V291.9H453.70V291.9H454.20V291.4H454.70V291.9H455.20V291.9H455.70V291.9H456.20V291.6H456.70V291.9H457.20V290.9H457.70V290.9H458.20V291.9H458.70V291.9H459.20V291.9H459.70V291.5H460.20V291.9H460.70V291.9H461.20V291.9H461.70V291.8H462.20V291.9H462.70V291.9H463.20V291.9H463.70V291.9H464.20V291.6H464.70V288.0H465.20V284.2H465.70V280.7H466.20V278.6H466.70V279.6H467.20V279.9H467.70V281.6H468.20V282.2H468.70V283.0H469.20V283.9H469.70V282.9H470.20V283.7H470.70V285.0H471.20V284.7H471.70V285.2H472.20V286.0H472.70V286.4H473.20V285.7H473.70V286.1H474.20V287.2H474.70V287.2H475.20V288.0H475.70V287.2H476.20V288.4H476.70V288.3H477.20V287.5H477.70V287.8H478.20V288.8H478.70V288.9H479.20V289.4H479.70V289.3H480.20V289.8H480.70V289.5H481.20V290.1H481.70V290.1H482.20V290.0H482.70V290.4H483.20V288.1H483.70V289.8H484.20V290.4H484.70V290.7H485.20V290.5H485.70V290.7H486.20V290.7H486.70V290.9H487.20V290.4H487.70V290.9H488.20V291.1H488.70V291.0H489.20V291.2H489.70V291.1H490.20V291.1H490.70V291.2H491.20V291.2H491.70V291.3H492.20V291.4H492.70V290.9H493.20V291.0H493.70V291.4H494.20V291.5H494.70V291.5H495.20V289.5H495.70V291.6H496.20V288.8H496.70V291.6H497.20V291.4H497.70V291.1H498.20V291.3H498.70V291.7H499.20V291.1H499.70V291.7H500.20V289.6H500.70V291.7H501.20V291.7H501.70V291.5H502.20V291.8H502.70V291.8H503.20V291.7H503.70V291.8H504.20V291.8H504.70V291.8H505.20V291.8H505.70V291.8H506.20V291.2H506.70V291.8H507.20V291.8H507.70V291.7H508.20V291.7H508.70V291.8H509.20V291.8H509.70V291.1H510.20V291.8H510.70V291.8H511.20V290.5H511.70V290.9H512.20V291.9H512.70V291.9H513.20V291.9H513.70V291.9H514.20V291.9H514.70V291.9H515.20V291.9H515.70V291.1H516.20V291.9H516.70V291.9H517.20V291.8H517.70V291.9H518.20V291.9H518.70V291.9H519.20V291.9H519.70V291.9H520.20V289.0H520.70V291.9H521.20V291.9H521.70V291.0H522.20V291.9H522.70V290.5H523.20V291.5H523.70V290.9H524.20V291.9H524.70V291.9H525.20V291.9H525.70V291.9H526.20V291.9H526.70V291.9H527.20V291.5H527.70V290.0H528.20V286.8H528.70V285.1H529.20V281.1H529.70V277.5H530.20V274.6H530.70V277.9H531.20V281.4H531.70V282.5H532.20V285.5H532.70V286.5H533.20V288.0H533.70V288.9H534.20V289.6H534.70V288.5H535.20V290.3H535.70V290.7H536.20V289.5H536.70V291.0H537.20V290.7H537.70V291.5H538.20V291.6H538.70V291.7H539.20V291.3H539.70V291.8H540.20V290.2H540.70V291.1H541.20V291.6H541.70V291.7H542.20V291.1H542.70V291.9H543.20V291.9H543.70V291.9H544.20V291.9H544.70V288.0H545.20V291.9H545.70V291.9H546.20V291.9H546.70V291.9H547.20V291.8H547.70V291.9H548.20V291.9H548.70V291.1H549.20V291.9H549.70V291.9H550.20V291.9H550.70V291.9H551.20V291.9H551.70V291.9H552.20V291.9H552.70V291.9H553.20V291.9H553.70V291.9H554.20V291.9H554.70V291.8H555.20V291.9H555.70V291.9H556.20V291.9H556.70V291.9H557.20V291.9H557.70V291.9H558.20V291.9H558.70V291.3H559.20V291.8H559.70V291.9H560.20V291.9H560.70V291.9H561.20V291.7H561.70V291.9H562.20V291.9H562.70V291.9H563.20V291.9H563.70V291.7H564.20V291.9H564.70V291.9H565.20V291.9H565.70V291.5H566.20V290.3H566.70V291.9H567.20V291.9H567.70V291.9H568.20V291.6H568.70V290.3H569.20V287.5H569.70V285.7H570.20V282.7H570.70V279.2H571.20V276.1H571.70V279.6H572.20V282.3H572.70V284.4H573.20V285.9H573.70V287.4H574.20V288.4H574.70V289.1H575.20V289.8H575.70V289.8H576.20V290.6H576.70V290.8H577.20V291.1H577.70V291.3H578.20V291.0H578.70V291.5H579.20V291.6H579.70V291.7H580.20V291.7H580.70V291.8H581.20V291.8H581.70V291.8H582.20V291.8H582.70V291.8H583.20V291.9H583.70V291.9H584.20V291.9H584.70V291.6H585.20V291.9H585.70V290.9H586.20V291.9H586.70V291.9H587.20V291.9H587.70V291.8H588.20V291.9H588.70V291.9H589.20V290.2H589.70V291.9H590.20V291.9H590.70V291.9H591.20V291.9H591.70V291.8H592.20V291.9H592.70V291.9H593.20V291.9H593.70V291.9H594.20V291.9H594.70V291.9H595.20V291.9H595.70V291.9H596.20V291.9H596.70V291.9H597.20V291.9H597.70V291.9H598.20V291.9H598.70V291.9H599.20V291.9H599.70V291.9H600.20V291.9H600.70V291.9H601.20V288.5H601.70V284.2H602.20V280.2H602.70V279.6H603.20V280.7H603.70V281.9H604.20V280.7H604.70V282.6H605.20V282.9H605.70V284.2H606.20V283.7H606.70V284.9H607.20V284.3H607.70V284.5H608.20V285.7H608.70V286.5H609.20V287.0H609.70V286.3H610.20V286.9H610.70V288.0H611.20V287.6H611.70V286.0H612.20V288.6H612.70V287.0H613.20V288.6H613.70V289.1H614.20V288.8H614.70V289.1H615.20V289.5H615.70V289.4H616.20V289.7H616.70V289.9H617.20V288.5H617.70V289.8H618.20V289.2H618.70V290.0H619.20V290.3H619.70V290.5H620.20V290.6H620.70V289.3H621.20V290.7H621.70V290.6H622.20V290.7H622.70V290.9H623.20V290.9H623.70V291.0H624.20V290.9H624.70V291.1H625.20V290.7H625.70V291.0H626.20V291.2H626.70V291.3H627.20V289.7H627.70V291.2H628.20V291.0H628.70V291.5H629.20V291.3H629.70V291.0H630.20V291.3H630.70V291.6H631.20V291.5H631.70V291.5H632.20V291.6H632.70V290.6H633.20V291.5H633.70V291.7H634.20V290.8H634.70V291.5H635.20V291.7H635.70V291.7H636.20V291.7H636.70V290.5H637.20V290.5H637.70V291.1H638.20V291.8H638.70V291.8H639.20V291.8H639.70V291.8H640.20V291.8H640.70V291.8H641.20V291.8H641.70V291.8H642.20V291.8H642.70V291.8H643.20V291.8H643.70V291.8H644.20V291.4H644.70V291.8H645.20V291.8H645.70V291.8H646.20V291.8H646.70V291.8H647.20V289.9H647.70V291.9H648.20V291.9H648.70V291.6H649.20V291.9H649.70V291.5H650.20V291.9H650.70V291.9H651.20V291.9H651.70V291.9H652.20V291.9H652.70V291.9H653.20V291.7H653.70V290.6H654.20V291.4H654.70V290.5H655.20V291.9H655.70V291.9H656.20V291.9H656.70V291.2H657.20V291.9H657.70V291.9H658.20V291.6H658.70V291.7H659.20V291.9H659.70V291.9H660.20V291.5H660.70V291.9H661.20V291.9H661.70V290.5H662.20V291.9H662.70V291.9H663.20V291.7H663.70V290.5H664.20V291.6H664.70V290.3H665.20V288.3H665.70V285.4H666.20V281.6H666.70V277.4H667.20V276.1H667.70V279.6H668.20V282.3H668.70V284.4H669.20V286.1H669.70V287.4H670.20V288.4H670.70V289.1H671.20V288.4H671.70V290.2H672.20V290.6H672.70V290.9H673.20V290.5H673.70V290.7H674.20V291.3H674.70V291.5H675.20V291.6H675.70V291.7H676.20V291.7H676.70V290.8H677.20V291.8H677.70V291.6H678.20V291.4H678.70V291.6H679.20V291.5H679.70V291.9H680.20V291.9H680.70V291.9H681.20V291.90Z" fill="#f6c98e" opacity="1.0"/>
<path d="M21.20 291.90V291.9H21.70V291.9H22.20V291.9H22.70V291.9H23.20V291.9H23.70V291.9H24.20V291.9H24.70V291.6H25.20V291.9H25.70V291.9H26.20V291.9H26.70V291.9H27.20V290.9H27.70V291.9H28.20V291.9H28.70V291.9H29.20V291.9H29.70V291.9H30.20V291.9H30.70V291.9H31.20V291.1H31.70V288.3H32.20V284.4H32.70V279.5H33.20V274.3H33.70V266.5H34.20V267.8H34.70V271.3H35.20V277.1H35.70V280.2H36.20V281.5H36.70V284.6H37.20V286.2H37.70V287.8H38.20V288.2H38.70V289.4H39.20V289.9H39.70V289.9H40.20V290.6H40.70V291.0H41.20V291.1H41.70V291.2H42.20V290.8H42.70V291.0H43.20V291.6H43.70V291.7H44.20V290.9H44.70V291.8H45.20V290.3H45.70V291.7H46.20V291.8H46.70V291.1H47.20V291.9H47.70V291.9H48.20V291.8H48.70V291.3H49.20V291.9H49.70V290.8H50.20V291.9H50.70V291.9H51.20V291.9H51.70V291.9H52.20V291.9H52.70V291.9H53.20V291.9H53.70V291.8H54.20V291.2H54.70V291.9H55.20V291.3H55.70V291.9H56.20V291.9H56.70V291.9H57.20V291.4H57.70V291.9H58.20V291.9H58.70V291.8H59.20V291.9H59.70V291.8H60.20V291.7H60.70V291.8H61.20V291.9H61.70V291.9H62.20V291.2H62.70V291.9H63.20V291.9H63.70V291.9H64.20V291.9H64.70V291.9H65.20V291.9H65.70V291.9H66.20V291.9H66.70V291.7H67.20V291.9H67.70V291.9H68.20V291.7H68.70V291.9H69.20V291.9H69.70V291.9H70.20V291.9H70.70V291.7H71.20V291.9H71.70V291.9H72.20V291.9H72.70V291.9H73.20V291.2H73.70V289.1H74.20V286.1H74.70V281.6H75.20V276.9H75.70V269.8H76.20V265.8H76.70V276.0H77.20V276.4H77.70V279.9H78.20V283.1H78.70V285.6H79.20V286.5H79.70V287.8H80.20V289.2H80.70V289.4H81.20V290.2H81.70V290.4H82.20V289.7H82.70V291.1H83.20V291.2H83.70V291.3H84.20V291.2H84.70V291.2H85.20V291.7H85.70V291.7H86.20V291.7H86.70V291.8H87.20V291.8H87.70V291.6H88.20V291.5H88.70V291.9H89.20V291.6H89.70V291.9H90.20V291.4H90.70V291.5H91.20V291.7H91.70V291.9H92.20V291.9H92.70V291.9H93.20V291.9H93.70V291.2H94.20V291.9H94.70V291.9H95.20V291.9H95.70V291.9H96.20V291.9H96.70V291.9H97.20V291.9H97.70V291.9H98.20V291.9H98.70V291.9H99.20V291.9H99.70V291.9H100.20V291.6H100.70V290.7H101.20V291.4H101.70V291.9H102.20V291.9H102.70V291.0H103.20V291.9H103.70V291.9H104.20V291.8H104.70V291.8H105.20V291.9H105.70V291.9H106.20V291.9H106.70V291.6H107.20V291.9H107.70V291.9H108.20V291.8H108.70V291.8H109.20V291.6H109.70V291.3H110.20V291.9H110.70V291.9H111.20V291.9H111.70V291.9H112.20V291.5H112.70V291.9H113.20V291.9H113.70V291.9H114.20V291.5H114.70V288.6H115.20V287.0H115.70V283.4H116.20V280.2H116.70V277.4H117.20V271.2H117.70V276.6H118.20V281.6H118.70V283.7H119.20V284.7H119.70V286.6H120.20V287.4H120.70V287.7H121.20V289.6H121.70V289.9H122.20V290.6H122.70V289.1H123.20V291.0H123.70V291.2H124.20V291.3H124.70V291.4H125.20V291.5H125.70V291.7H126.20V291.0H126.70V291.7H127.20V291.6H127.70V291.8H128.20V291.8H128.70V291.8H129.20V291.9H129.70V291.9H130.20V291.9H130.70V291.9H131.20V291.9H131.70V291.9H132.20V291.8H132.70V291.9H133.20V291.9H133.70V291.8H134.20V291.9H134.70V291.9H135.20V291.9H135.70V291.9H136.20V291.9H136.70V291.9H137.20V291.9H137.70V291.9H138.20V290.9H138.70V290.2H139.20V291.9H139.70V291.8H140.20V291.9H140.70V291.9H141.20V291.9H141.70V291.9H142.20V291.9H142.70V291.9H143.20V291.9H143.70V291.9H144.20V291.9H144.70V291.4H145.20V291.9H145.70V291.9H146.20V291.0H146.70V286.1H147.20V282.1H147.70V273.7H148.20V274.7H148.70V275.6H149.20V279.2H149.70V279.9H150.20V274.7H150.70V281.4H151.20V279.7H151.70V282.5H152.20V280.9H152.70V285.3H153.20V287.2H153.70V284.7H154.20V283.5H154.70V281.9H155.20V282.9H155.70V282.1H156.20V285.3H156.70V284.5H157.20V285.1H157.70V287.8H158.20V289.1H158.70V285.3H159.20V285.3H159.70V289.7H160.20V289.4H160.70V287.2H161.20V288.1H161.70V287.4H162.20V288.2H162.70V289.9H163.20V290.2H163.70V288.5H164.20V289.6H164.70V289.7H165.20V289.7H165.70V289.1H166.20V290.5H166.70V290.8H167.20V289.7H167.70V290.9H168.20V290.2H168.70V290.7H169.20V290.9H169.70V290.3H170.20V290.6H170.70V290.6H171.20V291.2H171.70V290.8H172.20V291.2H172.70V290.7H173.20V290.9H173.70V291.5H174.20V290.7H174.70V291.4H175.20V291.6H175.70V291.3H176.20V291.2H176.70V291.6H177.20V291.4H177.70V291.4H178.20V291.5H178.70V291.4H179.20V291.2H179.70V291.5H180.20V291.4H180.70V291.8H181.20V291.5H181.70V291.6H182.20V291.6H182.70V291.2H183.20V291.7H183.70V291.7H184.20V291.7H184.70V291.8H185.20V290.9H185.70V291.7H186.20V291.8H186.70V291.5H187.20V291.8H187.70V291.7H188.20V290.6H188.70V291.8H189.20V291.8H189.70V291.8H190.20V291.8H190.70V291.9H191.20V291.9H191.70V291.8H192.20V291.8H192.70V291.8H193.20V291.8H193.70V291.8H194.20V291.8H194.70V291.8H195.20V291.9H195.70V291.4H196.20V291.9H196.70V291.9H197.20V291.8H197.70V291.9H198.20V291.9H198.70V291.9H199.20V291.9H199.70V291.9H200.20V290.4H200.70V291.9H201.20V291.9H201.70V291.9H202.20V291.1H202.70V291.9H203.20V291.0H203.70V291.9H204.20V291.9H204.70V291.9H205.20V291.9H205.70V291.2H206.20V291.5H206.70V291.9H207.20V291.1H207.70V291.6H208.20V291.9H208.70V291.9H209.20V291.7H209.70V291.5H210.20V290.4H210.70V288.7H211.20V286.1H211.70V282.2H212.20V277.0H212.70V275.2H213.20V268.9H213.70V272.4H214.20V277.8H214.70V280.9H215.20V284.7H215.70V285.4H216.20V286.5H216.70V288.3H217.20V288.5H217.70V289.6H218.20V289.2H218.70V290.1H219.20V290.9H219.70V291.1H220.20V290.6H220.70V291.4H221.20V291.5H221.70V291.0H222.20V291.1H222.70V291.7H223.20V291.2H223.70V291.8H224.20V291.6H224.70V291.8H225.20V291.7H225.70V291.7H226.20V291.9H226.70V291.9H227.20V291.9H227.70V291.9H228.20V291.5H228.70V291.8H229.20V290.8H229.70V291.6H230.20V291.9H230.70V291.9H231.20V291.4H231.70V291.5H232.20V291.9H232.70V291.7H233.20V291.9H233.70V291.9H234.20V291.9H234.70V291.9H235.20V291.9H235.70V291.9H236.20V291.6H236.70V291.9H237.20V291.9H237.70V291.9H238.20V291.9H238.70V291.1H239.20V291.9H239.70V291.5H240.20V291.9H240.70V291.9H241.20V291.9H241.70V290.4H242.20V291.5H242.70V291.4H243.20V291.9H243.70V291.9H244.20V291.9H244.70V290.9H245.20V291.3H245.70V291.9H246.20V291.9H246.70V291.9H247.20V291.9H247.70V291.9H248.20V291.9H248.70V291.9H249.20V291.8H249.70V291.9H250.20V291.9H250.70V291.9H251.20V291.9H251.70V291.5H252.20V290.4H252.70V287.5H253.20V286.2H253.70V283.5H254.20V280.1H254.70V279.2H255.20V281.1H255.70V283.6H256.20V284.6H256.70V286.9H257.20V287.5H257.70V288.6H258.20V289.2H258.70V289.8H259.20V290.3H259.70V290.8H260.20V291.0H260.70V291.3H261.20V291.3H261.70V291.4H262.20V291.5H262.70V291.6H263.20V291.7H263.70V291.5H264.20V291.2H264.70V291.8H265.20V291.8H265.70V291.8H266.20V291.9H266.70V291.9H267.20V291.9H267.70V291.6H268.20V291.9H268.70V291.9H269.20V291.9H269.70V291.9H270.20V291.9H270.70V291.9H271.20V291.9H271.70V291.9H272.20V291.9H272.70V291.2H273.20V290.7H273.70V291.7H274.20V291.7H274.70V291.7H275.20V291.9H275.70V291.9H276.20V291.9H276.70V291.9H277.20V291.7H277.70V290.7H278.20V291.9H278.70V291.9H279.20V291.9H279.70V291.9H280.20V291.9H280.70V291.9H281.20V291.9H281.70V291.1H282.20V291.9H282.70V291.9H283.20V291.9H283.70V291.9H284.20V291.9H284.70V291.9H285.20V291.3H285.70V291.6H286.20V291.9H286.70V291.3H287.20V291.9H287.70V291.9H288.20V291.9H288.70V291.9H289.20V291.5H289.70V290.6H290.20V291.9H290.70V291.9H291.20V291.9H291.70V291.9H292.20V291.3H292.70V291.1H293.20V291.6H293.70V290.4H294.20V287.7H294.70V286.3H295.20V282.8H295.70V279.5H296.20V277.2H296.70V280.0H297.20V282.8H297.70V284.0H298.20V285.8H298.70V286.4H299.20V287.8H299.70V289.2H300.20V289.5H300.70V290.1H301.20V290.5H301.70V290.8H302.20V291.2H302.70V291.2H303.20V291.4H303.70V291.4H304.20V291.4H304.70V291.7H305.20V291.2H305.70V289.4H306.20V291.8H306.70V291.0H307.20V291.2H307.70V291.9H308.20V291.9H308.70V291.9H309.20V291.9H309.70V291.9H310.20V291.7H310.70V291.9H311.20V291.9H311.70V291.9H312.20V291.9H312.70V291.4H313.20V291.7H313.70V291.9H314.20V291.0H314.70V291.9H315.20V291.6H315.70V291.9H316.20V291.9H316.70V291.1H317.20V291.9H317.70V291.8H318.20V291.9H318.70V291.6H319.20V291.2H319.70V291.9H320.20V291.9H320.70V291.9H321.20V291.9H321.70V291.7H322.20V291.5H322.70V291.6H323.20V291.3H323.70V291.4H324.20V291.9H324.70V291.5H325.20V291.9H325.70V287.5H326.20V285.7H326.70V282.6H327.20V280.4H327.70V285.1H328.20V278.8H328.70V280.1H329.20V285.2H329.70V281.2H330.20V284.2H330.70V284.6H331.20V284.7H331.70V282.5H332.20V288.6H332.70V288.7H333.20V287.2H333.70V287.2H334.20V287.1H334.70V285.6H335.20V287.5H335.70V288.3H336.20V286.5H336.70V287.0H337.20V286.9H337.70V288.1H338.20V287.4H338.70V290.4H339.20V288.4H339.70V289.9H340.20V290.1H340.70V288.6H341.20V288.8H341.70V290.2H342.20V289.2H342.70V290.2H343.20V290.1H343.70V291.0H344.20V290.6H344.70V290.3H345.20V290.5H345.70V290.3H346.20V290.2H346.70V290.9H347.20V290.7H347.70V290.7H348.20V290.8H348.70V291.3H349.20V290.4H349.70V290.2H350.20V290.4H350.70V291.4H351.20V291.5H351.70V291.5H352.20V291.1H352.70V291.2H353.20V291.2H353.70V291.1H354.20V291.3H354.70V291.4H355.20V291.7H355.70V291.4H356.20V290.9H356.70V291.2H357.20V291.6H357.70V291.7H358.20V291.6H358.70V290.0H359.20V291.7H359.70V291.8H360.20V290.6H360.70V290.7H361.20V291.7H361.70V291.7H362.20V291.7H362.70V291.1H363.20V291.8H363.70V291.7H364.20V291.8H364.70V291.7H365.20V291.5H365.70V291.5H366.20V291.8H366.70V291.8H367.20V291.7H367.70V291.8H368.20V291.5H368.70V289.9H369.20V291.8H369.70V291.7H370.20V291.8H370.70V291.9H371.20V291.8H371.70V291.8H372.20V291.4H372.70V291.9H373.20V291.9H373.70V291.5H374.20V291.9H374.70V291.9H375.20V291.9H375.70V291.7H376.20V291.6H376.70V291.9H377.20V291.2H377.70V291.9H378.20V291.9H378.70V291.9H379.20V291.9H379.70V291.9H380.20V291.9H380.70V291.9H381.20V291.9H381.70V291.9H382.20V291.8H382.70V291.9H383.20V291.9H383.70V291.9H384.20V291.7H384.70V291.9H385.20V291.9H385.70V291.9H386.20V291.9H386.70V291.8H387.20V291.9H387.70V291.9H388.20V291.9H388.70V291.9H389.20V290.7H389.70V289.0H390.20V285.7H390.70V281.1H391.20V273.4H391.70V272.4H392.20V270.6H392.70V275.7H393.20V276.6H393.70V280.7H394.20V284.1H394.70V285.1H395.20V287.3H395.70V288.4H396.20V288.6H396.70V289.3H397.20V290.1H397.70V290.4H398.20V290.8H398.70V291.0H399.20V291.2H399.70V291.4H400.20V290.9H400.70V291.5H401.20V291.6H401.70V291.7H402.20V291.7H402.70V291.8H403.20V291.8H403.70V291.4H404.20V291.8H404.70V290.2H405.20V291.4H405.70V290.9H406.20V291.1H406.70V291.8H407.20V291.9H407.70V291.7H408.20V291.9H408.70V291.5H409.20V291.7H409.70V291.3H410.20V291.9H410.70V291.4H411.20V291.9H411.70V291.5H412.20V291.9H412.70V291.9H413.20V291.9H413.70V291.9H414.20V291.2H414.70V291.9H415.20V291.9H415.70V291.9H416.20V291.9H416.70V291.9H417.20V291.6H417.70V291.9H418.20V291.9H418.70V291.7H419.20V291.9H419.70V291.9H420.20V291.3H420.70V291.9H421.20V291.6H421.70V291.9H422.20V291.9H422.70V291.5H423.20V291.9H423.70V291.9H424.20V291.9H424.70V291.9H425.20V291.9H425.70V291.3H426.20V291.1H426.70V291.9H427.20V291.9H427.70V291.9H428.20V290.9H428.70V291.9H429.20V291.9H429.70V291.4H430.20V291.7H430.70V291.3H431.20V289.8H431.70V288.1H432.20V285.2H432.70V282.0H433.20V278.7H433.70V279.5H434.20V283.1H434.70V285.3H435.20V286.5H435.70V287.4H436.20V288.6H436.70V289.2H437.20V289.9H437.70V290.3H438.20V290.1H438.70V290.9H439.20V291.2H439.70V291.4H440.20V291.5H440.70V291.6H441.20V291.7H441.70V291.7H442.20V291.7H442.70V291.5H443.20V291.8H443.70V291.8H444.20V291.8H444.70V291.8H445.20V290.8H445.70V291.7H446.20V291.7H446.70V291.5H447.20V291.7H447.70V291.7H448.20V291.8H448.70V291.8H449.20V290.4H449.70V291.9H450.20V291.9H450.70V291.9H451.20V291.9H451.70V291.9H452.20V291.9H452.70V291.9H453.20V291.9H453.70V291.9H454.20V291.6H454.70V291.9H455.20V291.9H455.70V291.9H456.20V291.7H456.70V291.9H457.20V291.2H457.70V291.2H458.20V291.9H458.70V291.9H459.20V291.9H459.70V291.6H460.20V291.9H460.70V291.9H461.20V291.9H461.70V291.9H462.20V291.9H462.70V291.9H463.20V291.9H463.70V291.9H464.20V291.7H464.70V289.8H465.20V286.6H465.70V284.2H466.20V281.7H466.70V283.3H467.20V285.2H467.70V281.3H468.20V282.4H468.70V284.8H469.20V284.4H469.70V287.7H470.20V283.9H470.70V285.4H471.20V287.4H471.70V288.8H472.20V287.8H472.70V287.1H473.20V288.3H473.70V288.5H474.20V289.2H474.70V288.7H475.20V288.4H475.70V288.2H476.20V290.2H476.70V288.9H477.20V289.0H477.70V289.7H478.20V289.2H478.70V290.7H479.20V290.9H479.70V290.0H480.20V289.8H480.70V290.8H481.20V290.6H481.70V290.9H482.20V290.6H482.70V290.5H483.20V289.0H483.70V290.3H484.20V290.9H484.70V291.2H485.20V291.1H485.70V291.5H486.20V291.5H486.70V291.5H487.20V290.7H487.70V291.3H488.20V291.6H488.70V291.5H489.20V291.3H489.70V291.2H490.20V291.3H490.70V291.5H491.20V291.6H491.70V291.6H492.20V291.4H492.70V291.4H493.20V291.4H493.70V291.4H494.20V291.6H494.70V291.6H495.20V290.2H495.70V291.8H496.20V289.7H496.70V291.6H497.20V291.6H497.70V291.4H498.20V291.5H498.70V291.8H499.20V291.4H499.70V291.7H500.20V290.4H500.70V291.8H501.20V291.8H501.70V291.6H502.20V291.8H502.70V291.8H503.20V291.8H503.70V291.9H504.20V291.8H504.70V291.8H505.20V291.8H505.70V291.8H506.20V291.4H506.70V291.9H507.20V291.9H507.70V291.8H508.20V291.8H508.70V291.9H509.20V291.9H509.70V291.4H510.20V291.9H510.70V291.9H511.20V290.9H511.70V291.2H512.20V291.9H512.70V291.9H513.20V291.9H513.70V291.9H514.20V291.9H514.70V291.9H515.20V291.9H515.70V291.3H516.20V291.9H516.70V291.9H517.20V291.8H517.70V291.9H518.20V291.9H518.70V291.9H519.20V291.9H519.70V291.9H520.20V289.9H520.70V291.9H521.20V291.9H521.70V291.3H522.20V291.9H522.70V290.9H523.20V291.6H523.70V291.2H524.20V291.9H524.70V291.9H525.20V291.9H525.70V291.9H526.20V291.9H526.70V291.9H527.20V291.5H527.70V290.4H528.20V287.3H528.70V286.6H529.20V281.3H529.70V278.9H530.20V275.7H530.70V279.0H531.20V283.1H531.70V284.5H532.20V285.7H532.70V287.1H533.20V288.4H533.70V289.5H534.20V289.5H534.70V289.0H535.20V290.5H535.70V291.0H536.20V290.0H536.70V291.1H537.20V290.9H537.70V291.6H538.20V291.6H538.70V291.7H539.20V291.5H539.70V291.8H540.20V290.6H540.70V291.3H541.20V291.7H541.70V291.8H542.20V291.3H542.70V291.9H543.20V291.9H543.70V291.9H544.20V291.9H544.70V289.1H545.20V291.9H545.70V291.9H546.20V291.9H546.70V291.9H547.20V291.9H547.70V291.9H548.20V291.9H548.70V291.3H549.20V291.9H549.70V291.9H550.20V291.9H550.70V291.9H551.20V291.9H551.70V291.9H552.20V291.9H552.70V291.9H553.20V291.9H553.70V291.9H554.20V291.9H554.70V291.9H555.20V291.9H555.70V291.9H556.20V291.9H556.70V291.9H557.20V291.9H557.70V291.9H558.20V291.9H558.70V291.5H559.20V291.8H559.70V291.9H560.20V291.9H560.70V291.9H561.20V291.8H561.70V291.9H562.20V291.9H562.70V291.9H563.20V291.9H563.70V291.8H564.20V291.9H564.70V291.9H565.20V291.9H565.70V291.6H566.20V290.8H566.70V291.9H567.20V291.9H567.70V291.9H568.20V291.7H568.70V290.6H569.20V288.0H569.70V285.9H570.20V283.2H570.70V279.6H571.20V279.3H571.70V282.1H572.20V283.1H572.70V284.7H573.20V287.0H573.70V287.3H574.20V288.7H574.70V289.7H575.20V289.9H575.70V289.9H576.20V290.6H576.70V290.8H577.20V291.2H577.70V291.3H578.20V291.2H578.70V291.5H579.20V291.6H579.70V291.7H580.20V291.8H580.70V291.8H581.20V291.8H581.70V291.8H582.20V291.8H582.70V291.9H583.20V291.9H583.70V291.9H584.20V291.9H584.70V291.7H585.20V291.9H585.70V291.2H586.20V291.9H586.70V291.9H587.20V291.9H587.70V291.8H588.20V291.9H588.70V291.9H589.20V290.7H589.70V291.9H590.20V291.9H590.70V291.9H591.20V291.9H591.70V291.8H592.20V291.9H592.70V291.9H593.20V291.9H593.70V291.9H594.20V291.9H594.70V291.9H595.20V291.9H595.70V291.9H596.20V291.9H596.70V291.9H597.20V291.9H597.70V291.9H598.20V291.9H598.70V291.9H599.20V291.9H599.70V291.9H600.20V291.9H600.70V291.9H601.20V290.2H601.70V288.9H602.20V288.1H602.70V280.3H603.20V283.9H603.70V284.1H604.20V285.9H604.70V288.3H605.20V287.0H605.70V288.3H606.20V286.6H606.70V286.5H607.20V287.4H607.70V288.1H608.20V288.4H608.70V287.6H609.20V289.6H609.70V287.3H610.20V288.9H610.70V289.0H611.20V288.3H611.70V289.2H612.20V288.6H612.70V287.7H613.20V289.9H613.70V290.6H614.20V289.2H614.70V291.0H615.20V289.8H615.70V290.0H616.20V291.0H616.70V291.2H617.20V290.1H617.70V290.5H618.20V290.3H618.70V290.4H619.20V291.3H619.70V290.5H620.20V290.6H620.70V290.4H621.20V291.5H621.70V290.9H622.20V291.1H622.70V291.1H623.20V291.5H623.70V291.6H624.20V291.4H624.70V291.2H625.20V291.3H625.70V291.3H626.20V291.6H626.70V291.6H627.20V290.3H627.70V291.2H628.20V291.3H628.70V291.6H629.20V291.4H629.70V291.2H630.20V291.4H630.70V291.7H631.20V291.6H631.70V291.6H632.20V291.7H632.70V291.1H633.20V291.7H633.70V291.7H634.20V291.2H634.70V291.6H635.20V291.8H635.70V291.8H636.20V291.8H636.70V290.9H637.20V290.9H637.70V291.4H638.20V291.8H638.70V291.8H639.20V291.8H639.70V291.8H640.20V291.9H640.70V291.9H641.20V291.9H641.70V291.9H642.20V291.8H642.70V291.8H643.20V291.8H643.70V291.8H644.20V291.5H644.70V291.9H645.20V291.8H645.70V291.9H646.20V291.9H646.70V291.8H647.20V290.5H647.70V291.9H648.20V291.9H648.70V291.7H649.20V291.9H649.70V291.6H650.20V291.9H650.70V291.9H651.20V291.9H651.70V291.9H652.20V291.9H652.70V291.9H653.20V291.8H653.70V291.0H654.20V291.5H654.70V290.9H655.20V291.9H655.70V291.9H656.20V291.9H656.70V291.4H657.20V291.9H657.70V291.9H658.20V291.7H658.70V291.8H659.20V291.9H659.70V291.9H660.20V291.6H660.70V291.9H661.20V291.9H661.70V290.9H662.20V291.9H662.70V291.9H663.20V291.8H663.70V290.9H664.20V291.6H664.70V290.4H665.20V288.8H665.70V286.2H666.20V282.1H666.70V277.7H667.20V279.0H667.70V280.0H668.20V283.0H668.70V285.7H669.20V287.1H669.70V288.1H670.20V288.3H670.70V289.3H671.20V289.3H671.70V290.4H672.20V290.7H672.70V291.1H673.20V290.8H673.70V291.0H674.20V291.4H674.70V291.6H675.20V291.6H675.70V291.7H676.20V291.7H676.70V291.1H677.20V291.8H677.70V291.7H678.20V291.5H678.70V291.7H679.20V291.6H679.70V291.9H680.20V291.9H680.70V291.9H681.20V291.90Z" fill="#f0a447" opacity="1.0"/>
<rect x="20.70" y="252.50" width="660.80" height="39.40" fill="none" stroke="#222" stroke-width="1"/>
<line x1="18.90" y1="291.90" x2="20.70" y2="291.90" stroke="#222" stroke-width="0.8"/>
<text x="18.20" y="295.50" font-family="Liberation Sans" font-size="9.6" text-anchor="end" fill="#1a1a1a" stroke="#1a1a1a" stroke-width="0.25">0</text>
<line x1="18.90" y1="274.66" x2="20.70" y2="274.66" stroke="#222" stroke-width="0.8"/>
<text x="18.20" y="278.26" font-family="Liberation Sans" font-size="9.6" text-anchor="end" fill="#1a1a1a" stroke="#1a1a1a" stroke-width="0.25">20</text>
<line x1="18.90" y1="257.42" x2="20.70" y2="257.42" stroke="#222" stroke-width="0.8"/>
<text x="18.20" y="261.02" font-family="Liberation Sans" font-size="9.6" text-anchor="end" fill="#1a1a1a" stroke="#1a1a1a" stroke-width="0.25">40</text>
<text x="18.0" y="299.5" font-family="Liberation Sans" font-size="8.6" textLength="22.5" lengthAdjust="spacingAndGlyphs" fill="#1a1a1a" stroke="#1a1a1a" stroke-width="0.25">+84μs</text>
<line x1="125.50" y1="291.90" x2="125.50" y2="293.70" stroke="#222" stroke-width="0.8"/>
<text x="125.50" y="302.20" font-family="Liberation Sans" font-size="9.3" text-anchor="middle" fill="#1a1a1a" stroke="#1a1a1a" stroke-width="0.25">500</text>
<line x1="230.30" y1="291.90" x2="230.30" y2="293.70" stroke="#222" stroke-width="0.8"/>
<text x="230.30" y="302.20" font-family="Liberation Sans" font-size="9.3" text-anchor="middle" fill="#1a1a1a" stroke="#1a1a1a" stroke-width="0.25">1000</text>
<line x1="335.10" y1="291.90" x2="335.10" y2="293.70" stroke="#222" stroke-width="0.8"/>
<text x="335.10" y="302.20" font-family="Liberation Sans" font-size="9.3" text-anchor="middle" fill="#1a1a1a" stroke="#1a1a1a" stroke-width="0.25">1500</text>
<line x1="439.90" y1="291.90" x2="439.90" y2="293.70" stroke="#222" stroke-width="0.8"/>
<text x="439.90" y="302.20" font-family="Liberation Sans" font-size="9.3" text-anchor="middle" fill="#1a1a1a" stroke="#1a1a1a" stroke-width="0.25">2000</text>
<line x1="544.70" y1="291.90" x2="544.70" y2="293.70" stroke="#222" stroke-width="0.8"/>
<text x="544.70" y="302.20" font-family="Liberation Sans" font-size="9.3" text-anchor="middle" fill="#1a1a1a" stroke="#1a1a1a" stroke-width="0.25">2500</text>
<line x1="649.50" y1="291.90" x2="649.50" y2="293.70" stroke="#222" stroke-width="0.8"/>
<text x="649.50" y="302.20" font-family="Liberation Sans" font-size="9.3" text-anchor="middle" fill="#1a1a1a" stroke="#1a1a1a" stroke-width="0.25">3000</text>
<line x1="294.9" y1="105.4" x2="331.7" y2="105.4" stroke="#222" stroke-width="0.8"/>
<text x="294.6" y="118.7" font-family="Liberation Serif" font-size="16" font-style="italic" fill="#222" textLength="37" lengthAdjust="spacingAndGlyphs">SNR</text>
<text x="336.2" y="118.7" font-family="Liberation Serif" font-size="16" fill="#222" textLength="51" lengthAdjust="spacing">= 26 : 1</text>
<text x="317.2" y="313.0" font-family="Liberation Serif" font-size="13.5" font-style="italic" fill="#222">t</text>
<line x1="332.2" y1="303.6" x2="327.4" y2="316.4" stroke="#222" stroke-width="0.95"/>
<text x="339.2" y="313.0" font-family="Liberation Serif" font-size="13.5" font-style="italic" textLength="14.2" lengthAdjust="spacingAndGlyphs" fill="#222">ns</text>
<text x="1.0" y="327.6" font-family="Liberation Sans" font-size="16.3" fill="#222">c</text>
<text x="71.5" y="327.4" font-family="Liberation Serif" font-size="12.3" fill="#222" textLength="107.6" lengthAdjust="spacingAndGlyphs"><tspan font-style="italic">F</tspan><tspan font-style="italic" font-size="9" dy="2.2">com.</tspan><tspan dy="-2.2"> = 89.8 ± 1.1%</tspan></text>
<line x1="80.36" y1="421.30" x2="80.38" y2="322.34" stroke="#d2d2d2" stroke-width="0.7"/>
<line x1="63.76" y1="430.74" x2="63.79" y2="331.57" stroke="#d2d2d2" stroke-width="0.7"/>
<line x1="47.10" y1="440.21" x2="47.13" y2="340.85" stroke="#d2d2d2" stroke-width="0.7"/>
<line x1="30.37" y1="449.72" x2="30.41" y2="350.16" stroke="#d2d2d2" stroke-width="0.7"/>
<line x1="89.08" y1="416.35" x2="20.47" y2="455.35" stroke="#d2d2d2" stroke-width="0.7"/>
<line x1="89.08" y1="372.98" x2="20.49" y2="411.62" stroke="#d2d2d2" stroke-width="0.7"/>
<line x1="89.09" y1="329.62" x2="20.51" y2="367.91" stroke="#d2d2d2" stroke-width="0.7"/>
<line x1="105.54" y1="419.16" x2="105.55" y2="320.31" stroke="#d2d2d2" stroke-width="0.7"/>
<line x1="135.46" y1="424.28" x2="135.47" y2="325.44" stroke="#d2d2d2" stroke-width="0.7"/>
<line x1="165.38" y1="429.40" x2="165.37" y2="330.57" stroke="#d2d2d2" stroke-width="0.7"/>
<line x1="195.29" y1="434.52" x2="195.27" y2="335.70" stroke="#d2d2d2" stroke-width="0.7"/>
<line x1="89.08" y1="416.35" x2="213.82" y2="437.69" stroke="#d2d2d2" stroke-width="0.7"/>
<line x1="89.08" y1="372.98" x2="213.81" y2="394.34" stroke="#d2d2d2" stroke-width="0.7"/>
<line x1="89.09" y1="329.62" x2="213.80" y2="351.01" stroke="#d2d2d2" stroke-width="0.7"/>
<line x1="89.08" y1="416.35" x2="89.09" y2="317.48" stroke="#d2d2d2" stroke-width="0.7"/>
<line x1="105.54" y1="419.16" x2="37.08" y2="458.18" stroke="#e2e2e2" stroke-width="0.6"/>
<line x1="135.46" y1="424.28" x2="67.26" y2="463.34" stroke="#e2e2e2" stroke-width="0.6"/>
<line x1="165.38" y1="429.40" x2="97.43" y2="468.49" stroke="#e2e2e2" stroke-width="0.6"/>
<line x1="195.29" y1="434.52" x2="127.59" y2="473.64" stroke="#e2e2e2" stroke-width="0.6"/>
<line x1="80.36" y1="421.30" x2="205.24" y2="442.66" stroke="#e2e2e2" stroke-width="0.6"/>
<line x1="63.76" y1="430.74" x2="188.90" y2="452.13" stroke="#e2e2e2" stroke-width="0.6"/>
<line x1="47.10" y1="440.21" x2="172.49" y2="461.64" stroke="#e2e2e2" stroke-width="0.6"/>
<line x1="30.37" y1="449.72" x2="156.03" y2="471.18" stroke="#e2e2e2" stroke-width="0.6"/>
<line x1="20.47" y1="455.35" x2="20.52" y2="355.67" stroke="#8a8a8a" stroke-width="0.9"/>
<text x="17.87" y="458.75" font-family="Liberation Sans" font-size="9.3" text-anchor="end" fill="#1a1a1a" stroke="#1a1a1a" stroke-width="0.25">0.00</text>
<text x="17.89" y="418.12" font-family="Liberation Sans" font-size="9.3" text-anchor="end" fill="#1a1a1a" stroke="#1a1a1a" stroke-width="0.25">0.25</text>
<text x="17.91" y="375.21" font-family="Liberation Sans" font-size="9.3" text-anchor="end" fill="#1a1a1a" stroke="#1a1a1a" stroke-width="0.25">0.50</text>
<line x1="20.47" y1="455.35" x2="144.80" y2="478.00" stroke="#333" stroke-width="0.9"/>
<line x1="144.80" y1="478.00" x2="213.40" y2="440.20" stroke="#333" stroke-width="0.9"/>
<polygon points="92.81,419.76 82.88,425.41 82.90,340.28 92.82,334.73" fill="#6fa4cf" stroke="none" stroke-width="0.8" fill-opacity="0.35" stroke-linejoin="round"/><polygon points="92.81,419.76 110.78,422.83 110.79,337.81 92.82,334.73" fill="#6fa4cf" stroke="none" stroke-width="0.8" fill-opacity="0.35" stroke-linejoin="round"/><line x1="92.81" y1="419.76" x2="92.82" y2="334.73" stroke="#4d7aa3" stroke-width="0.8"/><line x1="82.88" y1="425.41" x2="92.81" y2="419.76" stroke="#4d7aa3" stroke-width="0.6"/><line x1="110.78" y1="422.83" x2="92.81" y2="419.76" stroke="#4d7aa3" stroke-width="0.6"/><polygon points="82.88,425.41 100.87,428.49 100.88,343.37 82.90,340.28" fill="#6498c6" stroke="none" stroke-width="0.8" fill-opacity="0.9" stroke-linejoin="round"/><polygon points="100.87,428.49 110.78,422.83 110.79,337.81 100.88,343.37" fill="#5b90c0" stroke="none" stroke-width="0.8" fill-opacity="0.9" stroke-linejoin="round"/><polygon points="82.90,340.28 92.82,334.73 110.79,337.81 100.88,343.37" fill="#6ea2cf" stroke="#111" stroke-width="1.0" fill-opacity="0.93" stroke-linejoin="round"/><line x1="82.88" y1="425.41" x2="82.90" y2="340.28" stroke="#2b3d50" stroke-width="0.9"/><line x1="100.87" y1="428.49" x2="100.88" y2="343.37" stroke="#1f2a36" stroke-width="1.0"/><line x1="110.78" y1="422.83" x2="110.79" y2="337.81" stroke="#2b3d50" stroke-width="0.9"/><line x1="82.88" y1="425.41" x2="100.87" y2="428.49" stroke="#2b3d50" stroke-width="0.8"/><line x1="100.87" y1="428.49" x2="110.78" y2="422.83" stroke="#2b3d50" stroke-width="0.8"/><polygon points="82.90,338.55 92.82,333.00 110.79,336.08 100.88,341.63" fill="none" stroke="#111" stroke-width="1.2" fill-opacity="1.0" stroke-linejoin="round" stroke-dasharray="3 1.6"/><line x1="82.90" y1="340.28" x2="82.90" y2="338.55" stroke="#111" stroke-width="1.2" stroke-dasharray="3 1.6"/><line x1="100.88" y1="343.37" x2="100.88" y2="341.63" stroke="#111" stroke-width="1.2" stroke-dasharray="3 1.6"/><line x1="110.79" y1="337.81" x2="110.79" y2="336.08" stroke="#111" stroke-width="1.2" stroke-dasharray="3 1.6"/><line x1="92.82" y1="334.73" x2="92.82" y2="333.00" stroke="#111" stroke-width="1.2" stroke-dasharray="3 1.6"/>
<polygon points="66.28,434.86 84.31,437.94 84.31,437.24 66.28,434.16" fill="#bea684" stroke="#222" stroke-width="0.5" fill-opacity="1.0" stroke-linejoin="round"/><polygon points="84.31,437.94 94.25,432.27 94.25,431.57 84.31,437.24" fill="#bea684" stroke="#222" stroke-width="0.5" fill-opacity="1.0" stroke-linejoin="round"/><polygon points="66.28,434.16 76.25,428.49 94.25,431.57 84.31,437.24" fill="#bea684" stroke="#1a1a1a" stroke-width="0.9" fill-opacity="1.0" stroke-linejoin="round"/>
<polygon points="112.86,430.54 130.84,433.61 130.84,432.92 112.86,429.84" fill="#4b70a0" stroke="#222" stroke-width="0.5" fill-opacity="1.0" stroke-linejoin="round"/><polygon points="130.84,433.61 140.71,427.95 140.71,427.26 130.84,432.92" fill="#4b70a0" stroke="#222" stroke-width="0.5" fill-opacity="1.0" stroke-linejoin="round"/><polygon points="112.86,429.84 122.75,424.19 140.71,427.26 130.84,432.92" fill="#4b70a0" stroke="#1a1a1a" stroke-width="0.9" fill-opacity="1.0" stroke-linejoin="round"/>
<polygon points="49.62,444.34 67.68,447.43 67.68,446.73 49.62,443.65" fill="#3f5d88" stroke="#222" stroke-width="0.5" fill-opacity="1.0" stroke-linejoin="round"/><polygon points="67.68,447.43 77.66,441.73 77.66,441.04 67.68,446.73" fill="#3f5d88" stroke="#222" stroke-width="0.5" fill-opacity="1.0" stroke-linejoin="round"/><polygon points="49.62,443.65 59.62,437.95 77.66,441.04 67.68,446.73" fill="#3f5d88" stroke="#1a1a1a" stroke-width="0.9" fill-opacity="1.0" stroke-linejoin="round"/>
<polygon points="96.32,440.00 114.34,443.08 114.34,440.29 96.32,437.21" fill="#6aa4d4" stroke="#222" stroke-width="0.5" fill-opacity="1.0" stroke-linejoin="round"/><polygon points="114.34,443.08 124.25,437.39 124.25,434.61 114.34,440.29" fill="#6aa4d4" stroke="#222" stroke-width="0.5" fill-opacity="1.0" stroke-linejoin="round"/><polygon points="96.32,437.21 106.25,431.53 124.25,434.61 114.34,440.29" fill="#6aa4d4" stroke="#1a1a1a" stroke-width="0.9" fill-opacity="1.0" stroke-linejoin="round"/>
<polygon points="142.83,435.66 160.81,438.74 160.81,438.04 142.83,434.97" fill="#c8995c" stroke="#222" stroke-width="0.5" fill-opacity="1.0" stroke-linejoin="round"/><polygon points="160.81,438.74 170.64,433.07 170.64,432.38 160.81,438.04" fill="#c8995c" stroke="#222" stroke-width="0.5" fill-opacity="1.0" stroke-linejoin="round"/><polygon points="142.83,434.97 152.68,429.31 170.64,432.38 160.81,438.04" fill="#c8995c" stroke="#1a1a1a" stroke-width="0.9" fill-opacity="1.0" stroke-linejoin="round"/>
<polygon points="79.72,449.49 97.77,452.57 97.77,450.66 79.72,447.57" fill="#a8a690" stroke="#222" stroke-width="0.5" fill-opacity="1.0" stroke-linejoin="round"/><polygon points="97.77,452.57 107.72,446.87 107.72,444.95 97.77,450.66" fill="#a8a690" stroke="#222" stroke-width="0.5" fill-opacity="1.0" stroke-linejoin="round"/><polygon points="79.72,447.57 89.69,441.87 107.72,444.95 97.77,450.66" fill="#a8a690" stroke="#1a1a1a" stroke-width="0.9" fill-opacity="1.0" stroke-linejoin="round"/>
<polygon points="126.35,445.13 144.37,448.21 144.37,447.16 126.35,444.08" fill="#3c5f8c" stroke="#222" stroke-width="0.5" fill-opacity="1.0" stroke-linejoin="round"/><polygon points="144.37,448.21 154.24,442.52 154.24,441.48 144.37,447.16" fill="#3c5f8c" stroke="#222" stroke-width="0.5" fill-opacity="1.0" stroke-linejoin="round"/><polygon points="126.35,444.08 136.25,438.40 154.24,441.48 144.37,447.16" fill="#3c5f8c" stroke="#1a1a1a" stroke-width="0.9" fill-opacity="1.0" stroke-linejoin="round"/>
<polygon points="42.93,448.15 32.88,453.87 32.91,381.33 42.96,375.70" fill="#6fa4cf" stroke="none" stroke-width="0.8" fill-opacity="0.35" stroke-linejoin="round"/><polygon points="42.93,448.15 61.01,451.24 61.03,378.80 42.96,375.70" fill="#6fa4cf" stroke="none" stroke-width="0.8" fill-opacity="0.35" stroke-linejoin="round"/><line x1="42.93" y1="448.15" x2="42.96" y2="375.70" stroke="#4d7aa3" stroke-width="0.8"/><line x1="32.88" y1="453.87" x2="42.93" y2="448.15" stroke="#4d7aa3" stroke-width="0.6"/><line x1="61.01" y1="451.24" x2="42.93" y2="448.15" stroke="#4d7aa3" stroke-width="0.6"/><polygon points="32.88,453.87 50.98,456.96 51.01,384.43 32.91,381.33" fill="#6498c6" stroke="none" stroke-width="0.8" fill-opacity="0.9" stroke-linejoin="round"/><polygon points="50.98,456.96 61.01,451.24 61.03,378.80 51.01,384.43" fill="#5b90c0" stroke="none" stroke-width="0.8" fill-opacity="0.9" stroke-linejoin="round"/><polygon points="32.91,381.33 42.96,375.70 61.03,378.80 51.01,384.43" fill="#6ea2cf" stroke="#111" stroke-width="1.0" fill-opacity="0.93" stroke-linejoin="round"/><line x1="32.88" y1="453.87" x2="32.91" y2="381.33" stroke="#2b3d50" stroke-width="0.9"/><line x1="50.98" y1="456.96" x2="51.01" y2="384.43" stroke="#1f2a36" stroke-width="1.0"/><line x1="61.01" y1="451.24" x2="61.03" y2="378.80" stroke="#2b3d50" stroke-width="0.9"/><line x1="32.88" y1="453.87" x2="50.98" y2="456.96" stroke="#2b3d50" stroke-width="0.8"/><line x1="50.98" y1="456.96" x2="61.01" y2="451.24" stroke="#2b3d50" stroke-width="0.8"/><polygon points="32.92,366.48 42.96,360.87 61.03,363.96 51.01,369.58" fill="none" stroke="#111" stroke-width="1.2" fill-opacity="1.0" stroke-linejoin="round" stroke-dasharray="3 1.6"/><line x1="32.91" y1="381.33" x2="32.92" y2="366.48" stroke="#111" stroke-width="1.2" stroke-dasharray="3 1.6"/><line x1="51.01" y1="384.43" x2="51.01" y2="369.58" stroke="#111" stroke-width="1.2" stroke-dasharray="3 1.6"/><line x1="61.03" y1="378.80" x2="61.03" y2="363.96" stroke="#111" stroke-width="1.2" stroke-dasharray="3 1.6"/><line x1="42.96" y1="375.70" x2="42.96" y2="360.87" stroke="#111" stroke-width="1.2" stroke-dasharray="3 1.6"/>
<polygon points="182.61,435.12 172.79,440.79 172.78,368.72 182.60,363.14" fill="#6fa4cf" stroke="none" stroke-width="0.8" fill-opacity="0.35" stroke-linejoin="round"/><polygon points="182.61,435.12 200.56,438.19 200.54,366.21 182.60,363.14" fill="#6fa4cf" stroke="none" stroke-width="0.8" fill-opacity="0.35" stroke-linejoin="round"/><line x1="182.61" y1="435.12" x2="182.60" y2="363.14" stroke="#4d7aa3" stroke-width="0.8"/><line x1="172.79" y1="440.79" x2="182.61" y2="435.12" stroke="#4d7aa3" stroke-width="0.6"/><line x1="200.56" y1="438.19" x2="182.61" y2="435.12" stroke="#4d7aa3" stroke-width="0.6"/><polygon points="172.79,440.79 190.76,443.86 190.75,371.80 172.78,368.72" fill="#6498c6" stroke="none" stroke-width="0.8" fill-opacity="0.9" stroke-linejoin="round"/><polygon points="190.76,443.86 200.56,438.19 200.54,366.21 190.75,371.80" fill="#5b90c0" stroke="none" stroke-width="0.8" fill-opacity="0.9" stroke-linejoin="round"/><polygon points="172.78,368.72 182.60,363.14 200.54,366.21 190.75,371.80" fill="#6ea2cf" stroke="#111" stroke-width="1.0" fill-opacity="0.93" stroke-linejoin="round"/><line x1="172.79" y1="440.79" x2="172.78" y2="368.72" stroke="#2b3d50" stroke-width="0.9"/><line x1="190.76" y1="443.86" x2="190.75" y2="371.80" stroke="#1f2a36" stroke-width="1.0"/><line x1="200.56" y1="438.19" x2="200.54" y2="366.21" stroke="#2b3d50" stroke-width="0.9"/><line x1="172.79" y1="440.79" x2="190.76" y2="443.86" stroke="#2b3d50" stroke-width="0.8"/><line x1="190.76" y1="443.86" x2="200.56" y2="438.19" stroke="#2b3d50" stroke-width="0.8"/><polygon points="172.78,353.96 182.59,348.40 200.54,351.47 190.74,357.04" fill="none" stroke="#111" stroke-width="1.2" fill-opacity="1.0" stroke-linejoin="round" stroke-dasharray="3 1.6"/><line x1="172.78" y1="368.72" x2="172.78" y2="353.96" stroke="#111" stroke-width="1.2" stroke-dasharray="3 1.6"/><line x1="190.75" y1="371.80" x2="190.74" y2="357.04" stroke="#111" stroke-width="1.2" stroke-dasharray="3 1.6"/><line x1="200.54" y1="366.21" x2="200.54" y2="351.47" stroke="#111" stroke-width="1.2" stroke-dasharray="3 1.6"/><line x1="182.60" y1="363.14" x2="182.59" y2="348.40" stroke="#111" stroke-width="1.2" stroke-dasharray="3 1.6"/>
<polygon points="63.05,459.02 81.14,462.11 81.14,461.24 63.05,458.15" fill="#63a1d2" stroke="#222" stroke-width="0.5" fill-opacity="1.0" stroke-linejoin="round"/><polygon points="81.14,462.11 91.13,456.38 91.13,455.51 81.14,461.24" fill="#63a1d2" stroke="#222" stroke-width="0.5" fill-opacity="1.0" stroke-linejoin="round"/><polygon points="63.05,458.15 73.06,452.42 91.13,455.51 81.14,461.24" fill="#63a1d2" stroke="#1a1a1a" stroke-width="0.9" fill-opacity="1.0" stroke-linejoin="round"/>
<polygon points="109.81,454.63 127.86,457.72 127.86,456.67 109.81,453.58" fill="#63a1d2" stroke="#222" stroke-width="0.5" fill-opacity="1.0" stroke-linejoin="round"/><polygon points="127.86,457.72 137.77,452.01 137.77,450.96 127.86,456.67" fill="#63a1d2" stroke="#222" stroke-width="0.5" fill-opacity="1.0" stroke-linejoin="round"/><polygon points="109.81,453.58 119.74,447.88 137.77,450.96 127.86,456.67" fill="#63a1d2" stroke="#1a1a1a" stroke-width="0.9" fill-opacity="1.0" stroke-linejoin="round"/>
<polygon points="156.37,450.26 174.38,453.34 174.38,452.29 156.37,449.22" fill="#64a1d0" stroke="#222" stroke-width="0.5" fill-opacity="1.0" stroke-linejoin="round"/><polygon points="174.38,453.34 184.22,447.65 184.22,446.60 174.38,452.29" fill="#64a1d0" stroke="#222" stroke-width="0.5" fill-opacity="1.0" stroke-linejoin="round"/><polygon points="156.37,449.22 166.23,443.53 184.22,446.60 174.38,452.29" fill="#64a1d0" stroke="#1a1a1a" stroke-width="0.9" fill-opacity="1.0" stroke-linejoin="round"/>
<polygon points="93.20,464.17 111.29,467.26 111.29,466.21 93.20,463.12" fill="#609ece" stroke="#222" stroke-width="0.5" fill-opacity="1.0" stroke-linejoin="round"/><polygon points="111.29,467.26 121.24,461.53 121.24,460.48 111.29,466.21" fill="#609ece" stroke="#222" stroke-width="0.5" fill-opacity="1.0" stroke-linejoin="round"/><polygon points="93.20,463.12 103.18,457.39 121.24,460.48 111.29,466.21" fill="#609ece" stroke="#1a1a1a" stroke-width="0.9" fill-opacity="1.0" stroke-linejoin="round"/>
<polygon points="139.89,459.77 157.94,462.85 157.94,461.81 139.89,458.72" fill="#64a1d0" stroke="#222" stroke-width="0.5" fill-opacity="1.0" stroke-linejoin="round"/><polygon points="157.94,462.85 167.81,457.14 167.81,456.10 157.94,461.81" fill="#64a1d0" stroke="#222" stroke-width="0.5" fill-opacity="1.0" stroke-linejoin="round"/><polygon points="139.89,458.72 149.79,453.02 167.81,456.10 157.94,461.81" fill="#64a1d0" stroke="#1a1a1a" stroke-width="0.9" fill-opacity="1.0" stroke-linejoin="round"/>
<polygon points="133.28,463.59 123.35,469.32 123.35,384.59 133.29,378.96" fill="#6fa4cf" stroke="none" stroke-width="0.8" fill-opacity="0.35" stroke-linejoin="round"/><polygon points="133.28,463.59 151.34,466.67 151.34,382.05 133.29,378.96" fill="#6fa4cf" stroke="none" stroke-width="0.8" fill-opacity="0.35" stroke-linejoin="round"/><line x1="133.28" y1="463.59" x2="133.29" y2="378.96" stroke="#4d7aa3" stroke-width="0.8"/><line x1="123.35" y1="469.32" x2="133.28" y2="463.59" stroke="#4d7aa3" stroke-width="0.6"/><line x1="151.34" y1="466.67" x2="133.28" y2="463.59" stroke="#4d7aa3" stroke-width="0.6"/><polygon points="123.35,469.32 141.43,472.41 141.43,387.69 123.35,384.59" fill="#6498c6" stroke="none" stroke-width="0.8" fill-opacity="0.9" stroke-linejoin="round"/><polygon points="141.43,472.41 151.34,466.67 151.34,382.05 141.43,387.69" fill="#5b90c0" stroke="none" stroke-width="0.8" fill-opacity="0.9" stroke-linejoin="round"/><polygon points="123.35,384.59 133.29,378.96 151.34,382.05 141.43,387.69" fill="#6ea2cf" stroke="#111" stroke-width="1.0" fill-opacity="0.93" stroke-linejoin="round"/><line x1="123.35" y1="469.32" x2="123.35" y2="384.59" stroke="#2b3d50" stroke-width="0.9"/><line x1="141.43" y1="472.41" x2="141.43" y2="387.69" stroke="#1f2a36" stroke-width="1.0"/><line x1="151.34" y1="466.67" x2="151.34" y2="382.05" stroke="#2b3d50" stroke-width="0.9"/><line x1="123.35" y1="469.32" x2="141.43" y2="472.41" stroke="#2b3d50" stroke-width="0.8"/><line x1="141.43" y1="472.41" x2="151.34" y2="466.67" stroke="#2b3d50" stroke-width="0.8"/><polygon points="123.35,381.97 133.29,376.34 151.34,379.43 141.43,385.07" fill="none" stroke="#111" stroke-width="1.2" fill-opacity="1.0" stroke-linejoin="round" stroke-dasharray="3 1.6"/><line x1="123.35" y1="384.59" x2="123.35" y2="381.97" stroke="#111" stroke-width="1.2" stroke-dasharray="3 1.6"/><line x1="141.43" y1="387.69" x2="141.43" y2="385.07" stroke="#111" stroke-width="1.2" stroke-dasharray="3 1.6"/><line x1="151.34" y1="382.05" x2="151.34" y2="379.43" stroke="#111" stroke-width="1.2" stroke-dasharray="3 1.6"/><line x1="133.29" y1="378.96" x2="133.29" y2="376.34" stroke="#111" stroke-width="1.2" stroke-dasharray="3 1.6"/>
<text x="25.0" y="475.0" font-family="Liberation Serif" font-size="9.5" fill="#333">|<tspan font-style="italic">V</tspan>↑⟩</text>
<text x="55.0" y="480.0" font-family="Liberation Serif" font-size="9.5" fill="#333">|<tspan font-style="italic">H</tspan>↑⟩</text>
<text x="84.7" y="485.6" font-family="Liberation Serif" font-size="9.5" fill="#333">|<tspan font-style="italic">V</tspan>↓⟩</text>
<text x="114.8" y="490.2" font-family="Liberation Serif" font-size="9.5" fill="#333">|<tspan font-style="italic">H</tspan>↓⟩</text>
<text x="200.2" y="457.6" font-family="Liberation Serif" font-size="9.5" fill="#333">|<tspan font-style="italic">V</tspan>↑⟩</text>
<text x="183.4" y="467.8" font-family="Liberation Serif" font-size="9.5" fill="#333">|<tspan font-style="italic">H</tspan>↑⟩</text>
<text x="167.6" y="477.2" font-family="Liberation Serif" font-size="9.5" fill="#333">|<tspan font-style="italic">V</tspan>↓⟩</text>
<text x="149.8" y="486.0" font-family="Liberation Serif" font-size="9.5" fill="#333">|<tspan font-style="italic">H</tspan>↓⟩</text>
<defs><linearGradient id="cb" x1="0" y1="0" x2="0" y2="1"><stop offset="0" stop-color="#1c345c"/><stop offset="0.25" stop-color="#3470ab"/><stop offset="0.5" stop-color="#5aaee6"/><stop offset="0.7" stop-color="#8e9ea0"/><stop offset="0.85" stop-color="#c49a62"/><stop offset="1" stop-color="#ee9328"/></linearGradient></defs>
<rect x="220.5" y="346.7" width="5.6" height="109.4" fill="url(#cb)"/>
<line x1="226.1" y1="356.2" x2="227.8" y2="356.2" stroke="#222" stroke-width="0.7"/>
<line x1="226.1" y1="401.3" x2="227.8" y2="401.3" stroke="#222" stroke-width="0.7"/>
<line x1="226.1" y1="452.3" x2="227.8" y2="452.3" stroke="#222" stroke-width="0.7"/>
<text x="227.4" y="361.4" font-family="Liberation Serif" font-size="15" textLength="19.2" lengthAdjust="spacingAndGlyphs" fill="#222">+π</text>
<text x="233.4" y="409.0" font-family="Liberation Serif" font-size="15" fill="#222">0</text>
<text x="228.6" y="457.4" font-family="Liberation Serif" font-size="15" textLength="17.0" lengthAdjust="spacingAndGlyphs" fill="#222">−π</text>
<text x="245.3" y="326.8" font-family="Liberation Sans" font-size="16.5" fill="#222">d</text>
<text x="315.4" y="326.4" font-family="Liberation Serif" font-size="12.3" fill="#222" textLength="112.8" lengthAdjust="spacingAndGlyphs"><tspan font-style="italic">F</tspan><tspan font-style="italic" font-size="9" dy="2.2">merge</tspan><tspan dy="-2.2"> = 96.7 ± 3.3%</tspan></text>
<rect x="327.9" y="334.8" width="8.3" height="136.10" fill="#e6e6e6"/>
<line x1="284.40" y1="334.8" x2="284.40" y2="470.9" stroke="#d9d9d9" stroke-width="0.9"/>
<line x1="328.03" y1="334.8" x2="328.03" y2="470.9" stroke="#d9d9d9" stroke-width="0.9"/>
<line x1="371.67" y1="334.8" x2="371.67" y2="470.9" stroke="#d9d9d9" stroke-width="0.9"/>
<line x1="415.30" y1="334.8" x2="415.30" y2="470.9" stroke="#d9d9d9" stroke-width="0.9"/>
<line x1="458.94" y1="334.8" x2="458.94" y2="470.9" stroke="#d9d9d9" stroke-width="0.9"/>
<line x1="280.0" y1="437.00" x2="463.8" y2="437.00" stroke="#d9d9d9" stroke-width="0.9"/>
<line x1="280.0" y1="403.30" x2="463.8" y2="403.30" stroke="#d9d9d9" stroke-width="0.9"/>
<line x1="280.0" y1="369.60" x2="463.8" y2="369.60" stroke="#d9d9d9" stroke-width="0.9"/>
<line x1="280.0" y1="335.90" x2="463.8" y2="335.90" stroke="#d9d9d9" stroke-width="0.9"/>
<line x1="280.0" y1="437.00" x2="463.8" y2="437.00" stroke="#8d817a" stroke-width="1.1" stroke-dasharray="3.8 1.8"/>
<line x1="333.27" y1="334.8" x2="333.27" y2="470.9" stroke="#55a0d8" stroke-width="1.1" stroke-dasharray="2.6 1.5"/>
<line x1="330.65" y1="334.8" x2="330.65" y2="470.9" stroke="#52aa57" stroke-width="1.1" stroke-dasharray="2.6 1.5"/>
<line x1="329.78" y1="334.8" x2="329.78" y2="470.9" stroke="#f2a544" stroke-width="1.1" stroke-dasharray="2.6 1.5"/>
<line x1="335.02" y1="334.8" x2="335.02" y2="470.9" stroke="#e37758" stroke-width="1.1" stroke-dasharray="2.6 1.5"/>
<path d="M284.40 392.35L285.87 390.22L287.33 388.08L288.80 385.93L290.27 383.77L291.73 381.62L293.20 379.47L294.67 377.34L296.13 375.23L297.60 373.15L299.07 371.10L300.53 369.08L302.00 367.11L303.47 365.19L304.93 363.32L306.40 361.52L307.87 359.77L309.33 358.10L310.80 356.50L312.27 354.98L313.73 353.54L315.20 352.19L316.67 350.93L318.13 349.77L319.60 348.70L321.07 347.73L322.53 346.87L324.00 346.11L325.47 345.45L326.93 344.91L328.40 344.48L329.87 344.16L331.34 343.95L332.80 343.86L334.27 343.88L335.74 344.01L337.20 344.26L338.67 344.62L340.14 345.09L341.60 345.68L343.07 346.37L344.54 347.17L346.00 348.07L347.47 349.07L348.94 350.18L350.40 351.38L351.87 352.67L353.34 354.05L354.80 355.52L356.27 357.07L357.74 358.70L359.20 360.39L360.67 362.16L362.14 363.99L363.60 365.88L365.07 367.82L366.54 369.80L368.00 371.83L369.47 373.89L370.94 375.99L372.40 378.11L373.87 380.24L375.34 382.39L376.80 384.55L378.27 386.70L379.74 388.85L381.20 390.99L382.67 393.11L384.14 395.21L385.60 397.28L387.07 399.31L388.54 401.30L390.00 403.25L391.47 405.14L392.94 406.98L394.40 408.76L395.87 410.47L397.34 412.10L398.80 413.66L400.27 415.14L401.74 416.54L403.20 417.84L404.67 419.06L406.14 420.17L407.60 421.19L409.07 422.11L410.54 422.92L412.00 423.63L413.47 424.23L414.94 424.71L416.41 425.09L417.87 425.35L419.34 425.50L420.81 425.54L422.27 425.46L423.74 425.27L425.21 424.97L426.67 424.55L428.14 424.02L429.61 423.39L431.07 422.64L432.54 421.79L434.01 420.84L435.47 419.78L436.94 418.63L438.41 417.38L439.87 416.04L441.34 414.62L442.81 413.11L444.27 411.52L445.74 409.86L447.21 408.13L448.67 406.33L450.14 404.47L451.61 402.56L453.07 400.59L454.54 398.58L456.01 396.54L457.47 394.46L458.94 392.35" fill="none" stroke="#55a0d8" stroke-width="2.4" stroke-dasharray="5.2 2.6" opacity="1.0"/>
<path d="M284.40 390.01L285.87 387.49L287.33 384.96L288.80 382.44L290.27 379.92L291.73 377.42L293.20 374.94L294.67 372.50L296.13 370.08L297.60 367.71L299.07 365.39L300.53 363.13L302.00 360.93L303.47 358.80L304.93 356.74L306.40 354.76L307.87 352.87L309.33 351.07L310.80 349.36L312.27 347.76L313.73 346.26L315.20 344.87L316.67 343.59L318.13 342.43L319.60 341.39L321.07 340.47L322.53 339.68L324.00 339.02L325.47 338.48L326.93 338.08L328.40 337.81L329.87 337.67L331.34 337.67L332.80 337.80L334.27 338.06L335.74 338.45L337.20 338.98L338.67 339.63L340.14 340.41L341.60 341.32L343.07 342.35L344.54 343.50L346.00 344.77L347.47 346.16L348.94 347.65L350.40 349.25L351.87 350.94L353.34 352.74L354.80 354.63L356.27 356.60L357.74 358.65L359.20 360.78L360.67 362.97L362.14 365.23L363.60 367.55L365.07 369.92L366.54 372.33L368.00 374.77L369.47 377.25L370.94 379.75L372.40 382.26L373.87 384.79L375.34 387.31L376.80 389.83L378.27 392.34L379.74 394.83L381.20 397.30L382.67 399.73L384.14 402.12L385.60 404.47L387.07 406.76L388.54 408.99L390.00 411.16L391.47 413.25L392.94 415.27L394.40 417.21L395.87 419.06L397.34 420.81L398.80 422.47L400.27 424.02L401.74 425.46L403.20 426.80L404.67 428.02L406.14 429.12L407.60 430.10L409.07 430.95L410.54 431.68L412.00 432.28L413.47 432.75L414.94 433.08L416.41 433.29L417.87 433.36L419.34 433.30L420.81 433.10L422.27 432.78L423.74 432.32L425.21 431.73L426.67 431.01L428.14 430.16L429.61 429.19L431.07 428.10L432.54 426.89L434.01 425.56L435.47 424.12L436.94 422.58L438.41 420.93L439.87 419.18L441.34 417.34L442.81 415.41L444.27 413.40L445.74 411.31L447.21 409.14L448.67 406.92L450.14 404.63L451.61 402.29L453.07 399.90L454.54 397.47L456.01 395.01L457.47 392.52L458.94 390.01" fill="none" stroke="#52aa57" stroke-width="2.4" stroke-dasharray="5.2 2.6" opacity="1.0"/>
<path d="M284.40 389.29L285.87 386.68L287.33 384.07L288.80 381.46L290.27 378.87L291.73 376.30L293.20 373.75L294.67 371.24L296.13 368.77L297.60 366.35L299.07 363.99L300.53 361.69L302.00 359.45L303.47 357.29L304.93 355.21L306.40 353.22L307.87 351.32L309.33 349.52L310.80 347.81L312.27 346.22L313.73 344.74L315.20 343.37L316.67 342.12L318.13 340.99L319.60 339.99L321.07 339.12L322.53 338.38L324.00 337.78L325.47 337.30L326.93 336.97L328.40 336.77L329.87 336.71L331.34 336.79L332.80 337.00L334.27 337.35L335.74 337.84L337.20 338.46L338.67 339.22L340.14 340.11L341.60 341.12L343.07 342.26L344.54 343.53L346.00 344.91L347.47 346.40L348.94 348.01L350.40 349.73L351.87 351.54L353.34 353.45L354.80 355.46L356.27 357.55L357.74 359.72L359.20 361.96L360.67 364.27L362.14 366.64L363.60 369.07L365.07 371.54L366.54 374.05L368.00 376.60L369.47 379.18L370.94 381.77L372.40 384.38L373.87 386.99L375.34 389.60L376.80 392.20L378.27 394.78L379.74 397.34L381.20 399.87L382.67 402.36L384.14 404.80L385.60 407.20L387.07 409.53L388.54 411.80L390.00 414.00L391.47 416.12L392.94 418.16L394.40 420.10L395.87 421.96L397.34 423.71L398.80 425.36L400.27 426.90L401.74 428.32L403.20 429.63L404.67 430.82L406.14 431.88L407.60 432.82L409.07 433.63L410.54 434.30L412.00 434.84L413.47 435.24L414.94 435.51L416.41 435.64L417.87 435.63L419.34 435.48L420.81 435.20L422.27 434.78L423.74 434.23L425.21 433.54L426.67 432.71L428.14 431.76L429.61 430.68L431.07 429.48L432.54 428.16L434.01 426.72L435.47 425.17L436.94 423.50L438.41 421.74L439.87 419.87L441.34 417.92L442.81 415.87L444.27 413.74L445.74 411.53L447.21 409.25L448.67 406.91L450.14 404.51L451.61 402.06L453.07 399.57L454.54 397.04L456.01 394.47L457.47 391.89L458.94 389.29" fill="none" stroke="#f2a544" stroke-width="2.4" stroke-dasharray="5.2 2.6" opacity="1.0"/>
<path d="M284.40 397.17L285.87 394.82L287.33 392.43L288.80 390.03L290.27 387.61L291.73 385.20L293.20 382.78L294.67 380.37L296.13 377.97L297.60 375.60L299.07 373.26L300.53 370.95L302.00 368.68L303.47 366.46L304.93 364.29L306.40 362.19L307.87 360.14L309.33 358.18L310.80 356.28L312.27 354.47L313.73 352.75L315.20 351.12L316.67 349.58L318.13 348.15L319.60 346.82L321.07 345.60L322.53 344.49L324.00 343.50L325.47 342.62L326.93 341.87L328.40 341.24L329.87 340.73L331.34 340.35L332.80 340.09L334.27 339.96L335.74 339.96L337.20 340.09L338.67 340.34L340.14 340.72L341.60 341.23L343.07 341.86L344.54 342.61L346.00 343.48L347.47 344.47L348.94 345.58L350.40 346.80L351.87 348.12L353.34 349.55L354.80 351.09L356.27 352.72L357.74 354.44L359.20 356.25L360.67 358.14L362.14 360.10L363.60 362.14L365.07 364.25L366.54 366.42L368.00 368.63L369.47 370.90L370.94 373.21L372.40 375.55L373.87 377.93L375.34 380.32L376.80 382.73L378.27 385.15L379.74 387.57L381.20 389.98L382.67 392.38L384.14 394.77L385.60 397.13L387.07 399.45L388.54 401.74L390.00 403.99L391.47 406.18L392.94 408.32L394.40 410.40L395.87 412.40L397.34 414.33L398.80 416.18L400.27 417.95L401.74 419.63L403.20 421.21L404.67 422.70L406.14 424.08L407.60 425.35L409.07 426.52L410.54 427.57L412.00 428.50L413.47 429.32L414.94 430.01L416.41 430.58L417.87 431.03L419.34 431.35L420.81 431.54L422.27 431.61L423.74 431.55L425.21 431.36L426.67 431.04L428.14 430.59L429.61 430.03L431.07 429.33L432.54 428.52L434.01 427.59L435.47 426.54L436.94 425.38L438.41 424.11L439.87 422.73L441.34 421.24L442.81 419.66L444.27 417.99L445.74 416.22L447.21 414.37L448.67 412.44L450.14 410.44L451.61 408.36L453.07 406.23L454.54 404.03L456.01 401.79L457.47 399.50L458.94 397.17" fill="none" stroke="#e37758" stroke-width="2.4" stroke-dasharray="5.2 2.6" opacity="1.0"/>
<line x1="293.13" y1="372.30" x2="293.13" y2="391.17" stroke="#1a1a1a" stroke-width="1.3"/>
<line x1="310.58" y1="340.35" x2="310.58" y2="356.52" stroke="#1a1a1a" stroke-width="1.3"/>
<line x1="328.03" y1="335.90" x2="328.03" y2="352.08" stroke="#1a1a1a" stroke-width="1.3"/>
<line x1="345.49" y1="340.62" x2="345.49" y2="356.79" stroke="#1a1a1a" stroke-width="1.3"/>
<line x1="362.94" y1="363.26" x2="362.94" y2="383.48" stroke="#1a1a1a" stroke-width="1.3"/>
<line x1="380.40" y1="381.06" x2="380.40" y2="403.97" stroke="#1a1a1a" stroke-width="1.3"/>
<line x1="397.85" y1="384.70" x2="397.85" y2="406.27" stroke="#1a1a1a" stroke-width="1.3"/>
<line x1="415.30" y1="406.94" x2="415.30" y2="428.51" stroke="#1a1a1a" stroke-width="1.3"/>
<line x1="432.76" y1="421.77" x2="432.76" y2="443.34" stroke="#1a1a1a" stroke-width="1.3"/>
<line x1="450.21" y1="400.47" x2="450.21" y2="420.69" stroke="#1a1a1a" stroke-width="1.3"/>
<circle cx="293.13" cy="381.73" r="2.97" fill="#3b9ad9" stroke="#1a1a1a" stroke-width="0.85"/>
<circle cx="310.58" cy="348.44" r="2.97" fill="#3b9ad9" stroke="#1a1a1a" stroke-width="0.85"/>
<circle cx="328.03" cy="343.99" r="2.97" fill="#3b9ad9" stroke="#1a1a1a" stroke-width="0.85"/>
<circle cx="345.49" cy="348.71" r="2.97" fill="#3b9ad9" stroke="#1a1a1a" stroke-width="0.85"/>
<circle cx="362.94" cy="373.37" r="2.97" fill="#3b9ad9" stroke="#1a1a1a" stroke-width="0.85"/>
<circle cx="380.40" cy="392.52" r="2.97" fill="#3b9ad9" stroke="#1a1a1a" stroke-width="0.85"/>
<circle cx="397.85" cy="395.48" r="2.97" fill="#3b9ad9" stroke="#1a1a1a" stroke-width="0.85"/>
<circle cx="415.30" cy="417.72" r="2.97" fill="#3b9ad9" stroke="#1a1a1a" stroke-width="0.85"/>
<circle cx="432.76" cy="432.55" r="2.97" fill="#3b9ad9" stroke="#1a1a1a" stroke-width="0.85"/>
<circle cx="450.21" cy="410.58" r="2.97" fill="#3b9ad9" stroke="#1a1a1a" stroke-width="0.85"/>
<line x1="293.13" y1="384.70" x2="293.13" y2="403.57" stroke="#1a1a1a" stroke-width="1.3"/>
<line x1="310.58" y1="340.62" x2="310.58" y2="356.79" stroke="#1a1a1a" stroke-width="1.3"/>
<line x1="328.03" y1="336.30" x2="328.03" y2="352.48" stroke="#1a1a1a" stroke-width="1.3"/>
<line x1="345.49" y1="354.77" x2="345.49" y2="370.95" stroke="#1a1a1a" stroke-width="1.3"/>
<line x1="362.94" y1="370.81" x2="362.94" y2="391.03" stroke="#1a1a1a" stroke-width="1.3"/>
<line x1="380.40" y1="383.62" x2="380.40" y2="406.54" stroke="#1a1a1a" stroke-width="1.3"/>
<line x1="397.85" y1="428.64" x2="397.85" y2="450.21" stroke="#1a1a1a" stroke-width="1.3"/>
<line x1="415.30" y1="427.56" x2="415.30" y2="449.13" stroke="#1a1a1a" stroke-width="1.3"/>
<line x1="432.76" y1="413.41" x2="432.76" y2="434.98" stroke="#1a1a1a" stroke-width="1.3"/>
<line x1="450.21" y1="420.82" x2="450.21" y2="441.04" stroke="#1a1a1a" stroke-width="1.3"/>
<rect x="290.49" y="391.49" width="5.28" height="5.28" fill="#3aa348" stroke="#1a1a1a" stroke-width="0.85"/>
<rect x="307.94" y="346.07" width="5.28" height="5.28" fill="#3aa348" stroke="#1a1a1a" stroke-width="0.85"/>
<rect x="325.39" y="341.75" width="5.28" height="5.28" fill="#3aa348" stroke="#1a1a1a" stroke-width="0.85"/>
<rect x="342.85" y="360.22" width="5.28" height="5.28" fill="#3aa348" stroke="#1a1a1a" stroke-width="0.85"/>
<rect x="360.30" y="378.28" width="5.28" height="5.28" fill="#3aa348" stroke="#1a1a1a" stroke-width="0.85"/>
<rect x="377.76" y="392.44" width="5.28" height="5.28" fill="#3aa348" stroke="#1a1a1a" stroke-width="0.85"/>
<rect x="395.21" y="436.79" width="5.28" height="5.28" fill="#3aa348" stroke="#1a1a1a" stroke-width="0.85"/>
<rect x="412.66" y="435.71" width="5.28" height="5.28" fill="#3aa348" stroke="#1a1a1a" stroke-width="0.85"/>
<rect x="430.12" y="421.55" width="5.28" height="5.28" fill="#3aa348" stroke="#1a1a1a" stroke-width="0.85"/>
<rect x="447.57" y="428.29" width="5.28" height="5.28" fill="#3aa348" stroke="#1a1a1a" stroke-width="0.85"/>
<line x1="293.13" y1="381.33" x2="293.13" y2="400.20" stroke="#1a1a1a" stroke-width="1.3"/>
<line x1="310.58" y1="343.18" x2="310.58" y2="359.36" stroke="#1a1a1a" stroke-width="1.3"/>
<line x1="328.03" y1="331.72" x2="328.03" y2="347.90" stroke="#1a1a1a" stroke-width="1.3"/>
<line x1="345.49" y1="346.41" x2="345.49" y2="362.59" stroke="#1a1a1a" stroke-width="1.3"/>
<line x1="362.94" y1="358.82" x2="362.94" y2="379.04" stroke="#1a1a1a" stroke-width="1.3"/>
<line x1="380.40" y1="383.75" x2="380.40" y2="406.67" stroke="#1a1a1a" stroke-width="1.3"/>
<line x1="397.85" y1="441.18" x2="397.85" y2="462.75" stroke="#1a1a1a" stroke-width="1.3"/>
<line x1="415.30" y1="426.89" x2="415.30" y2="448.46" stroke="#1a1a1a" stroke-width="1.3"/>
<line x1="432.76" y1="435.11" x2="432.76" y2="456.68" stroke="#1a1a1a" stroke-width="1.3"/>
<line x1="450.21" y1="402.36" x2="450.21" y2="422.58" stroke="#1a1a1a" stroke-width="1.3"/>
<path d="M293.13 387.46L296.10 392.74L290.16 392.74Z" fill="#f4a32a" stroke="#1a1a1a" stroke-width="0.85"/>
<path d="M310.58 347.97L313.55 353.25L307.61 353.25Z" fill="#f4a32a" stroke="#1a1a1a" stroke-width="0.85"/>
<path d="M328.03 336.51L331.00 341.79L325.06 341.79Z" fill="#f4a32a" stroke="#1a1a1a" stroke-width="0.85"/>
<path d="M345.49 351.20L348.46 356.48L342.52 356.48Z" fill="#f4a32a" stroke="#1a1a1a" stroke-width="0.85"/>
<path d="M362.94 365.63L365.91 370.91L359.97 370.91Z" fill="#f4a32a" stroke="#1a1a1a" stroke-width="0.85"/>
<path d="M380.40 391.91L383.37 397.19L377.43 397.19Z" fill="#f4a32a" stroke="#1a1a1a" stroke-width="0.85"/>
<path d="M397.85 448.66L400.82 453.94L394.88 453.94Z" fill="#f4a32a" stroke="#1a1a1a" stroke-width="0.85"/>
<path d="M415.30 434.37L418.27 439.65L412.33 439.65Z" fill="#f4a32a" stroke="#1a1a1a" stroke-width="0.85"/>
<path d="M432.76 442.60L435.73 447.88L429.79 447.88Z" fill="#f4a32a" stroke="#1a1a1a" stroke-width="0.85"/>
<path d="M450.21 409.17L453.18 414.45L447.24 414.45Z" fill="#f4a32a" stroke="#1a1a1a" stroke-width="0.85"/>
<line x1="293.13" y1="373.24" x2="293.13" y2="392.11" stroke="#1a1a1a" stroke-width="1.3"/>
<line x1="310.58" y1="356.39" x2="310.58" y2="372.57" stroke="#1a1a1a" stroke-width="1.3"/>
<line x1="328.03" y1="341.56" x2="328.03" y2="357.74" stroke="#1a1a1a" stroke-width="1.3"/>
<line x1="345.49" y1="333.74" x2="345.49" y2="349.92" stroke="#1a1a1a" stroke-width="1.3"/>
<line x1="362.94" y1="385.37" x2="362.94" y2="405.59" stroke="#1a1a1a" stroke-width="1.3"/>
<line x1="380.40" y1="396.16" x2="380.40" y2="419.07" stroke="#1a1a1a" stroke-width="1.3"/>
<line x1="397.85" y1="392.38" x2="397.85" y2="413.95" stroke="#1a1a1a" stroke-width="1.3"/>
<line x1="415.30" y1="426.62" x2="415.30" y2="448.19" stroke="#1a1a1a" stroke-width="1.3"/>
<line x1="432.76" y1="428.64" x2="432.76" y2="450.21" stroke="#1a1a1a" stroke-width="1.3"/>
<line x1="450.21" y1="432.55" x2="450.21" y2="452.77" stroke="#1a1a1a" stroke-width="1.3"/>
<path d="M293.13 379.05L296.76 382.68L293.13 386.31L289.50 382.68Z" fill="#e0643c" stroke="#1a1a1a" stroke-width="0.85"/>
<path d="M310.58 360.85L314.21 364.48L310.58 368.11L306.95 364.48Z" fill="#e0643c" stroke="#1a1a1a" stroke-width="0.85"/>
<path d="M328.03 346.02L331.66 349.65L328.03 353.28L324.40 349.65Z" fill="#e0643c" stroke="#1a1a1a" stroke-width="0.85"/>
<path d="M345.49 338.20L349.12 341.83L345.49 345.46L341.86 341.83Z" fill="#e0643c" stroke="#1a1a1a" stroke-width="0.85"/>
<path d="M362.94 391.85L366.57 395.48L362.94 399.11L359.31 395.48Z" fill="#e0643c" stroke="#1a1a1a" stroke-width="0.85"/>
<path d="M380.40 403.98L384.03 407.61L380.40 411.24L376.77 407.61Z" fill="#e0643c" stroke="#1a1a1a" stroke-width="0.85"/>
<path d="M397.85 399.54L401.48 403.17L397.85 406.80L394.22 403.17Z" fill="#e0643c" stroke="#1a1a1a" stroke-width="0.85"/>
<path d="M415.30 433.77L418.93 437.40L415.30 441.03L411.67 437.40Z" fill="#e0643c" stroke="#1a1a1a" stroke-width="0.85"/>
<path d="M432.76 435.80L436.39 439.43L432.76 443.06L429.13 439.43Z" fill="#e0643c" stroke="#1a1a1a" stroke-width="0.85"/>
<path d="M450.21 439.03L453.84 442.66L450.21 446.29L446.58 442.66Z" fill="#e0643c" stroke="#1a1a1a" stroke-width="0.85"/>
<rect x="425.8" y="338.2" width="34.6" height="53.9" rx="2" fill="#fff" fill-opacity="0.85" stroke="#dddddd" stroke-width="0.8"/>
<line x1="428.9" y1="344.50" x2="442.3" y2="344.50" stroke="#55a0d8" stroke-width="2"/>
<line x1="435.4" y1="340.30" x2="435.4" y2="348.70" stroke="#222" stroke-width="1.1"/>
<circle cx="435.40" cy="344.50" r="2.97" fill="#3b9ad9" stroke="#1a1a1a" stroke-width="0.85"/>
<text x="445.2" y="348.10" font-family="Liberation Serif" font-size="10.5" fill="#222">#1</text>
<line x1="428.9" y1="357.45" x2="442.3" y2="357.45" stroke="#52aa57" stroke-width="2"/>
<line x1="435.4" y1="353.25" x2="435.4" y2="361.65" stroke="#222" stroke-width="1.1"/>
<rect x="432.76" y="354.81" width="5.28" height="5.28" fill="#3aa348" stroke="#1a1a1a" stroke-width="0.85"/>
<text x="445.2" y="361.05" font-family="Liberation Serif" font-size="10.5" fill="#222">#2</text>
<line x1="428.9" y1="370.40" x2="442.3" y2="370.40" stroke="#f2a544" stroke-width="2"/>
<line x1="435.4" y1="366.20" x2="435.4" y2="374.60" stroke="#222" stroke-width="1.1"/>
<path d="M435.40 367.10L438.37 372.38L432.43 372.38Z" fill="#f4a32a" stroke="#1a1a1a" stroke-width="0.85"/>
<text x="445.2" y="374.00" font-family="Liberation Serif" font-size="10.5" fill="#222">#3</text>
<line x1="428.9" y1="383.35" x2="442.3" y2="383.35" stroke="#e37758" stroke-width="2"/>
<line x1="435.4" y1="379.15" x2="435.4" y2="387.55" stroke="#222" stroke-width="1.1"/>
<path d="M435.40 379.72L439.03 383.35L435.40 386.98L431.77 383.35Z" fill="#e0643c" stroke="#1a1a1a" stroke-width="0.85"/>
<text x="445.2" y="386.95" font-family="Liberation Serif" font-size="10.5" fill="#222">#4</text>
<rect x="280.0" y="334.8" width="183.80" height="136.10" fill="none" stroke="#111" stroke-width="1.3"/>
<line x1="284.40" y1="470.9" x2="284.40" y2="472.90" stroke="#111" stroke-width="0.8"/>
<text x="284.40" y="481.60" font-family="Liberation Sans" font-size="9.4" text-anchor="middle" fill="#1a1a1a" stroke="#1a1a1a" stroke-width="0.3">0.0</text>
<line x1="328.03" y1="470.9" x2="328.03" y2="472.90" stroke="#111" stroke-width="0.8"/>
<text x="328.03" y="481.60" font-family="Liberation Sans" font-size="9.4" text-anchor="middle" fill="#1a1a1a" stroke="#1a1a1a" stroke-width="0.3">0.5</text>
<line x1="371.67" y1="470.9" x2="371.67" y2="472.90" stroke="#111" stroke-width="0.8"/>
<text x="371.67" y="481.60" font-family="Liberation Sans" font-size="9.4" text-anchor="middle" fill="#1a1a1a" stroke="#1a1a1a" stroke-width="0.3">1.0</text>
<line x1="415.30" y1="470.9" x2="415.30" y2="472.90" stroke="#111" stroke-width="0.8"/>
<text x="415.30" y="481.60" font-family="Liberation Sans" font-size="9.4" text-anchor="middle" fill="#1a1a1a" stroke="#1a1a1a" stroke-width="0.3">1.5</text>
<line x1="458.94" y1="470.9" x2="458.94" y2="472.90" stroke="#111" stroke-width="0.8"/>
<text x="458.94" y="481.60" font-family="Liberation Sans" font-size="9.4" text-anchor="middle" fill="#1a1a1a" stroke="#1a1a1a" stroke-width="0.3">2.0</text>
<line x1="278.00" y1="470.70" x2="280.0" y2="470.70" stroke="#111" stroke-width="0.8"/>
<text x="277.60" y="474.10" font-family="Liberation Sans" font-size="9.4" text-anchor="end" fill="#1a1a1a" stroke="#1a1a1a" stroke-width="0.3">0.00</text>
<line x1="278.00" y1="437.00" x2="280.0" y2="437.00" stroke="#111" stroke-width="0.8"/>
<text x="277.60" y="440.40" font-family="Liberation Sans" font-size="9.4" text-anchor="end" fill="#1a1a1a" stroke="#1a1a1a" stroke-width="0.3">0.25</text>
<line x1="278.00" y1="403.30" x2="280.0" y2="403.30" stroke="#111" stroke-width="0.8"/>
<text x="277.60" y="406.70" font-family="Liberation Sans" font-size="9.4" text-anchor="end" fill="#1a1a1a" stroke="#1a1a1a" stroke-width="0.3">0.50</text>
<line x1="278.00" y1="369.60" x2="280.0" y2="369.60" stroke="#111" stroke-width="0.8"/>
<text x="277.60" y="373.00" font-family="Liberation Sans" font-size="9.4" text-anchor="end" fill="#1a1a1a" stroke="#1a1a1a" stroke-width="0.3">0.75</text>
<line x1="278.00" y1="335.90" x2="280.0" y2="335.90" stroke="#111" stroke-width="0.8"/>
<text x="277.60" y="339.30" font-family="Liberation Sans" font-size="9.4" text-anchor="end" fill="#1a1a1a" stroke="#1a1a1a" stroke-width="0.3">1.00</text>
<text x="343.4" y="491.7" font-family="Liberation Serif" font-size="13.5" font-style="italic" fill="#222">φ</text>
<text x="352.0" y="493.8" font-family="Liberation Serif" font-size="9.6" textLength="14.6" lengthAdjust="spacingAndGlyphs" fill="#222">866</text>
<text x="366.8" y="493.8" font-family="Liberation Serif" font-size="9.6" font-style="italic" textLength="15.4" lengthAdjust="spacingAndGlyphs" fill="#222">nm</text>
<line x1="394.0" y1="482.7" x2="389.5" y2="495.8" stroke="#222" stroke-width="0.95"/>
<text x="399.6" y="491.7" font-family="Liberation Serif" font-size="13.5" textLength="7.5" lengthAdjust="spacingAndGlyphs" fill="#222">π</text>
<text transform="translate(258.0 419.2) rotate(-90)" font-family="Liberation Serif" font-size="13.5" fill="#222" textLength="33" lengthAdjust="spacingAndGlyphs"><tspan font-style="italic">P</tspan>(|1⟩)</text>
<text x="469.0" y="327.3" font-family="Liberation Sans" font-size="16.3" fill="#222">e</text>
<line x1="505.2" y1="317.6" x2="513.2" y2="317.6" stroke="#222" stroke-width="0.8"/>
<text x="504.5" y="327.3" font-family="Liberation Serif" font-size="12.3" fill="#222" textLength="173.1" lengthAdjust="spacingAndGlyphs"><tspan font-style="italic">F</tspan><tspan font-style="italic" font-size="9" dy="2.2">mem.</tspan><tspan dy="-2.2"> = 78.7 ± 1.4%, </tspan><tspan font-style="italic">ε</tspan> = 26.0%</text>
<line x1="503.50" y1="334.6" x2="503.50" y2="469.0" stroke="#d9d9d9" stroke-width="0.9"/>
<line x1="547.40" y1="334.6" x2="547.40" y2="469.0" stroke="#d9d9d9" stroke-width="0.9"/>
<line x1="591.30" y1="334.6" x2="591.30" y2="469.0" stroke="#d9d9d9" stroke-width="0.9"/>
<line x1="635.20" y1="334.6" x2="635.20" y2="469.0" stroke="#d9d9d9" stroke-width="0.9"/>
<line x1="679.10" y1="334.6" x2="679.10" y2="469.0" stroke="#d9d9d9" stroke-width="0.9"/>
<line x1="498.7" y1="442.20" x2="681.6" y2="442.20" stroke="#d9d9d9" stroke-width="0.9"/>
<line x1="498.7" y1="415.60" x2="681.6" y2="415.60" stroke="#d9d9d9" stroke-width="0.9"/>
<line x1="498.7" y1="389.00" x2="681.6" y2="389.00" stroke="#d9d9d9" stroke-width="0.9"/>
<line x1="498.7" y1="362.40" x2="681.6" y2="362.40" stroke="#d9d9d9" stroke-width="0.9"/>
<line x1="498.7" y1="335.80" x2="681.6" y2="335.80" stroke="#d9d9d9" stroke-width="0.9"/>
<path d="M503.50 466.14L504.98 466.05L506.45 465.78L507.93 465.34L509.40 464.72L510.88 463.93L512.35 462.96L513.83 461.83L515.31 460.53L516.78 459.07L518.26 457.45L519.73 455.67L521.21 453.75L522.68 451.68L524.16 449.48L525.63 447.14L527.11 444.68L528.59 442.10L530.06 439.41L531.54 436.62L533.01 433.73L534.49 430.76L535.96 427.70L537.44 424.57L538.92 421.39L540.39 418.14L541.87 414.86L543.34 411.54L544.82 408.19L546.29 404.83L547.77 401.46L549.24 398.09L550.72 394.73L552.20 391.40L553.67 388.09L555.15 384.83L556.62 381.61L558.10 378.45L559.57 375.36L561.05 372.35L562.53 369.41L564.00 366.57L565.48 363.83L566.95 361.19L568.43 358.67L569.90 356.27L571.38 354.00L572.85 351.87L574.33 349.87L575.81 348.02L577.28 346.32L578.76 344.78L580.23 343.40L581.71 342.18L583.18 341.13L584.66 340.25L586.14 339.55L587.61 339.02L589.09 338.66L590.56 338.48L592.04 338.48L593.51 338.66L594.99 339.02L596.46 339.55L597.94 340.25L599.42 341.13L600.89 342.18L602.37 343.40L603.84 344.78L605.32 346.32L606.79 348.02L608.27 349.87L609.75 351.87L611.22 354.00L612.70 356.27L614.17 358.67L615.65 361.19L617.12 363.83L618.60 366.57L620.07 369.41L621.55 372.35L623.03 375.36L624.50 378.45L625.98 381.61L627.45 384.83L628.93 388.09L630.40 391.40L631.88 394.73L633.36 398.09L634.83 401.46L636.31 404.83L637.78 408.19L639.26 411.54L640.73 414.86L642.21 418.14L643.68 421.39L645.16 424.57L646.64 427.70L648.11 430.76L649.59 433.73L651.06 436.62L652.54 439.41L654.01 442.10L655.49 444.68L656.97 447.14L658.44 449.48L659.92 451.68L661.39 453.75L662.87 455.67L664.34 457.45L665.82 459.07L667.29 460.53L668.77 461.83L670.25 462.96L671.72 463.93L673.20 464.72L674.67 465.34L676.15 465.78L677.62 466.05L679.10 466.14" fill="none" stroke="#f2a544" stroke-width="2.0" stroke-dasharray="5 2.5" opacity="1.0"/>
<path d="M503.50 376.37L504.98 376.40L506.45 376.51L507.93 376.69L509.40 376.94L510.88 377.26L512.35 377.66L513.83 378.12L515.31 378.64L516.78 379.24L518.26 379.90L519.73 380.62L521.21 381.40L522.68 382.24L524.16 383.13L525.63 384.08L527.11 385.08L528.59 386.13L530.06 387.22L531.54 388.36L533.01 389.53L534.49 390.74L535.96 391.98L537.44 393.25L538.92 394.55L540.39 395.86L541.87 397.20L543.34 398.55L544.82 399.91L546.29 401.27L547.77 402.64L549.24 404.01L550.72 405.37L552.20 406.73L553.67 408.07L555.15 409.40L556.62 410.70L558.10 411.99L559.57 413.24L561.05 414.47L562.53 415.66L564.00 416.82L565.48 417.93L566.95 419.00L568.43 420.02L569.90 421.00L571.38 421.92L572.85 422.79L574.33 423.60L575.81 424.35L577.28 425.04L578.76 425.67L580.23 426.23L581.71 426.72L583.18 427.15L584.66 427.51L586.14 427.79L587.61 428.01L589.09 428.15L590.56 428.23L592.04 428.23L593.51 428.15L594.99 428.01L596.46 427.79L597.94 427.51L599.42 427.15L600.89 426.72L602.37 426.23L603.84 425.67L605.32 425.04L606.79 424.35L608.27 423.60L609.75 422.79L611.22 421.92L612.70 421.00L614.17 420.02L615.65 419.00L617.12 417.93L618.60 416.82L620.07 415.66L621.55 414.47L623.03 413.24L624.50 411.99L625.98 410.70L627.45 409.40L628.93 408.07L630.40 406.73L631.88 405.37L633.36 404.01L634.83 402.64L636.31 401.27L637.78 399.91L639.26 398.55L640.73 397.20L642.21 395.86L643.68 394.55L645.16 393.25L646.64 391.98L648.11 390.74L649.59 389.53L651.06 388.36L652.54 387.22L654.01 386.13L655.49 385.08L656.97 384.08L658.44 383.13L659.92 382.24L661.39 381.40L662.87 380.62L664.34 379.90L665.82 379.24L667.29 378.64L668.77 378.12L670.25 377.66L671.72 377.26L673.20 376.94L674.67 376.69L676.15 376.51L677.62 376.40L679.10 376.37" fill="none" stroke="#52aa57" stroke-width="2.0" stroke-dasharray="5 2.5" opacity="1.0"/>
<path d="M503.50 402.30L504.98 400.90L506.45 399.50L507.93 398.10L509.40 396.72L510.88 395.36L512.35 394.01L513.83 392.69L515.31 391.40L516.78 390.13L518.26 388.90L519.73 387.70L521.21 386.55L522.68 385.44L524.16 384.38L525.63 383.37L527.11 382.41L528.59 381.50L530.06 380.66L531.54 379.87L533.01 379.15L534.49 378.49L535.96 377.90L537.44 377.37L538.92 376.92L540.39 376.53L541.87 376.22L543.34 375.98L544.82 375.81L546.29 375.72L547.77 375.70L549.24 375.76L550.72 375.89L552.20 376.09L553.67 376.37L555.15 376.72L556.62 377.14L558.10 377.63L559.57 378.18L561.05 378.81L562.53 379.50L564.00 380.26L565.48 381.07L566.95 381.95L568.43 382.88L569.90 383.87L571.38 384.90L572.85 385.99L574.33 387.12L575.81 388.30L577.28 389.51L578.76 390.76L580.23 392.04L581.71 393.35L583.18 394.68L584.66 396.04L586.14 397.41L587.61 398.80L589.09 400.20L590.56 401.60L592.04 403.00L593.51 404.40L594.99 405.80L596.46 407.19L597.94 408.56L599.42 409.92L600.89 411.25L602.37 412.56L603.84 413.84L605.32 415.09L606.79 416.30L608.27 417.48L609.75 418.61L611.22 419.70L612.70 420.73L614.17 421.72L615.65 422.65L617.12 423.53L618.60 424.34L620.07 425.10L621.55 425.79L623.03 426.42L624.50 426.97L625.98 427.46L627.45 427.88L628.93 428.23L630.40 428.51L631.88 428.71L633.36 428.84L634.83 428.90L636.31 428.88L637.78 428.79L639.26 428.62L640.73 428.38L642.21 428.07L643.68 427.68L645.16 427.23L646.64 426.70L648.11 426.11L649.59 425.45L651.06 424.73L652.54 423.94L654.01 423.10L655.49 422.19L656.97 421.23L658.44 420.22L659.92 419.16L661.39 418.05L662.87 416.90L664.34 415.70L665.82 414.47L667.29 413.20L668.77 411.91L670.25 410.59L671.72 409.24L673.20 407.88L674.67 406.50L676.15 405.10L677.62 403.70L679.10 402.30" fill="none" stroke="#55a0d8" stroke-width="2.0" stroke-dasharray="5 2.5" opacity="1.0"/>
<path d="M503.50 433.82L679.10 433.82" fill="none" stroke="#e8866a" stroke-width="1.8" stroke-dasharray="5 2.6" opacity="1.0"/>
<line x1="507.89" y1="419.86" x2="507.89" y2="431.83" stroke="#444" stroke-width="1.0"/>
<path d="M507.89 423.47L510.27 425.84L507.89 428.22L505.51 425.84Z" fill="#dc6d50" stroke="#9a9a9a" stroke-width="0.9"/>
<line x1="516.67" y1="430.23" x2="516.67" y2="442.20" stroke="#444" stroke-width="1.0"/>
<path d="M516.67 433.84L519.05 436.22L516.67 438.59L514.29 436.22Z" fill="#dc6d50" stroke="#9a9a9a" stroke-width="0.9"/>
<line x1="525.45" y1="419.99" x2="525.45" y2="431.96" stroke="#444" stroke-width="1.0"/>
<path d="M525.45 423.60L527.83 425.97L525.45 428.35L523.07 425.97Z" fill="#dc6d50" stroke="#9a9a9a" stroke-width="0.9"/>
<line x1="534.23" y1="432.36" x2="534.23" y2="444.33" stroke="#444" stroke-width="1.0"/>
<path d="M534.23 435.97L536.61 438.34L534.23 440.72L531.85 438.34Z" fill="#dc6d50" stroke="#9a9a9a" stroke-width="0.9"/>
<line x1="543.01" y1="422.65" x2="543.01" y2="434.62" stroke="#444" stroke-width="1.0"/>
<path d="M543.01 426.26L545.39 428.63L543.01 431.01L540.63 428.63Z" fill="#dc6d50" stroke="#9a9a9a" stroke-width="0.9"/>
<line x1="551.79" y1="428.90" x2="551.79" y2="440.87" stroke="#444" stroke-width="1.0"/>
<path d="M551.79 432.51L554.17 434.88L551.79 437.26L549.41 434.88Z" fill="#dc6d50" stroke="#9a9a9a" stroke-width="0.9"/>
<line x1="560.57" y1="433.16" x2="560.57" y2="445.13" stroke="#444" stroke-width="1.0"/>
<path d="M560.57 436.77L562.95 439.14L560.57 441.52L558.19 439.14Z" fill="#dc6d50" stroke="#9a9a9a" stroke-width="0.9"/>
<line x1="569.35" y1="426.37" x2="569.35" y2="438.34" stroke="#444" stroke-width="1.0"/>
<path d="M569.35 429.98L571.73 432.36L569.35 434.73L566.97 432.36Z" fill="#dc6d50" stroke="#9a9a9a" stroke-width="0.9"/>
<line x1="578.13" y1="425.18" x2="578.13" y2="437.15" stroke="#444" stroke-width="1.0"/>
<path d="M578.13 428.79L580.51 431.16L578.13 433.54L575.75 431.16Z" fill="#dc6d50" stroke="#9a9a9a" stroke-width="0.9"/>
<line x1="586.91" y1="435.68" x2="586.91" y2="447.65" stroke="#444" stroke-width="1.0"/>
<path d="M586.91 439.29L589.29 441.67L586.91 444.04L584.53 441.67Z" fill="#dc6d50" stroke="#9a9a9a" stroke-width="0.9"/>
<line x1="595.69" y1="425.71" x2="595.69" y2="437.68" stroke="#444" stroke-width="1.0"/>
<path d="M595.69 429.32L598.07 431.69L595.69 434.07L593.31 431.69Z" fill="#dc6d50" stroke="#9a9a9a" stroke-width="0.9"/>
<line x1="604.47" y1="435.02" x2="604.47" y2="446.99" stroke="#444" stroke-width="1.0"/>
<path d="M604.47 438.63L606.85 441.00L604.47 443.38L602.09 441.00Z" fill="#dc6d50" stroke="#9a9a9a" stroke-width="0.9"/>
<line x1="613.25" y1="424.38" x2="613.25" y2="436.35" stroke="#444" stroke-width="1.0"/>
<path d="M613.25 427.99L615.63 430.36L613.25 432.74L610.87 430.36Z" fill="#dc6d50" stroke="#9a9a9a" stroke-width="0.9"/>
<line x1="622.03" y1="426.91" x2="622.03" y2="438.88" stroke="#444" stroke-width="1.0"/>
<path d="M622.03 430.51L624.41 432.89L622.03 435.27L619.65 432.89Z" fill="#dc6d50" stroke="#9a9a9a" stroke-width="0.9"/>
<line x1="630.81" y1="433.16" x2="630.81" y2="445.13" stroke="#444" stroke-width="1.0"/>
<path d="M630.81 436.77L633.19 439.14L630.81 441.52L628.43 439.14Z" fill="#dc6d50" stroke="#9a9a9a" stroke-width="0.9"/>
<line x1="639.59" y1="419.19" x2="639.59" y2="431.16" stroke="#444" stroke-width="1.0"/>
<path d="M639.59 422.80L641.97 425.18L639.59 427.55L637.21 425.18Z" fill="#dc6d50" stroke="#9a9a9a" stroke-width="0.9"/>
<line x1="648.37" y1="430.50" x2="648.37" y2="442.47" stroke="#444" stroke-width="1.0"/>
<path d="M648.37 434.11L650.75 436.48L648.37 438.86L645.99 436.48Z" fill="#dc6d50" stroke="#9a9a9a" stroke-width="0.9"/>
<line x1="657.15" y1="428.90" x2="657.15" y2="440.87" stroke="#444" stroke-width="1.0"/>
<path d="M657.15 432.51L659.53 434.88L657.15 437.26L654.77 434.88Z" fill="#dc6d50" stroke="#9a9a9a" stroke-width="0.9"/>
<line x1="665.93" y1="423.58" x2="665.93" y2="435.55" stroke="#444" stroke-width="1.0"/>
<path d="M665.93 427.19L668.31 429.56L665.93 431.94L663.55 429.56Z" fill="#dc6d50" stroke="#9a9a9a" stroke-width="0.9"/>
<line x1="674.71" y1="434.49" x2="674.71" y2="446.46" stroke="#444" stroke-width="1.0"/>
<path d="M674.71 438.10L677.09 440.47L674.71 442.85L672.33 440.47Z" fill="#dc6d50" stroke="#9a9a9a" stroke-width="0.9"/>
<line x1="503.50" y1="462.55" x2="503.50" y2="473.19" stroke="#222" stroke-width="1.1"/>
<line x1="511.86" y1="457.63" x2="511.86" y2="468.27" stroke="#222" stroke-width="1.1"/>
<line x1="520.22" y1="452.71" x2="520.22" y2="463.35" stroke="#222" stroke-width="1.1"/>
<line x1="528.59" y1="440.87" x2="528.59" y2="451.51" stroke="#222" stroke-width="1.1"/>
<line x1="536.95" y1="396.98" x2="536.95" y2="407.62" stroke="#222" stroke-width="1.1"/>
<line x1="545.31" y1="407.62" x2="545.31" y2="418.26" stroke="#222" stroke-width="1.1"/>
<line x1="553.67" y1="389.67" x2="553.67" y2="400.31" stroke="#222" stroke-width="1.1"/>
<line x1="562.03" y1="369.58" x2="562.03" y2="380.22" stroke="#222" stroke-width="1.1"/>
<line x1="570.40" y1="350.96" x2="570.40" y2="361.60" stroke="#222" stroke-width="1.1"/>
<line x1="578.76" y1="343.38" x2="578.76" y2="354.02" stroke="#222" stroke-width="1.1"/>
<line x1="587.12" y1="334.74" x2="587.12" y2="345.38" stroke="#222" stroke-width="1.1"/>
<line x1="595.48" y1="340.46" x2="595.48" y2="351.10" stroke="#222" stroke-width="1.1"/>
<line x1="603.84" y1="342.58" x2="603.84" y2="353.22" stroke="#222" stroke-width="1.1"/>
<line x1="612.20" y1="350.43" x2="612.20" y2="361.07" stroke="#222" stroke-width="1.1"/>
<line x1="620.57" y1="370.38" x2="620.57" y2="381.02" stroke="#222" stroke-width="1.1"/>
<line x1="628.93" y1="376.10" x2="628.93" y2="386.74" stroke="#222" stroke-width="1.1"/>
<line x1="637.29" y1="419.86" x2="637.29" y2="430.50" stroke="#222" stroke-width="1.1"/>
<line x1="645.65" y1="425.04" x2="645.65" y2="435.68" stroke="#222" stroke-width="1.1"/>
<line x1="654.01" y1="442.20" x2="654.01" y2="452.84" stroke="#222" stroke-width="1.1"/>
<line x1="662.38" y1="459.22" x2="662.38" y2="469.86" stroke="#222" stroke-width="1.1"/>
<line x1="670.74" y1="459.22" x2="670.74" y2="469.86" stroke="#222" stroke-width="1.1"/>
<path d="M503.50 465.47L505.66 469.31L501.34 469.31Z" fill="#f4a32a" stroke="#1a1a1a" stroke-width="0.85"/>
<path d="M511.86 460.55L514.02 464.39L509.70 464.39Z" fill="#f4a32a" stroke="#1a1a1a" stroke-width="0.85"/>
<path d="M520.22 455.63L522.38 459.47L518.06 459.47Z" fill="#f4a32a" stroke="#1a1a1a" stroke-width="0.85"/>
<path d="M528.59 443.79L530.75 447.63L526.43 447.63Z" fill="#f4a32a" stroke="#1a1a1a" stroke-width="0.85"/>
<path d="M536.95 399.90L539.11 403.74L534.79 403.74Z" fill="#f4a32a" stroke="#1a1a1a" stroke-width="0.85"/>
<path d="M545.31 410.54L547.47 414.38L543.15 414.38Z" fill="#f4a32a" stroke="#1a1a1a" stroke-width="0.85"/>
<path d="M553.67 392.59L555.83 396.43L551.51 396.43Z" fill="#f4a32a" stroke="#1a1a1a" stroke-width="0.85"/>
<path d="M562.03 372.50L564.19 376.34L559.87 376.34Z" fill="#f4a32a" stroke="#1a1a1a" stroke-width="0.85"/>
<path d="M570.40 353.88L572.56 357.72L568.24 357.72Z" fill="#f4a32a" stroke="#1a1a1a" stroke-width="0.85"/>
<path d="M578.76 346.30L580.92 350.14L576.60 350.14Z" fill="#f4a32a" stroke="#1a1a1a" stroke-width="0.85"/>
<path d="M587.12 337.66L589.28 341.50L584.96 341.50Z" fill="#f4a32a" stroke="#1a1a1a" stroke-width="0.85"/>
<path d="M595.48 343.38L597.64 347.21L593.32 347.21Z" fill="#f4a32a" stroke="#1a1a1a" stroke-width="0.85"/>
<path d="M603.84 345.50L606.00 349.34L601.68 349.34Z" fill="#f4a32a" stroke="#1a1a1a" stroke-width="0.85"/>
<path d="M612.20 353.35L614.36 357.19L610.04 357.19Z" fill="#f4a32a" stroke="#1a1a1a" stroke-width="0.85"/>
<path d="M620.57 373.30L622.73 377.14L618.41 377.14Z" fill="#f4a32a" stroke="#1a1a1a" stroke-width="0.85"/>
<path d="M628.93 379.02L631.09 382.86L626.77 382.86Z" fill="#f4a32a" stroke="#1a1a1a" stroke-width="0.85"/>
<path d="M637.29 422.78L639.45 426.62L635.13 426.62Z" fill="#f4a32a" stroke="#1a1a1a" stroke-width="0.85"/>
<path d="M645.65 427.96L647.81 431.80L643.49 431.80Z" fill="#f4a32a" stroke="#1a1a1a" stroke-width="0.85"/>
<path d="M654.01 445.12L656.17 448.96L651.85 448.96Z" fill="#f4a32a" stroke="#1a1a1a" stroke-width="0.85"/>
<path d="M662.38 462.14L664.54 465.98L660.22 465.98Z" fill="#f4a32a" stroke="#1a1a1a" stroke-width="0.85"/>
<path d="M670.74 462.14L672.90 465.98L668.58 465.98Z" fill="#f4a32a" stroke="#1a1a1a" stroke-width="0.85"/>
<line x1="507.89" y1="367.06" x2="507.89" y2="379.03" stroke="#222" stroke-width="1.1"/>
<line x1="516.67" y1="370.25" x2="516.67" y2="382.22" stroke="#222" stroke-width="1.1"/>
<line x1="525.45" y1="379.02" x2="525.45" y2="391.00" stroke="#222" stroke-width="1.1"/>
<line x1="534.23" y1="385.14" x2="534.23" y2="397.11" stroke="#222" stroke-width="1.1"/>
<line x1="543.01" y1="401.63" x2="543.01" y2="413.61" stroke="#222" stroke-width="1.1"/>
<line x1="551.79" y1="406.16" x2="551.79" y2="418.13" stroke="#222" stroke-width="1.1"/>
<line x1="560.57" y1="402.70" x2="560.57" y2="414.67" stroke="#222" stroke-width="1.1"/>
<line x1="569.35" y1="417.46" x2="569.35" y2="429.43" stroke="#222" stroke-width="1.1"/>
<line x1="578.13" y1="412.67" x2="578.13" y2="424.64" stroke="#222" stroke-width="1.1"/>
<line x1="586.91" y1="414.00" x2="586.91" y2="425.97" stroke="#222" stroke-width="1.1"/>
<line x1="595.69" y1="421.05" x2="595.69" y2="433.02" stroke="#222" stroke-width="1.1"/>
<line x1="604.47" y1="425.18" x2="604.47" y2="437.15" stroke="#222" stroke-width="1.1"/>
<line x1="613.25" y1="418.39" x2="613.25" y2="430.36" stroke="#222" stroke-width="1.1"/>
<line x1="622.03" y1="411.88" x2="622.03" y2="423.85" stroke="#222" stroke-width="1.1"/>
<line x1="630.81" y1="397.64" x2="630.81" y2="409.62" stroke="#222" stroke-width="1.1"/>
<line x1="639.59" y1="389.67" x2="639.59" y2="401.63" stroke="#222" stroke-width="1.1"/>
<line x1="648.37" y1="382.48" x2="648.37" y2="394.45" stroke="#222" stroke-width="1.1"/>
<line x1="657.15" y1="387.67" x2="657.15" y2="399.64" stroke="#222" stroke-width="1.1"/>
<line x1="665.93" y1="377.03" x2="665.93" y2="389.00" stroke="#222" stroke-width="1.1"/>
<line x1="674.71" y1="367.06" x2="674.71" y2="379.03" stroke="#222" stroke-width="1.1"/>
<rect x="505.68" y="370.83" width="4.42" height="4.42" fill="#3aa348" stroke="#1a1a1a" stroke-width="0.85"/>
<rect x="514.46" y="374.02" width="4.42" height="4.42" fill="#3aa348" stroke="#1a1a1a" stroke-width="0.85"/>
<rect x="523.24" y="382.80" width="4.42" height="4.42" fill="#3aa348" stroke="#1a1a1a" stroke-width="0.85"/>
<rect x="532.02" y="388.92" width="4.42" height="4.42" fill="#3aa348" stroke="#1a1a1a" stroke-width="0.85"/>
<rect x="540.80" y="405.41" width="4.42" height="4.42" fill="#3aa348" stroke="#1a1a1a" stroke-width="0.85"/>
<rect x="549.58" y="409.93" width="4.42" height="4.42" fill="#3aa348" stroke="#1a1a1a" stroke-width="0.85"/>
<rect x="558.36" y="406.48" width="4.42" height="4.42" fill="#3aa348" stroke="#1a1a1a" stroke-width="0.85"/>
<rect x="567.14" y="421.24" width="4.42" height="4.42" fill="#3aa348" stroke="#1a1a1a" stroke-width="0.85"/>
<rect x="575.92" y="416.45" width="4.42" height="4.42" fill="#3aa348" stroke="#1a1a1a" stroke-width="0.85"/>
<rect x="584.70" y="417.78" width="4.42" height="4.42" fill="#3aa348" stroke="#1a1a1a" stroke-width="0.85"/>
<rect x="593.48" y="424.83" width="4.42" height="4.42" fill="#3aa348" stroke="#1a1a1a" stroke-width="0.85"/>
<rect x="602.26" y="428.95" width="4.42" height="4.42" fill="#3aa348" stroke="#1a1a1a" stroke-width="0.85"/>
<rect x="611.04" y="422.17" width="4.42" height="4.42" fill="#3aa348" stroke="#1a1a1a" stroke-width="0.85"/>
<rect x="619.82" y="415.65" width="4.42" height="4.42" fill="#3aa348" stroke="#1a1a1a" stroke-width="0.85"/>
<rect x="628.60" y="401.42" width="4.42" height="4.42" fill="#3aa348" stroke="#1a1a1a" stroke-width="0.85"/>
<rect x="637.38" y="393.44" width="4.42" height="4.42" fill="#3aa348" stroke="#1a1a1a" stroke-width="0.85"/>
<rect x="646.16" y="386.26" width="4.42" height="4.42" fill="#3aa348" stroke="#1a1a1a" stroke-width="0.85"/>
<rect x="654.94" y="391.45" width="4.42" height="4.42" fill="#3aa348" stroke="#1a1a1a" stroke-width="0.85"/>
<rect x="663.72" y="380.81" width="4.42" height="4.42" fill="#3aa348" stroke="#1a1a1a" stroke-width="0.85"/>
<rect x="672.50" y="370.83" width="4.42" height="4.42" fill="#3aa348" stroke="#1a1a1a" stroke-width="0.85"/>
<line x1="507.89" y1="389.00" x2="507.89" y2="400.97" stroke="#222" stroke-width="1.1"/>
<line x1="516.67" y1="384.35" x2="516.67" y2="396.32" stroke="#222" stroke-width="1.1"/>
<line x1="525.45" y1="377.16" x2="525.45" y2="389.13" stroke="#222" stroke-width="1.1"/>
<line x1="534.23" y1="372.77" x2="534.23" y2="384.74" stroke="#222" stroke-width="1.1"/>
<line x1="543.01" y1="363.46" x2="543.01" y2="375.43" stroke="#222" stroke-width="1.1"/>
<line x1="551.79" y1="367.59" x2="551.79" y2="379.56" stroke="#222" stroke-width="1.1"/>
<line x1="560.57" y1="370.78" x2="560.57" y2="382.75" stroke="#222" stroke-width="1.1"/>
<line x1="569.35" y1="389.00" x2="569.35" y2="400.97" stroke="#222" stroke-width="1.1"/>
<line x1="578.13" y1="382.48" x2="578.13" y2="394.45" stroke="#222" stroke-width="1.1"/>
<line x1="586.91" y1="392.99" x2="586.91" y2="404.96" stroke="#222" stroke-width="1.1"/>
<line x1="595.69" y1="404.83" x2="595.69" y2="416.80" stroke="#222" stroke-width="1.1"/>
<line x1="604.47" y1="414.00" x2="604.47" y2="425.97" stroke="#222" stroke-width="1.1"/>
<line x1="613.25" y1="412.67" x2="613.25" y2="424.64" stroke="#222" stroke-width="1.1"/>
<line x1="622.03" y1="426.91" x2="622.03" y2="438.88" stroke="#222" stroke-width="1.1"/>
<line x1="630.81" y1="424.25" x2="630.81" y2="436.22" stroke="#222" stroke-width="1.1"/>
<line x1="639.59" y1="420.52" x2="639.59" y2="432.49" stroke="#222" stroke-width="1.1"/>
<line x1="648.37" y1="418.39" x2="648.37" y2="430.36" stroke="#222" stroke-width="1.1"/>
<line x1="657.15" y1="406.16" x2="657.15" y2="418.13" stroke="#222" stroke-width="1.1"/>
<line x1="665.93" y1="394.32" x2="665.93" y2="406.29" stroke="#222" stroke-width="1.1"/>
<line x1="674.71" y1="398.18" x2="674.71" y2="410.15" stroke="#222" stroke-width="1.1"/>
<circle cx="507.89" cy="394.99" r="2.48" fill="#3b9ad9" stroke="#1a1a1a" stroke-width="0.85"/>
<circle cx="516.67" cy="390.33" r="2.48" fill="#3b9ad9" stroke="#1a1a1a" stroke-width="0.85"/>
<circle cx="525.45" cy="383.15" r="2.48" fill="#3b9ad9" stroke="#1a1a1a" stroke-width="0.85"/>
<circle cx="534.23" cy="378.76" r="2.48" fill="#3b9ad9" stroke="#1a1a1a" stroke-width="0.85"/>
<circle cx="543.01" cy="369.45" r="2.48" fill="#3b9ad9" stroke="#1a1a1a" stroke-width="0.85"/>
<circle cx="551.79" cy="373.57" r="2.48" fill="#3b9ad9" stroke="#1a1a1a" stroke-width="0.85"/>
<circle cx="560.57" cy="376.76" r="2.48" fill="#3b9ad9" stroke="#1a1a1a" stroke-width="0.85"/>
<circle cx="569.35" cy="394.99" r="2.48" fill="#3b9ad9" stroke="#1a1a1a" stroke-width="0.85"/>
<circle cx="578.13" cy="388.47" r="2.48" fill="#3b9ad9" stroke="#1a1a1a" stroke-width="0.85"/>
<circle cx="586.91" cy="398.98" r="2.48" fill="#3b9ad9" stroke="#1a1a1a" stroke-width="0.85"/>
<circle cx="595.69" cy="410.81" r="2.48" fill="#3b9ad9" stroke="#1a1a1a" stroke-width="0.85"/>
<circle cx="604.47" cy="419.99" r="2.48" fill="#3b9ad9" stroke="#1a1a1a" stroke-width="0.85"/>
<circle cx="613.25" cy="418.66" r="2.48" fill="#3b9ad9" stroke="#1a1a1a" stroke-width="0.85"/>
<circle cx="622.03" cy="432.89" r="2.48" fill="#3b9ad9" stroke="#1a1a1a" stroke-width="0.85"/>
<circle cx="630.81" cy="430.23" r="2.48" fill="#3b9ad9" stroke="#1a1a1a" stroke-width="0.85"/>
<circle cx="639.59" cy="426.51" r="2.48" fill="#3b9ad9" stroke="#1a1a1a" stroke-width="0.85"/>
<circle cx="648.37" cy="424.38" r="2.48" fill="#3b9ad9" stroke="#1a1a1a" stroke-width="0.85"/>
<circle cx="657.15" cy="412.14" r="2.48" fill="#3b9ad9" stroke="#1a1a1a" stroke-width="0.85"/>
<circle cx="665.93" cy="400.31" r="2.48" fill="#3b9ad9" stroke="#1a1a1a" stroke-width="0.85"/>
<circle cx="674.71" cy="404.16" r="2.48" fill="#3b9ad9" stroke="#1a1a1a" stroke-width="0.85"/>
<rect x="646.0" y="338.4" width="33.6" height="48.7" rx="2" fill="#fff" fill-opacity="0.8" stroke="#dddddd" stroke-width="0.8"/>
<line x1="648.2" y1="344.30" x2="660.9" y2="344.30" stroke="#55a0d8" stroke-width="1.5"/>
<line x1="654.6" y1="340.70" x2="654.6" y2="347.90" stroke="#333" stroke-width="0.9"/>
<circle cx="654.60" cy="344.30" r="2.29" fill="#3b9ad9" stroke="#1a1a1a" stroke-width="0.85"/>
<text x="664.0" y="347.30" font-family="Liberation Serif" font-size="13" font-style="italic" fill="#222">σ<tspan font-size="8.5" dy="2">x</tspan></text>
<line x1="648.2" y1="357.00" x2="660.9" y2="357.00" stroke="#52aa57" stroke-width="1.5"/>
<line x1="654.6" y1="353.40" x2="654.6" y2="360.60" stroke="#333" stroke-width="0.9"/>
<circle cx="654.60" cy="357.00" r="2.29" fill="#3aa348" stroke="#1a1a1a" stroke-width="0.85"/>
<text x="664.0" y="360.00" font-family="Liberation Serif" font-size="13" font-style="italic" fill="#222">σ<tspan font-size="8.5" dy="2">y</tspan></text>
<line x1="648.2" y1="369.70" x2="660.9" y2="369.70" stroke="#f2a544" stroke-width="1.5"/>
<line x1="654.6" y1="366.10" x2="654.6" y2="373.30" stroke="#333" stroke-width="0.9"/>
<path d="M654.60 367.15L656.89 371.23L652.31 371.23Z" fill="#f4a32a" stroke="#1a1a1a" stroke-width="0.85"/>
<text x="664.0" y="372.70" font-family="Liberation Serif" font-size="13" font-style="italic" fill="#222">σ<tspan font-size="8.5" dy="2">z</tspan></text>
<line x1="648.2" y1="382.40" x2="660.9" y2="382.40" stroke="#e37758" stroke-width="1.5"/>
<line x1="654.6" y1="378.80" x2="654.6" y2="386.00" stroke="#333" stroke-width="0.9"/>
<path d="M654.60 379.92L657.08 382.40L654.60 384.88L652.12 382.40Z" fill="#e0643c" stroke="#1a1a1a" stroke-width="0.85"/>
<text x="665.0" y="385.90" font-family="Liberation Serif" font-size="13" font-style="italic" fill="#222">ε</text>
<rect x="498.7" y="334.6" width="182.90" height="134.40" fill="none" stroke="#111" stroke-width="1.3"/>
<line x1="503.50" y1="469.0" x2="503.50" y2="471.00" stroke="#111" stroke-width="0.8"/>
<text x="503.50" y="481.60" font-family="Liberation Sans" font-size="9.4" text-anchor="middle" fill="#1a1a1a" stroke="#1a1a1a" stroke-width="0.3">0.0</text>
<line x1="547.40" y1="469.0" x2="547.40" y2="471.00" stroke="#111" stroke-width="0.8"/>
<text x="547.40" y="481.60" font-family="Liberation Sans" font-size="9.4" text-anchor="middle" fill="#1a1a1a" stroke="#1a1a1a" stroke-width="0.3">0.5</text>
<line x1="591.30" y1="469.0" x2="591.30" y2="471.00" stroke="#111" stroke-width="0.8"/>
<text x="591.30" y="481.60" font-family="Liberation Sans" font-size="9.4" text-anchor="middle" fill="#1a1a1a" stroke="#1a1a1a" stroke-width="0.3">1.0</text>
<line x1="635.20" y1="469.0" x2="635.20" y2="471.00" stroke="#111" stroke-width="0.8"/>
<text x="635.20" y="481.60" font-family="Liberation Sans" font-size="9.4" text-anchor="middle" fill="#1a1a1a" stroke="#1a1a1a" stroke-width="0.3">1.5</text>
<line x1="679.10" y1="469.0" x2="679.10" y2="471.00" stroke="#111" stroke-width="0.8"/>
<text x="679.10" y="481.60" font-family="Liberation Sans" font-size="9.4" text-anchor="middle" fill="#1a1a1a" stroke="#1a1a1a" stroke-width="0.3">2.0</text>
<line x1="496.70" y1="468.80" x2="498.7" y2="468.80" stroke="#111" stroke-width="0.8"/>
<text x="496.40" y="472.20" font-family="Liberation Sans" font-size="9.4" text-anchor="end" fill="#1a1a1a" stroke="#1a1a1a" stroke-width="0.3">0.0</text>
<line x1="496.70" y1="442.20" x2="498.7" y2="442.20" stroke="#111" stroke-width="0.8"/>
<text x="496.40" y="445.60" font-family="Liberation Sans" font-size="9.4" text-anchor="end" fill="#1a1a1a" stroke="#1a1a1a" stroke-width="0.3">0.2</text>
<line x1="496.70" y1="415.60" x2="498.7" y2="415.60" stroke="#111" stroke-width="0.8"/>
<text x="496.40" y="419.00" font-family="Liberation Sans" font-size="9.4" text-anchor="end" fill="#1a1a1a" stroke="#1a1a1a" stroke-width="0.3">0.4</text>
<line x1="496.70" y1="389.00" x2="498.7" y2="389.00" stroke="#111" stroke-width="0.8"/>
<text x="496.40" y="392.40" font-family="Liberation Sans" font-size="9.4" text-anchor="end" fill="#1a1a1a" stroke="#1a1a1a" stroke-width="0.3">0.6</text>
<line x1="496.70" y1="362.40" x2="498.7" y2="362.40" stroke="#111" stroke-width="0.8"/>
<text x="496.40" y="365.80" font-family="Liberation Sans" font-size="9.4" text-anchor="end" fill="#1a1a1a" stroke="#1a1a1a" stroke-width="0.3">0.8</text>
<line x1="496.70" y1="335.80" x2="498.7" y2="335.80" stroke="#111" stroke-width="0.8"/>
<text x="496.40" y="339.20" font-family="Liberation Sans" font-size="9.4" text-anchor="end" fill="#1a1a1a" stroke="#1a1a1a" stroke-width="0.3">1.0</text>
<text x="546.2" y="491.6" font-family="Liberation Serif" font-size="13.5" font-style="italic" fill="#222">φ</text>
<text x="554.3" y="493.4" font-family="Liberation Serif" font-size="9.6" font-style="italic" textLength="24.0" lengthAdjust="spacingAndGlyphs" fill="#222">probe</text>
<text x="583.2" y="492.0" font-family="Liberation Serif" font-size="13.5" fill="#222">|</text>
<text x="590.2" y="491.5" font-family="Liberation Serif" font-size="13.0" textLength="8.3" lengthAdjust="spacingAndGlyphs" fill="#222">Ω</text>
<text x="598.6" y="493.6" font-family="Liberation Serif" font-size="9.6" font-style="italic" fill="#222">R</text>
<text x="604.6" y="491.5" font-family="Liberation Serif" font-size="13.5" font-style="italic" fill="#222">t</text>
<line x1="621.7" y1="483.0" x2="617.5" y2="495.8" stroke="#222" stroke-width="0.95"/>
<text x="627.0" y="491.5" font-family="Liberation Serif" font-size="13.5" textLength="7.8" lengthAdjust="spacingAndGlyphs" fill="#222">π</text>
<text transform="translate(480.4 426.0) rotate(-90)" font-family="Liberation Serif" font-size="13.5" fill="#222" textLength="45.5" lengthAdjust="spacingAndGlyphs"><tspan font-style="italic">P</tspan>(|↑<tspan font-size="8.5" font-style="italic" dy="2">M</tspan><tspan dy="-2">⟩)</tspan></text>
</svg>
</body></html>
